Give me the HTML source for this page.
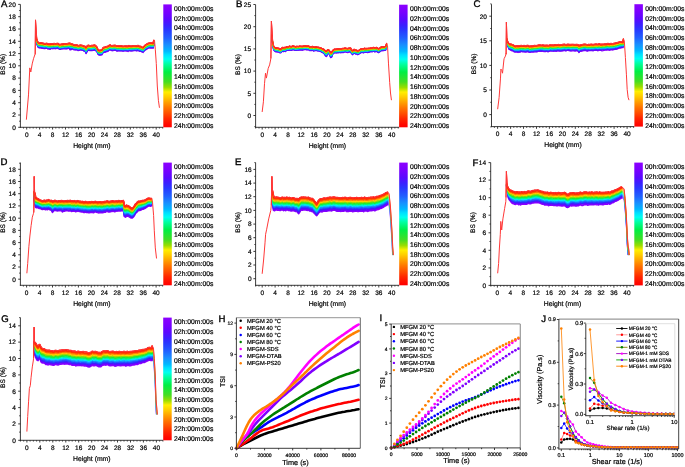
<!DOCTYPE html><html><head><meta charset="utf-8"><style>html,body{margin:0;padding:0;background:#fff}svg{display:block;will-change:transform;filter:blur(0.25px)}text{font-family:"Liberation Sans", sans-serif;text-rendering:geometricPrecision;stroke:#000;stroke-width:0.2px}</style></head><body><svg width="685" height="467" viewBox="0 0 685 467"><defs><linearGradient id="cbg" x1="0" y1="0" x2="0" y2="1"><stop offset="0.0" stop-color="#8c00ff"/><stop offset="0.062" stop-color="#7800ff"/><stop offset="0.12" stop-color="#5a08ff"/><stop offset="0.168" stop-color="#3a20ff"/><stop offset="0.208" stop-color="#2838ff"/><stop offset="0.273" stop-color="#2060ff"/><stop offset="0.33" stop-color="#1890ff"/><stop offset="0.38" stop-color="#00b8ff"/><stop offset="0.41" stop-color="#00e0ff"/><stop offset="0.445" stop-color="#00fff0"/><stop offset="0.485" stop-color="#00ffa0"/><stop offset="0.55" stop-color="#00ee44"/><stop offset="0.63" stop-color="#44dd22"/><stop offset="0.675" stop-color="#99dd00"/><stop offset="0.713" stop-color="#ffee00"/><stop offset="0.753" stop-color="#ffcc00"/><stop offset="0.797" stop-color="#ffa000"/><stop offset="0.84" stop-color="#ff7700"/><stop offset="0.886" stop-color="#ff5000"/><stop offset="0.93" stop-color="#ff2800"/><stop offset="0.976" stop-color="#ff0a00"/><stop offset="1.0" stop-color="#ff0000"/></linearGradient><clipPath id="cjm"><rect x="558.9" y="319.1" width="119.80000000000007" height="131.89999999999998"/></clipPath><clipPath id="cji"><rect x="585.8" y="323.7" width="89.0" height="94.0"/></clipPath></defs><rect width="685" height="467" fill="#fff"/><g fill="none" stroke-linejoin="round" stroke-linecap="round">
<path d="M35.7,38.3L36.6,42.6L37.5,45.8L38,47.1L39,47.8L40,47.8L41,48L42,48.3L43,48.1L44,48.5L45,48.5L46,48.1L47,48.2L48,49.1L49,48.7L50,49.4L51,48.4L52,48.6L53,48.6L54,48.5L55,48.6L56,48.7L57,48.2L58,48.5L59,49L60,49.3L61,49.2L62,48.9L63,48.8L64,48.8L65,48.8L66,48.8L67,48.8L68,48.3L69,48.2L70,49.8L71,49.7L72,49.1L73,48.9L74,49.9L75,49.8L76,49.9L77,49.6L78,50.6L79,50.3L80,50L81,49.9L82,50L83,50.4L84,50.9L85,51L86,53.6L87,52L88,50.1L89,50.4L90,50.6L91,50.5L92,50.5L93,50.3L94,50.2L95,50.2L96,50.9L97,51.8L98,54.2L99,55L100,55.1L101,55.1L102,54.8L103,52.9L104,52L105,52.3L106,51.9L107,51.6L108,51.2L109,50.2L110,49.7L111,50.4L112,50.7L113,50.6L114,50.3L115,50.4L116,50.4L117,51.2L118,51L119,50.7L120,50.8L121,50.7L122,51L123,51.2L124,50.8L125,50.9L126,51.1L127,50.8L128,51.5L129,50.4L130,50.8L131,50.7L132,51.1L133,50.9L134,50.6L135,50.4L136,50.7L137,50.8L138,50.2L139,51.1L140,51.4L141,51.4L142,52L143,52.5L144,51.1L145,50L146,49.6L147,48.9L148,48.3L149,48L150,48L151,47.8L152,48L153,48.2L153.8,45.2" stroke="#8c00ff" stroke-width="1.37"/>
<path d="M35.7,38.1L36.6,42.3L37.5,45.4L38,46.7L39,47.6L40,47.5L41,47.1L42,47.5L43,47.5L44,47.8L45,48.1L46,47.8L47,47.9L48,48.6L49,48.5L50,48.8L51,48.2L52,48.3L53,48.5L54,47.9L55,48.1L56,48.3L57,47.8L58,48.1L59,48.7L60,48.9L61,48.7L62,48.5L63,48.5L64,48L65,48L66,48.6L67,48.4L68,47.9L69,47.9L70,49.1L71,49.3L72,48.8L73,48.9L74,49.4L75,49.6L76,49.8L77,49.2L78,50.1L79,50.1L80,49.4L81,49.7L82,49.7L83,50.3L84,50.9L85,50.5L86,53.1L87,51.2L88,49.8L89,50L90,50.4L91,50.3L92,49.8L93,50.1L94,49.4L95,49.8L96,50.4L97,51.5L98,53.9L99,54.7L100,54.9L101,54.3L102,54L103,52.2L104,51.6L105,51.9L106,51.4L107,51.1L108,50.9L109,49.9L110,49.3L111,49.7L112,50.2L113,50.1L114,50.1L115,49.8L116,50L117,50.6L118,50.6L119,50.2L120,50.8L121,50.4L122,50.5L123,50.8L124,50.5L125,50.4L126,50.3L127,50.7L128,50.9L129,50.3L130,50.6L131,50.8L132,50.4L133,50.1L134,50.1L135,50.1L136,50.3L137,50.5L138,49.9L139,50.5L140,50.9L141,50.9L142,51.6L143,51.8L144,51L145,49.9L146,49.2L147,48.7L148,47.7L149,47.4L150,47.3L151,47.7L152,47.4L153,47.7L153.8,44.8" stroke="#6d03ff" stroke-width="1.37"/>
<path d="M35.7,38L36.6,42L37.5,45L38,46.3L39,46.8L40,46.9L41,46.7L42,47.2L43,47.5L44,47.8L45,48L46,47.6L47,47.3L48,48.3L49,47.8L50,48.3L51,47.5L52,48.1L53,47.8L54,47.5L55,47.9L56,47.9L57,47.5L58,47.5L59,48.3L60,48.9L61,48.4L62,48.4L63,48.4L64,47.6L65,47.9L66,47.7L67,47.9L68,47.4L69,47.6L70,48.5L71,48.9L72,47.9L73,48.1L74,48.8L75,48.8L76,49.4L77,49.2L78,49.9L79,49.6L80,49.2L81,49.4L82,49.5L83,49.6L84,50.5L85,50.4L86,52.6L87,50.8L88,49.3L89,49.7L90,49.7L91,49.7L92,49.7L93,49.5L94,49.3L95,49.1L96,50L97,51.3L98,53.3L99,54.5L100,54.2L101,54.2L102,53.8L103,51.7L104,51.6L105,51.2L106,50.7L107,50.5L108,50L109,49.3L110,49.2L111,49.3L112,49.8L113,49.7L114,49.5L115,49.6L116,49.9L117,49.9L118,49.8L119,50L120,50.4L121,50L122,50.2L123,50.4L124,50.5L125,50.3L126,50.2L127,50.4L128,50.2L129,49.8L130,50.2L131,49.9L132,49.9L133,50L134,49.9L135,49.8L136,49.7L137,49.8L138,49.8L139,50.5L140,50.4L141,50.7L142,51L143,51.4L144,50.4L145,49.4L146,48.5L147,47.9L148,47.4L149,47.1L150,46.8L151,46.9L152,47L153,47.3L153.8,44.4" stroke="#3b1fff" stroke-width="1.37"/>
<path d="M35.7,37.8L36.6,41.7L37.5,44.6L38,45.9L39,46.7L40,46.5L41,46.6L42,46.6L43,46.8L44,47.3L45,47.2L46,46.9L47,46.9L48,47.6L49,47.8L50,47.7L51,47.4L52,47.7L53,47.4L54,47.2L55,47.3L56,47.6L57,47.1L58,47.1L59,47.9L60,48.3L61,47.8L62,47.8L63,47.7L64,47.3L65,47.7L66,47.7L67,47.2L68,47.3L69,47.1L70,47.9L71,48L72,47.7L73,48.1L74,48.8L75,48.4L76,48.7L77,48.8L78,49.1L79,49.1L80,48.7L81,48.9L82,49.2L83,49.5L84,49.6L85,49.8L86,51.8L87,50.4L88,48.9L89,49.3L90,49.4L91,49.3L92,49.1L93,49L94,48.9L95,49.1L96,49.8L97,50.9L98,53L99,53.8L100,53.8L101,53.8L102,53.2L103,51.7L104,51.1L105,51L106,50.5L107,50L108,50L109,48.9L110,48.7L111,49.2L112,49.4L113,49L114,49.3L115,48.9L116,49.2L117,49.6L118,49.7L119,49.3L120,49.8L121,49.4L122,49.8L123,49.9L124,49.8L125,50L126,49.4L127,49.9L128,50L129,49.2L130,49.6L131,49.5L132,49.8L133,49.3L134,49.7L135,49.3L136,49.3L137,49.5L138,49.2L139,50L140,49.8L141,50.2L142,50.5L143,51L144,49.9L145,48.8L146,48.2L147,47.7L148,47.1L149,46.8L150,46.5L151,46.8L152,46.5L153,46.9L153.8,44" stroke="#2352ff" stroke-width="1.37"/>
<path d="M35.7,37.7L36.6,41.4L37.5,44.2L38,45.5L39,46.4L40,46L41,46L42,46.5L43,46.3L44,46.7L45,46.8L46,46.9L47,46.9L48,47.1L49,47.2L50,47.3L51,46.7L52,46.9L53,47.2L54,46.7L55,46.9L56,47.1L57,46.4L58,46.7L59,47.1L60,48L61,47.5L62,47.4L63,47.3L64,46.9L65,47.1L66,46.9L67,47L68,46.8L69,46.3L70,47.4L71,47.5L72,47.3L73,47.3L74,48.2L75,48L76,48.4L77,48L78,49L79,49L80,48.5L81,48.4L82,48.8L83,49.1L84,49.4L85,49.7L86,51.7L87,49.7L88,48.6L89,48.8L90,49L91,49L92,48.5L93,48.9L94,48.4L95,48.3L96,49.4L97,50.5L98,52.5L99,53.3L100,53.3L101,53.3L102,53L103,51.3L104,50.7L105,50.3L106,49.9L107,49.5L108,49.4L109,48.6L110,48.2L111,48.8L112,49L113,48.9L114,48.8L115,48.7L116,48.9L117,49.2L118,49.2L119,49.1L120,49.4L121,49.1L122,49.3L123,49.5L124,49.4L125,49.3L126,49.1L127,49.2L128,49.6L129,49.1L130,49.4L131,49L132,49.4L133,49.2L134,49.1L135,48.7L136,48.9L137,48.9L138,48.8L139,49.2L140,49.6L141,49.8L142,50.4L143,50.7L144,49.6L145,48.2L146,48L147,47.4L148,46.8L149,46.5L150,46L151,46.1L152,46L153,46.5L153.8,43.5" stroke="#1693ff" stroke-width="1.37"/>
<path d="M35.7,37.5L36.6,41L37.5,43.8L38,45.1L39,45.8L40,46L41,45.9L42,46L43,46.2L44,46.5L45,46.4L46,46L47,46.4L48,47.2L49,46.8L50,47.1L51,46.4L52,46.8L53,46.6L54,46L55,46.7L56,46.4L57,46.3L58,46.4L59,46.7L60,47.4L61,47L62,47L63,47.1L64,46.5L65,46.4L66,46.6L67,46.5L68,46.3L69,46.4L70,46.9L71,47L72,47L73,47.1L74,47.9L75,47.8L76,47.9L77,47.9L78,48.3L79,48.6L80,47.7L81,48L82,48.2L83,48.5L84,48.9L85,49.1L86,50.9L87,49.2L88,48L89,48.2L90,48.3L91,48.6L92,48.4L93,48.5L94,47.7L95,47.9L96,48.7L97,50L98,52.4L99,53.2L100,53.1L101,53.1L102,52.7L103,50.8L104,50L105,50.2L106,49.4L107,49.5L108,49.1L109,48.5L110,47.8L111,48.3L112,48.4L113,48.5L114,48.1L115,47.9L116,48.3L117,48.9L118,48.8L119,48.8L120,49L121,48.7L122,49L123,49L124,48.8L125,48.8L126,48.6L127,49L128,49.3L129,48.3L130,48.9L131,48.7L132,48.6L133,48.5L134,48.5L135,48.6L136,48.8L137,48.3L138,48.3L139,49L140,49.2L141,49.1L142,50.1L143,50.2L144,49.2L145,48L146,47.5L147,47L148,46.2L149,45.9L150,45.9L151,45.7L152,46L153,46.1L153.8,43.1" stroke="#00e6fc" stroke-width="1.37"/>
<path d="M35.7,37.4L36.6,40.7L37.5,43.4L38,44.6L39,45.4L40,45.3L41,45.5L42,45.7L43,45.7L44,46.1L45,46L46,45.7L47,45.8L48,46.7L49,46.3L50,46.9L51,46.1L52,46.4L53,46.4L54,45.6L55,46.4L56,46.2L57,45.6L58,45.8L59,46.7L60,47L61,46.9L62,46.7L63,46.5L64,46.1L65,46.3L66,46.5L67,46.1L68,45.9L69,45.5L70,46.2L71,46.5L72,46.4L73,46.7L74,47.6L75,47.4L76,47.7L77,47.2L78,48.2L79,48L80,47.4L81,47.6L82,48L83,48.1L84,48.4L85,48.6L86,50.5L87,49L88,47.5L89,47.8L90,47.9L91,48L92,47.8L93,47.8L94,47.5L95,47.7L96,48.4L97,49.6L98,51.9L99,52.9L100,52.5L101,52.2L102,51.9L103,50.2L104,49.6L105,49.5L106,49L107,49L108,48.4L109,47.9L110,47.6L111,47.7L112,48.1L113,48.1L114,47.8L115,47.9L116,47.8L117,48.5L118,48.5L119,48.2L120,48.7L121,48.4L122,48.6L123,48.7L124,48.7L125,48.7L126,48.5L127,48.3L128,48.6L129,48.1L130,48.3L131,48.3L132,48.6L133,48.2L134,48.5L135,48.3L136,48.3L137,48.1L138,47.8L139,48.3L140,48.6L141,48.9L142,49.6L143,49.7L144,48.7L145,47.5L146,47.2L147,46.3L148,45.9L149,45.6L150,45.5L151,45.3L152,45.3L153,45.7L153.8,42.7" stroke="#00fb8b" stroke-width="1.37"/>
<path d="M35.7,37.2L36.6,40.4L37.5,43L38,44.2L39,44.9L40,44.9L41,44.9L42,45.4L43,45.2L44,45.4L45,45.5L46,45.4L47,45.4L48,45.8L49,45.8L50,46.4L51,45.7L52,45.7L53,46.1L54,45.6L55,45.5L56,45.6L57,45.4L58,45.5L59,45.9L60,46.7L61,46.5L62,46.1L63,46.3L64,45.8L65,45.8L66,45.8L67,45.9L68,45.6L69,45.3L70,45.9L71,46.4L72,46.2L73,46.3L74,46.8L75,46.7L76,47L77,46.7L78,47.5L79,47.6L80,46.9L81,47L82,47.4L83,47.9L84,48.1L85,48.4L86,49.9L87,48.1L88,47.5L89,47.3L90,47.6L91,47.4L92,47.3L93,47.4L94,47L95,47.2L96,48.2L97,49.2L98,51.5L99,52.5L100,52.2L101,52.1L102,51.6L103,49.9L104,49.1L105,49.1L106,48.9L107,48.6L108,48.1L109,47.2L110,47L111,47.2L112,47.6L113,47.6L114,47.5L115,47.5L116,47.4L117,48.1L118,47.7L119,48.1L120,48.2L121,47.9L122,48.2L123,48.5L124,48.3L125,48.3L126,47.8L127,47.9L128,48.4L129,47.4L130,48.2L131,48L132,48.1L133,47.6L134,47.8L135,47.8L136,47.9L137,47.6L138,47.4L139,48.3L140,48.5L141,48.5L142,48.8L143,49.6L144,48.4L145,47.3L146,46.8L147,46.1L148,45.5L149,45L150,44.7L151,45.2L152,45.2L153,45.2L153.8,42.3" stroke="#1ce736" stroke-width="1.37"/>
<path d="M35.7,37.1L36.6,40.1L37.5,42.6L38,43.8L39,44.3L40,44.7L41,44.5L42,44.8L43,44.8L44,45L45,45.5L46,44.8L47,44.8L48,45.8L49,45.2L50,45.8L51,45.3L52,45.5L53,45.3L54,45.1L55,45.4L56,45.5L57,44.9L58,45.3L59,45.6L60,46.3L61,45.8L62,45.8L63,45.6L64,45.4L65,45.5L66,45.2L67,45.5L68,44.8L69,45L70,45.2L71,45.6L72,45.6L73,45.7L74,46.6L75,46.4L76,46.8L77,46.4L78,47.3L79,47.1L80,46.7L81,46.8L82,46.9L83,47.4L84,47.9L85,47.9L86,49.6L87,47.7L88,46.7L89,47.2L90,47.3L91,47.2L92,47.2L93,47.3L94,46.7L95,46.6L96,47.5L97,48.6L98,51.1L99,51.8L100,51.8L101,51.8L102,51L103,49.2L104,48.9L105,48.6L106,48.3L107,47.9L108,47.9L109,46.8L110,46.6L111,47.1L112,47.3L113,47L114,46.8L115,47.1L116,47.3L117,47.7L118,47.4L119,47.3L120,47.9L121,47.5L122,47.7L123,47.8L124,47.8L125,47.9L126,47.8L127,47.8L128,47.7L129,47L130,47.5L131,47.7L132,47.5L133,47.2L134,47.4L135,47.1L136,47.3L137,47.4L138,47.1L139,47.7L140,47.9L141,48.3L142,48.9L143,49.1L144,47.7L145,46.9L146,46L147,45.3L148,44.7L149,44.7L150,44.6L151,44.6L152,44.7L153,44.8L153.8,41.9" stroke="#89dd06" stroke-width="1.37"/>
<path d="M35.7,36.9L36.6,39.8L37.5,42.2L38,43.4L39,44.1L40,44.3L41,44L42,44.4L43,44.3L44,44.6L45,45.1L46,44.7L47,44.7L48,45.3L49,45.2L50,45.4L51,44.9L52,45.1L53,45L54,44.3L55,45.1L56,45.1L57,44.4L58,44.7L59,45.1L60,45.9L61,45.2L62,45.2L63,45L64,45.1L65,45L66,45.1L67,44.9L68,44.7L69,44.7L70,44.6L71,45.1L72,45.1L73,45.4L74,45.9L75,46.1L76,46.3L77,46.2L78,46.9L79,46.6L80,46L81,46.3L82,46.5L83,47L84,47.3L85,47.6L86,49L87,47.4L88,46.5L89,46.8L90,46.9L91,47L92,46.4L93,46.4L94,46L95,46.4L96,47.2L97,48.1L98,50.7L99,51.3L100,51.4L101,51.4L102,51L103,48.9L104,48.2L105,48.3L106,48L107,47.6L108,47.3L109,46.6L110,46.4L111,46.5L112,46.8L113,46.5L114,46.6L115,46.3L116,46.8L117,47.2L118,47.2L119,47L120,47.5L121,46.8L122,47.1L123,47.4L124,47.1L125,47.4L126,47.3L127,47.5L128,47.3L129,46.9L130,47.4L131,47.4L132,47L133,46.9L134,47.1L135,46.9L136,46.7L137,46.7L138,46.9L139,47.4L140,47.4L141,47.6L142,48.1L143,48.5L144,47.7L145,46.1L146,46L147,45.3L148,44.4L149,44.5L150,44L151,44.2L152,44.2L153,44.4L153.8,41.5" stroke="#ffcf00" stroke-width="1.37"/>
<path d="M35.7,36.8L36.6,39.4L37.5,41.8L38,43L39,43.6L40,44L41,43.7L42,43.8L43,44L44,44.2L45,44.3L46,44L47,44.3L48,44.7L49,44.5L50,44.7L51,44.6L52,44.5L53,44.5L54,44.3L55,44.3L56,44.7L57,44.2L58,44.1L59,45L60,45.2L61,44.8L62,44.9L63,45.1L64,44.4L65,44.4L66,44.6L67,44.6L68,44.4L69,44.1L70,44.2L71,44.7L72,45L73,44.9L74,45.7L75,45.5L76,46.1L77,45.8L78,46.2L79,46.5L80,46L81,45.8L82,46L83,46.3L84,47.2L85,47L86,48.7L87,46.8L88,46.1L89,46.4L90,46.4L91,46.2L92,46.3L93,46.4L94,45.8L95,46.1L96,46.9L97,48.1L98,50.4L99,51L100,50.9L101,50.6L102,50.3L103,48.5L104,47.9L105,47.7L106,47.5L107,47L108,47L109,46.1L110,46L111,46.2L112,46.3L113,46.3L114,46.2L115,46.3L116,46.5L117,46.7L118,46.5L119,46.5L120,46.8L121,46.3L122,46.9L123,47L124,46.9L125,46.8L126,46.8L127,46.7L128,47L129,46.2L130,46.9L131,46.8L132,46.9L133,46.6L134,46.3L135,46.5L136,46.7L137,46.7L138,46.1L139,46.9L140,46.9L141,47.3L142,48L143,48.4L144,47L145,46L146,45.3L147,44.6L148,44L149,43.7L150,43.7L151,43.6L152,43.6L153,44L153.8,41" stroke="#ff7d00" stroke-width="1.37"/>
<path d="M35.7,36.6L36.6,39.1L37.5,41.4L38,42.6L39,43L40,43.3L41,43.3L42,43.3L43,43.6L44,44L45,44.3L46,43.8L47,43.5L48,44.5L49,44.4L50,44.7L51,44.1L52,44.3L53,44.3L54,43.7L55,43.9L56,44L57,43.7L58,43.9L59,44.7L60,44.8L61,44.6L62,44.5L63,44.3L64,44L65,43.9L66,44.1L67,43.9L68,43.8L69,43.6L70,43.5L71,44.1L72,44.5L73,44.5L74,45.5L75,45.5L76,45.4L77,45.3L78,45.8L79,45.8L80,45.5L81,45.7L82,45.5L83,45.9L84,46.6L85,46.4L86,47.8L87,46.4L88,45.5L89,45.7L90,46L91,45.8L92,45.7L93,45.9L94,45.4L95,45.5L96,46.2L97,47.7L98,50.1L99,50.8L100,50.7L101,50.3L102,50L103,48L104,47.9L105,47.4L106,46.9L107,46.9L108,46.3L109,45.9L110,45.2L111,45.8L112,46L113,45.6L114,45.7L115,45.7L116,45.7L117,46.2L118,46.2L119,46.2L120,46.4L121,46L122,46.4L123,46.5L124,46.4L125,46.4L126,46.6L127,46.4L128,46.5L129,45.8L130,46.4L131,46.6L132,46.4L133,46.2L134,46L135,45.9L136,46.3L137,46.3L138,45.8L139,46.5L140,46.8L141,46.9L142,47.3L143,47.7L144,46.6L145,45.5L146,44.8L147,44.1L148,43.9L149,43.4L150,43.2L151,43.2L152,43.5L153,43.6L153.8,40.6" stroke="#ff3400" stroke-width="1.37"/>
<path d="M39,42.8L40,42.9L41,42.7L42,43L43,43.1L44,43.4L45,43.7L46,43.3L47,43.3L48,44L49,43.8L50,44.1L51,43.6L52,43.7L53,43.8L54,43.3L55,43.7L56,43.7L57,43.3L58,43.4L59,44L60,44.5L61,44.2L62,44L63,44L64,43.6L65,43.7L66,43.7L67,43.7L68,43.3L69,43.2L70,43.1L71,43.7L72,44L73,44.2L74,44.9L75,44.8L76,45L77,44.8L78,45.5L79,45.6L80,45L81,45.1L82,45.3L83,45.6L84,46.1L85,46.2L86,47.5L87,45.9L88,45.2L89,45.4L90,45.6L91,45.5L92,45.3L93,45.4L94,45L95,45.1L96,45.8L97,47L98,49.4L99,50.2L100,50.1L101,49.9L102,49.6L103,47.7L104,47.2L105,47.2L106,46.7L107,46.4L108,46.1L109,45.3L110,44.9L111,45.3L112,45.6L113,45.4L114,45.3L115,45.2L116,45.5L117,45.9L118,45.8L119,45.7L120,46L121,45.6L122,45.9L123,46.3L124,46.1L125,46L126,45.9L127,46L128,46.2L129,45.5L130,46L131,45.9L132,45.9L133,45.7L134,45.7L135,45.6L136,45.7L137,45.6L138,45.4L139,46.1L140,46.2L141,46.4L142,47L143,47.4L144,46.2L145,45.1L146,44.5L147,43.9L148,43.2L149,43.1L150,42.8L151,42.9L152,42.9L153,43.2L153.8,40.2" stroke="#ff1010" stroke-width="1.3"/>
<path d="M35.2,54L35.5,19.9L36.1,28L36.6,36.4L37,39.8L38.3,42.4" stroke="#ff1a1a" stroke-width="1.0"/>
<path d="M26.4,119.3L28.5,94.9L29.8,67.9L30.8,72L32.2,63.9L33.5,58.7L34.8,54.9L35.2,54L35.5,19.9L36.1,28L36.6,36.4L37,39.8L38.3,42.4L39,42.8L40,42.9L41,42.7L42,43L43,43.1L44,43.4L45,43.7L46,43.3L47,43.3L48,44L49,43.8L50,44.1L51,43.6L52,43.7L53,43.8L54,43.3L55,43.7L56,43.7L57,43.3L58,43.4L59,44L60,44.5L61,44.2L62,44L63,44L64,43.6L65,43.7L66,43.7L67,43.7L68,43.3L69,43.2L70,43.1L71,43.7L72,44L73,44.2L74,44.9L75,44.8L76,45L77,44.8L78,45.5L79,45.6L80,45L81,45.1L82,45.3L83,45.6L84,46.1L85,46.2L86,47.5L87,45.9L88,45.2L89,45.4L90,45.6L91,45.5L92,45.3L93,45.4L94,45L95,45.1L96,45.8L97,47L98,49.4L99,50.2L100,50.1L101,49.9L102,49.6L103,47.7L104,47.2L105,47.2L106,46.7L107,46.4L108,46.1L109,45.3L110,44.9L111,45.3L112,45.6L113,45.4L114,45.3L115,45.2L116,45.5L117,45.9L118,45.8L119,45.7L120,46L121,45.6L122,45.9L123,46.3L124,46.1L125,46L126,45.9L127,46L128,46.2L129,45.5L130,46L131,45.9L132,45.9L133,45.7L134,45.7L135,45.6L136,45.7L137,45.6L138,45.4L139,46.1L140,46.2L141,46.4L142,47L143,47.4L144,46.2L145,45.1L146,44.5L147,43.9L148,43.2L149,43.1L150,42.8L151,42.9L152,42.9L153,43.2L153.8,40.2L154.5,40.5L155.3,49.3L156.3,63.6L157.3,86L158.4,100.3L159.4,107.4" stroke="#ff3838" stroke-width="1.0"/>
</g>
<line x1="20.4" y1="4.4" x2="20.4" y2="127.8" stroke="#262626" stroke-width="0.9"/>
<line x1="19.9" y1="127.3" x2="163.3" y2="127.3" stroke="#262626" stroke-width="0.9"/>
<line x1="18.2" y1="127.3" x2="20.4" y2="127.3" stroke="#262626" stroke-width="0.9"/>
<text x="15.8" y="129.6" font-size="6.5" text-anchor="end" fill="#000">0</text>
<line x1="18.2" y1="115" x2="20.4" y2="115" stroke="#262626" stroke-width="0.9"/>
<text x="15.8" y="117.3" font-size="6.5" text-anchor="end" fill="#000">2</text>
<line x1="18.2" y1="102.7" x2="20.4" y2="102.7" stroke="#262626" stroke-width="0.9"/>
<text x="15.8" y="105" font-size="6.5" text-anchor="end" fill="#000">4</text>
<line x1="18.2" y1="90.4" x2="20.4" y2="90.4" stroke="#262626" stroke-width="0.9"/>
<text x="15.8" y="92.7" font-size="6.5" text-anchor="end" fill="#000">6</text>
<line x1="18.2" y1="78.1" x2="20.4" y2="78.1" stroke="#262626" stroke-width="0.9"/>
<text x="15.8" y="80.4" font-size="6.5" text-anchor="end" fill="#000">8</text>
<line x1="18.2" y1="65.8" x2="20.4" y2="65.8" stroke="#262626" stroke-width="0.9"/>
<text x="15.8" y="68.1" font-size="6.5" text-anchor="end" fill="#000">10</text>
<line x1="18.2" y1="53.6" x2="20.4" y2="53.6" stroke="#262626" stroke-width="0.9"/>
<text x="15.8" y="55.9" font-size="6.5" text-anchor="end" fill="#000">12</text>
<line x1="18.2" y1="41.3" x2="20.4" y2="41.3" stroke="#262626" stroke-width="0.9"/>
<text x="15.8" y="43.6" font-size="6.5" text-anchor="end" fill="#000">14</text>
<line x1="18.2" y1="29" x2="20.4" y2="29" stroke="#262626" stroke-width="0.9"/>
<text x="15.8" y="31.3" font-size="6.5" text-anchor="end" fill="#000">16</text>
<line x1="18.2" y1="16.7" x2="20.4" y2="16.7" stroke="#262626" stroke-width="0.9"/>
<text x="15.8" y="19" font-size="6.5" text-anchor="end" fill="#000">18</text>
<line x1="18.2" y1="4.4" x2="20.4" y2="4.4" stroke="#262626" stroke-width="0.9"/>
<text x="15.8" y="6.7" font-size="6.5" text-anchor="end" fill="#000">20</text>
<line x1="19.2" y1="121.2" x2="20.4" y2="121.2" stroke="#262626" stroke-width="0.9"/>
<line x1="19.2" y1="108.9" x2="20.4" y2="108.9" stroke="#262626" stroke-width="0.9"/>
<line x1="19.2" y1="96.6" x2="20.4" y2="96.6" stroke="#262626" stroke-width="0.9"/>
<line x1="19.2" y1="84.3" x2="20.4" y2="84.3" stroke="#262626" stroke-width="0.9"/>
<line x1="19.2" y1="72" x2="20.4" y2="72" stroke="#262626" stroke-width="0.9"/>
<line x1="19.2" y1="59.7" x2="20.4" y2="59.7" stroke="#262626" stroke-width="0.9"/>
<line x1="19.2" y1="47.4" x2="20.4" y2="47.4" stroke="#262626" stroke-width="0.9"/>
<line x1="19.2" y1="35.1" x2="20.4" y2="35.1" stroke="#262626" stroke-width="0.9"/>
<line x1="19.2" y1="22.8" x2="20.4" y2="22.8" stroke="#262626" stroke-width="0.9"/>
<line x1="19.2" y1="10.5" x2="20.4" y2="10.5" stroke="#262626" stroke-width="0.9"/>
<line x1="26.7" y1="127.3" x2="26.7" y2="129.5" stroke="#262626" stroke-width="0.9"/>
<text x="26.7" y="136.6" font-size="6.5" text-anchor="middle" fill="#000">0</text>
<line x1="39.6" y1="127.3" x2="39.6" y2="129.5" stroke="#262626" stroke-width="0.9"/>
<text x="39.6" y="136.6" font-size="6.5" text-anchor="middle" fill="#000">4</text>
<line x1="52.6" y1="127.3" x2="52.6" y2="129.5" stroke="#262626" stroke-width="0.9"/>
<text x="52.6" y="136.6" font-size="6.5" text-anchor="middle" fill="#000">8</text>
<line x1="65.5" y1="127.3" x2="65.5" y2="129.5" stroke="#262626" stroke-width="0.9"/>
<text x="65.5" y="136.6" font-size="6.5" text-anchor="middle" fill="#000">12</text>
<line x1="78.5" y1="127.3" x2="78.5" y2="129.5" stroke="#262626" stroke-width="0.9"/>
<text x="78.5" y="136.6" font-size="6.5" text-anchor="middle" fill="#000">16</text>
<line x1="91.5" y1="127.3" x2="91.5" y2="129.5" stroke="#262626" stroke-width="0.9"/>
<text x="91.5" y="136.6" font-size="6.5" text-anchor="middle" fill="#000">20</text>
<line x1="104.4" y1="127.3" x2="104.4" y2="129.5" stroke="#262626" stroke-width="0.9"/>
<text x="104.4" y="136.6" font-size="6.5" text-anchor="middle" fill="#000">24</text>
<line x1="117.3" y1="127.3" x2="117.3" y2="129.5" stroke="#262626" stroke-width="0.9"/>
<text x="117.3" y="136.6" font-size="6.5" text-anchor="middle" fill="#000">28</text>
<line x1="130.3" y1="127.3" x2="130.3" y2="129.5" stroke="#262626" stroke-width="0.9"/>
<text x="130.3" y="136.6" font-size="6.5" text-anchor="middle" fill="#000">32</text>
<line x1="143.2" y1="127.3" x2="143.2" y2="129.5" stroke="#262626" stroke-width="0.9"/>
<text x="143.2" y="136.6" font-size="6.5" text-anchor="middle" fill="#000">36</text>
<line x1="156.2" y1="127.3" x2="156.2" y2="129.5" stroke="#262626" stroke-width="0.9"/>
<text x="156.2" y="136.6" font-size="6.5" text-anchor="middle" fill="#000">40</text>
<line x1="23.5" y1="127.3" x2="23.5" y2="128.5" stroke="#262626" stroke-width="0.9"/>
<line x1="29.9" y1="127.3" x2="29.9" y2="128.5" stroke="#262626" stroke-width="0.9"/>
<line x1="33.2" y1="127.3" x2="33.2" y2="128.5" stroke="#262626" stroke-width="0.9"/>
<line x1="36.4" y1="127.3" x2="36.4" y2="128.5" stroke="#262626" stroke-width="0.9"/>
<line x1="42.9" y1="127.3" x2="42.9" y2="128.5" stroke="#262626" stroke-width="0.9"/>
<line x1="46.1" y1="127.3" x2="46.1" y2="128.5" stroke="#262626" stroke-width="0.9"/>
<line x1="49.4" y1="127.3" x2="49.4" y2="128.5" stroke="#262626" stroke-width="0.9"/>
<line x1="55.8" y1="127.3" x2="55.8" y2="128.5" stroke="#262626" stroke-width="0.9"/>
<line x1="59.1" y1="127.3" x2="59.1" y2="128.5" stroke="#262626" stroke-width="0.9"/>
<line x1="62.3" y1="127.3" x2="62.3" y2="128.5" stroke="#262626" stroke-width="0.9"/>
<line x1="68.8" y1="127.3" x2="68.8" y2="128.5" stroke="#262626" stroke-width="0.9"/>
<line x1="72" y1="127.3" x2="72" y2="128.5" stroke="#262626" stroke-width="0.9"/>
<line x1="75.3" y1="127.3" x2="75.3" y2="128.5" stroke="#262626" stroke-width="0.9"/>
<line x1="81.7" y1="127.3" x2="81.7" y2="128.5" stroke="#262626" stroke-width="0.9"/>
<line x1="85" y1="127.3" x2="85" y2="128.5" stroke="#262626" stroke-width="0.9"/>
<line x1="88.2" y1="127.3" x2="88.2" y2="128.5" stroke="#262626" stroke-width="0.9"/>
<line x1="94.7" y1="127.3" x2="94.7" y2="128.5" stroke="#262626" stroke-width="0.9"/>
<line x1="97.9" y1="127.3" x2="97.9" y2="128.5" stroke="#262626" stroke-width="0.9"/>
<line x1="101.2" y1="127.3" x2="101.2" y2="128.5" stroke="#262626" stroke-width="0.9"/>
<line x1="107.6" y1="127.3" x2="107.6" y2="128.5" stroke="#262626" stroke-width="0.9"/>
<line x1="110.9" y1="127.3" x2="110.9" y2="128.5" stroke="#262626" stroke-width="0.9"/>
<line x1="114.1" y1="127.3" x2="114.1" y2="128.5" stroke="#262626" stroke-width="0.9"/>
<line x1="120.6" y1="127.3" x2="120.6" y2="128.5" stroke="#262626" stroke-width="0.9"/>
<line x1="123.8" y1="127.3" x2="123.8" y2="128.5" stroke="#262626" stroke-width="0.9"/>
<line x1="127.1" y1="127.3" x2="127.1" y2="128.5" stroke="#262626" stroke-width="0.9"/>
<line x1="133.5" y1="127.3" x2="133.5" y2="128.5" stroke="#262626" stroke-width="0.9"/>
<line x1="136.8" y1="127.3" x2="136.8" y2="128.5" stroke="#262626" stroke-width="0.9"/>
<line x1="140" y1="127.3" x2="140" y2="128.5" stroke="#262626" stroke-width="0.9"/>
<line x1="146.5" y1="127.3" x2="146.5" y2="128.5" stroke="#262626" stroke-width="0.9"/>
<line x1="149.7" y1="127.3" x2="149.7" y2="128.5" stroke="#262626" stroke-width="0.9"/>
<line x1="153" y1="127.3" x2="153" y2="128.5" stroke="#262626" stroke-width="0.9"/>
<line x1="159.4" y1="127.3" x2="159.4" y2="128.5" stroke="#262626" stroke-width="0.9"/>
<line x1="162.7" y1="127.3" x2="162.7" y2="128.5" stroke="#262626" stroke-width="0.9"/>
<text x="91.9" y="147.7" font-size="6.8" text-anchor="middle" fill="#000">Height (mm)</text>
<text x="4.8" y="64.3" font-size="6.6" text-anchor="middle" fill="#000" transform="rotate(-90 4.8 64.3)">BS (%)</text>
<text x="1.1" y="7.3" font-size="9.6" text-anchor="start" fill="#000" style="stroke-width:0.35px">A</text>
<rect x="163.3" y="4.4" width="8.5" height="122.9" fill="url(#cbg)"/>
<text x="174.1" y="10.9" font-size="6.8" text-anchor="start" fill="#000">00h:00m:00s</text>
<text x="174.1" y="20.7" font-size="6.8" text-anchor="start" fill="#000">02h:00m:00s</text>
<text x="174.1" y="30.4" font-size="6.8" text-anchor="start" fill="#000">04h:00m:00s</text>
<text x="174.1" y="40.1" font-size="6.8" text-anchor="start" fill="#000">06h:00m:00s</text>
<text x="174.1" y="49.9" font-size="6.8" text-anchor="start" fill="#000">08h:00m:00s</text>
<text x="174.1" y="59.6" font-size="6.8" text-anchor="start" fill="#000">10h:00m:00s</text>
<text x="174.1" y="69.3" font-size="6.8" text-anchor="start" fill="#000">12h:00m:00s</text>
<text x="174.1" y="79.1" font-size="6.8" text-anchor="start" fill="#000">14h:00m:00s</text>
<text x="174.1" y="88.8" font-size="6.8" text-anchor="start" fill="#000">16h:00m:00s</text>
<text x="174.1" y="98.5" font-size="6.8" text-anchor="start" fill="#000">18h:00m:00s</text>
<text x="174.1" y="108.3" font-size="6.8" text-anchor="start" fill="#000">20h:00m:00s</text>
<text x="174.1" y="118" font-size="6.8" text-anchor="start" fill="#000">22h:00m:00s</text>
<text x="174.1" y="127.7" font-size="6.8" text-anchor="start" fill="#000">24h:00m:00s</text>
<g fill="none" stroke-linejoin="round" stroke-linecap="round">
<path d="M271.7,35.8L272.7,44.5L273.6,50L274.6,51.2L275.6,51.7L276.6,51.9L277.6,52.2L278.6,52.2L279.6,52.8L280.6,53L281.6,52L282.6,51.3L283.6,51.8L284.6,51.1L285.6,51.6L286.6,50.4L287.6,50.5L288.6,50.4L289.6,50.2L290.6,50.4L291.6,50.5L292.6,49.8L293.6,49.9L294.6,50.3L295.6,50.5L296.6,50.3L297.6,50.2L298.6,50.2L299.6,50.2L300.6,50.1L301.6,50.2L302.6,50.3L303.6,49.8L304.6,49.7L305.6,49.6L306.6,49.8L307.6,50L308.6,49.6L309.6,50.6L310.6,50.6L311.6,50.6L312.6,50.2L313.6,51.1L314.6,50.8L315.6,50.6L316.6,50.6L317.6,50.9L318.6,51L319.6,51.3L320.6,51.4L321.6,52.3L322.6,52.8L323.6,53L324.6,54.6L325.6,56.2L326.6,56.6L327.6,54.3L328.6,53.6L329.6,55L330.6,57.7L331.6,57.5L332.6,54.5L333.6,53.2L334.6,52.8L335.6,53L336.6,53.2L337.6,52.9L338.6,52.9L339.6,52.5L340.6,52.9L341.6,52.7L342.6,52.6L343.6,52.6L344.6,51.9L345.6,51.8L346.6,52.5L347.6,52.6L348.6,52.4L349.6,52L350.6,52.1L351.6,53.7L352.6,54.8L353.6,53.7L354.6,53.3L355.6,53.9L356.6,54.1L357.6,54.8L358.6,54.4L359.6,53.4L360.6,52.9L361.6,52.7L362.6,52.5L363.6,53.1L364.6,51.9L365.6,52.3L366.6,52.2L367.6,52.6L368.6,52.4L369.6,52.1L370.6,51.7L371.6,51.9L372.6,51.9L373.6,51.1L374.6,51.9L375.6,51.8L376.6,51.4L377.6,52.2L378.6,52.8L379.6,52L380.6,51.1L381.6,50.7L382.6,50.7L383.6,50.7L384.6,50.5L385.6,50.5L386.6,47.4" stroke="#8c00ff" stroke-width="1.2"/>
<path d="M271.7,35.8L272.7,44.3L273.6,49.7L274.6,50.8L275.6,51.7L276.6,51.6L277.6,51.6L278.6,51.7L279.6,52.3L280.6,52.6L281.6,51.6L282.6,50.8L283.6,51.3L284.6,50.9L285.6,51L286.6,50.3L287.6,50.4L288.6,50.4L289.6,49.6L290.6,50.3L291.6,50.2L292.6,49.4L293.6,49.6L294.6,49.9L295.6,50.4L296.6,50.1L297.6,49.8L298.6,50L299.6,49.6L300.6,49.6L301.6,49.6L302.6,49.5L303.6,49.7L304.6,49.5L305.6,49.3L306.6,49.6L307.6,49.4L308.6,49.6L309.6,50.5L310.6,50.4L311.6,50.3L312.6,50.3L313.6,50.9L314.6,50.5L315.6,50.2L316.6,50.4L317.6,50.7L318.6,50.9L319.6,51L320.6,51.4L321.6,52.1L322.6,52.2L323.6,52.9L324.6,54L325.6,55.8L326.6,56.2L327.6,54L328.6,53.5L329.6,54.4L330.6,57.3L331.6,56.8L332.6,54.5L333.6,53.1L334.6,52.6L335.6,52.6L336.6,52.5L337.6,52.5L338.6,52.2L339.6,52.2L340.6,52.3L341.6,52.1L342.6,52.2L343.6,52.2L344.6,51.8L345.6,51.8L346.6,52L347.6,51.9L348.6,51.7L349.6,51.7L350.6,51.6L351.6,53.8L352.6,54.2L353.6,53.1L354.6,53.1L355.6,54L356.6,53.6L357.6,54.5L358.6,54.4L359.6,53.4L360.6,52.7L361.6,52.1L362.6,52.1L363.6,52.3L364.6,51.8L365.6,52.3L366.6,52.3L367.6,52.1L368.6,52.1L369.6,51.8L370.6,51.4L371.6,51.3L372.6,51.3L373.6,51.1L374.6,51.8L375.6,51.2L376.6,50.9L377.6,51.9L378.6,52.2L379.6,51.8L380.6,50.7L381.6,50.5L382.6,50.6L383.6,50.5L384.6,50.5L385.6,49.9L386.6,47.1" stroke="#6d03ff" stroke-width="1.2"/>
<path d="M271.7,35.7L272.7,44.1L273.6,49.4L274.6,50.3L275.6,51.1L276.6,51.2L277.6,51.3L278.6,51.4L279.6,51.9L280.6,52.3L281.6,51.4L282.6,50.9L283.6,51.3L284.6,50.7L285.6,50.8L286.6,49.7L287.6,50.1L288.6,49.8L289.6,49.4L290.6,49.6L291.6,50L292.6,49L293.6,49.3L294.6,49.7L295.6,50.1L296.6,49.8L297.6,49.6L298.6,49.8L299.6,49.6L300.6,49.4L301.6,49.7L302.6,49.6L303.6,48.9L304.6,49.2L305.6,48.8L306.6,49.2L307.6,49.1L308.6,49.4L309.6,49.7L310.6,50.1L311.6,49.8L312.6,49.5L313.6,50.1L314.6,50.2L315.6,50.1L316.6,50.3L317.6,50.7L318.6,50.4L319.6,51L320.6,51.1L321.6,51.7L322.6,51.9L323.6,52.7L324.6,53.8L325.6,55.4L326.6,55.5L327.6,53.3L328.6,53.1L329.6,54.1L330.6,56.7L331.6,56.7L332.6,54L333.6,53L334.6,52.1L335.6,52.4L336.6,52.4L337.6,51.8L338.6,52.1L339.6,51.9L340.6,52.2L341.6,52L342.6,51.6L343.6,52L344.6,51.2L345.6,51.1L346.6,51.7L347.6,51.6L348.6,51.3L349.6,51.5L350.6,51L351.6,53.3L352.6,54.1L353.6,52.9L354.6,52.9L355.6,53.6L356.6,53.2L357.6,53.8L358.6,54L359.6,53.2L360.6,52.5L361.6,52L362.6,52L363.6,52.4L364.6,51.5L365.6,52L366.6,52L367.6,51.5L368.6,51.6L369.6,51.5L370.6,51L371.6,51.1L372.6,51.1L373.6,50.7L374.6,51.2L375.6,50.8L376.6,50.8L377.6,51.7L378.6,52.2L379.6,51.5L380.6,50.7L381.6,49.8L382.6,49.8L383.6,50L384.6,50.1L385.6,49.4L386.6,46.7" stroke="#3b1fff" stroke-width="1.2"/>
<path d="M271.7,35.6L272.7,43.9L273.6,49L274.6,50L275.6,50.9L276.6,50.6L277.6,50.8L278.6,51.1L279.6,51.7L280.6,52.3L281.6,50.9L282.6,50.5L283.6,50.5L284.6,50.2L285.6,50.4L286.6,49.3L287.6,49.6L288.6,49.4L289.6,48.9L290.6,49.7L291.6,49.3L292.6,49L293.6,49.1L294.6,49.2L295.6,49.9L296.6,49.3L297.6,49.4L298.6,49.4L299.6,48.9L300.6,49.2L301.6,49.2L302.6,49L303.6,48.9L304.6,48.6L305.6,48.6L306.6,49L307.6,49.1L308.6,48.7L309.6,49.8L310.6,49.7L311.6,49.4L312.6,49.2L313.6,50L314.6,50.2L315.6,49.7L316.6,49.7L317.6,50.1L318.6,50.4L319.6,50.4L320.6,50.4L321.6,51.2L322.6,51.8L323.6,52.3L324.6,53.5L325.6,54.6L326.6,55L327.6,52.8L328.6,52.7L329.6,53.7L330.6,56.5L331.6,56.1L332.6,53.7L333.6,52.5L334.6,51.9L335.6,52.3L336.6,52.2L337.6,51.9L338.6,51.9L339.6,51.5L340.6,51.6L341.6,51.5L342.6,51.6L343.6,51.3L344.6,51.2L345.6,51.2L346.6,51.5L347.6,51.5L348.6,51L349.6,51.2L350.6,50.7L351.6,52.9L352.6,53.7L353.6,52.6L354.6,52.3L355.6,53.3L356.6,53L357.6,53.6L358.6,53.5L359.6,52.8L360.6,51.8L361.6,51.6L362.6,51.7L363.6,52L364.6,51L365.6,51.5L366.6,51.6L367.6,51.1L368.6,51.3L369.6,51.2L370.6,50.8L371.6,50.8L372.6,50.6L373.6,50.5L374.6,50.7L375.6,50.8L376.6,50.4L377.6,51L378.6,51.8L379.6,51.1L380.6,50.4L381.6,49.4L382.6,49.8L383.6,49.4L384.6,49.4L385.6,49.2L386.6,46.4" stroke="#2352ff" stroke-width="1.2"/>
<path d="M271.7,35.6L272.7,43.7L273.6,48.7L274.6,49.8L275.6,50.5L276.6,50.4L277.6,50.8L278.6,50.9L279.6,51.4L280.6,52L281.6,50.6L282.6,50.3L283.6,50.2L284.6,49.9L285.6,50.2L286.6,49.1L287.6,49.2L288.6,49.1L289.6,48.9L290.6,49.4L291.6,48.9L292.6,48.6L293.6,48.4L294.6,48.7L295.6,49.2L296.6,49.1L297.6,49L298.6,48.9L299.6,48.7L300.6,48.5L301.6,48.7L302.6,48.6L303.6,48.7L304.6,48.4L305.6,48.4L306.6,48.4L307.6,48.5L308.6,48.6L309.6,49.2L310.6,49.3L311.6,49.5L312.6,48.9L313.6,49.6L314.6,49.4L315.6,49.2L316.6,49.2L317.6,49.8L318.6,49.7L319.6,50.2L320.6,50.1L321.6,51L322.6,51.6L323.6,52L324.6,53L325.6,54.6L326.6,54.9L327.6,52.5L328.6,52.6L329.6,53.7L330.6,55.7L331.6,55.7L332.6,53.4L333.6,52.2L334.6,51.8L335.6,51.6L336.6,51.8L337.6,51.5L338.6,51.2L339.6,51.6L340.6,51.6L341.6,51L342.6,50.9L343.6,50.9L344.6,50.8L345.6,50.8L346.6,51.2L347.6,51.3L348.6,50.7L349.6,50.5L350.6,50.3L351.6,52.5L352.6,53.2L353.6,52.1L354.6,52.2L355.6,52.8L356.6,52.9L357.6,53.5L358.6,53.3L359.6,52.3L360.6,51.6L361.6,51.3L362.6,51.3L363.6,51.6L364.6,50.9L365.6,51.3L366.6,51L367.6,51.1L368.6,50.8L369.6,50.6L370.6,50.4L371.6,50.5L372.6,50.6L373.6,50.1L374.6,50.3L375.6,50.5L376.6,50.2L377.6,50.8L378.6,51.1L379.6,50.7L380.6,49.8L381.6,49.3L382.6,49.2L383.6,49.4L384.6,49.3L385.6,49L386.6,46.1" stroke="#1693ff" stroke-width="1.2"/>
<path d="M271.7,35.5L272.7,43.5L273.6,48.4L274.6,49.5L275.6,50.3L276.6,49.8L277.6,50.5L278.6,50.8L279.6,51.2L280.6,51.6L281.6,50.3L282.6,49.6L283.6,49.9L284.6,49.8L285.6,49.8L286.6,49.1L287.6,49L288.6,49.1L289.6,48.5L290.6,48.7L291.6,48.6L292.6,48.4L293.6,48.4L294.6,48.8L295.6,49.1L296.6,48.6L297.6,48.8L298.6,48.6L299.6,48.1L300.6,48.5L301.6,48.2L302.6,48.5L303.6,48.2L304.6,47.9L305.6,48L306.6,48L307.6,48.4L308.6,48.3L309.6,48.9L310.6,48.7L311.6,48.9L312.6,48.7L313.6,49.4L314.6,49.6L315.6,48.8L316.6,48.9L317.6,49.5L318.6,49.5L319.6,50L320.6,50L321.6,50.6L322.6,51.2L323.6,51.3L324.6,52.7L325.6,53.8L326.6,54.2L327.6,52.3L328.6,52L329.6,52.9L330.6,55.4L331.6,55.1L332.6,52.8L333.6,51.7L334.6,51.3L335.6,51.3L336.6,51.4L337.6,51.3L338.6,51.3L339.6,50.9L340.6,51L341.6,50.9L342.6,50.8L343.6,50.9L344.6,50.4L345.6,50.3L346.6,50.9L347.6,51L348.6,50.7L349.6,50.2L350.6,50.3L351.6,52L352.6,53.1L353.6,52L354.6,52L355.6,52.4L356.6,52.5L357.6,52.9L358.6,53L359.6,51.8L360.6,51.1L361.6,50.8L362.6,51.1L363.6,51.2L364.6,50.5L365.6,50.9L366.6,50.9L367.6,50.9L368.6,50.3L369.6,50.3L370.6,50.1L371.6,50L372.6,50.1L373.6,49.8L374.6,50.1L375.6,49.9L376.6,49.6L377.6,50.2L378.6,50.8L379.6,50.3L380.6,49.7L381.6,49.2L382.6,48.8L383.6,49L384.6,48.9L385.6,48.7L386.6,45.7" stroke="#00e6fc" stroke-width="1.2"/>
<path d="M271.7,35.4L272.7,43.2L273.6,48L274.6,49L275.6,50.1L276.6,49.6L277.6,50.1L278.6,50.2L279.6,50.8L280.6,51.4L281.6,50.2L282.6,49.3L283.6,50L284.6,49.1L285.6,49.6L286.6,48.7L287.6,48.5L288.6,48.9L289.6,48.2L290.6,48.5L291.6,48.6L292.6,47.7L293.6,47.8L294.6,48.3L295.6,48.9L296.6,48.3L297.6,48.5L298.6,48.4L299.6,48.1L300.6,48.2L301.6,47.9L302.6,48.3L303.6,47.9L304.6,47.6L305.6,47.5L306.6,48L307.6,47.9L308.6,48.1L309.6,48.8L310.6,48.6L311.6,48.6L312.6,48.5L313.6,49.3L314.6,48.9L315.6,48.6L316.6,48.6L317.6,48.9L318.6,49L319.6,49.5L320.6,49.6L321.6,50.4L322.6,50.9L323.6,51.3L324.6,52.1L325.6,53.7L326.6,53.7L327.6,51.8L328.6,51.7L329.6,53L330.6,55L331.6,54.5L332.6,52.5L333.6,51.5L334.6,51.1L335.6,50.9L336.6,50.9L337.6,50.6L338.6,50.7L339.6,50.6L340.6,50.7L341.6,50.6L342.6,50.6L343.6,50.5L344.6,50.2L345.6,49.9L346.6,50.6L347.6,50.3L348.6,50L349.6,49.8L350.6,49.9L351.6,51.8L352.6,52.4L353.6,51.3L354.6,51.6L355.6,51.8L356.6,52.1L357.6,52.9L358.6,52.4L359.6,51.7L360.6,51.2L361.6,50.5L362.6,50.9L363.6,50.6L364.6,50.1L365.6,50.6L366.6,50.4L367.6,50.5L368.6,50.4L369.6,50.3L370.6,49.9L371.6,50L372.6,49.9L373.6,49.4L374.6,49.7L375.6,49.5L376.6,49.4L377.6,49.9L378.6,50.5L379.6,50.3L380.6,49.3L381.6,48.9L382.6,48.9L383.6,48.8L384.6,48.5L385.6,48.1L386.6,45.4" stroke="#00fb8b" stroke-width="1.2"/>
<path d="M271.7,35.3L272.7,43L273.6,47.7L274.6,48.7L275.6,49.4L276.6,49.4L277.6,49.7L278.6,49.7L279.6,50.4L280.6,50.8L281.6,50L282.6,48.9L283.6,49.6L284.6,49L285.6,49.2L286.6,48.1L287.6,48.2L288.6,48.3L289.6,47.6L290.6,48.2L291.6,48.4L292.6,47.6L293.6,47.4L294.6,47.8L295.6,48.4L296.6,48L297.6,47.7L298.6,48L299.6,47.8L300.6,47.8L301.6,47.7L302.6,48L303.6,47.7L304.6,47.2L305.6,47.2L306.6,47.5L307.6,47.5L308.6,47.4L309.6,48.4L310.6,48.4L311.6,48.3L312.6,48.3L313.6,48.7L314.6,48.7L315.6,48.2L316.6,48.6L317.6,49L318.6,48.9L319.6,49.2L320.6,49.4L321.6,50.1L322.6,50.5L323.6,50.6L324.6,51.7L325.6,53L326.6,53.1L327.6,51.4L328.6,51.3L329.6,52.3L330.6,54.4L331.6,54.3L332.6,52.4L333.6,51L334.6,50.8L335.6,50.7L336.6,50.4L337.6,50.6L338.6,50.2L339.6,50.4L340.6,50.3L341.6,50.2L342.6,50L343.6,50.1L344.6,49.7L345.6,49.9L346.6,50.1L347.6,50.1L348.6,50L349.6,49.7L350.6,49.6L351.6,51.5L352.6,52.3L353.6,51L354.6,50.9L355.6,51.8L356.6,51.8L357.6,52.3L358.6,51.9L359.6,51.4L360.6,50.5L361.6,50.2L362.6,50.5L363.6,50.7L364.6,49.9L365.6,50L366.6,50.2L367.6,49.8L368.6,50.1L369.6,50L370.6,49.7L371.6,49.7L372.6,49.5L373.6,49.2L374.6,49.8L375.6,49.1L376.6,48.9L377.6,49.9L378.6,50.1L379.6,49.9L380.6,48.9L381.6,48.4L382.6,48.2L383.6,48.4L384.6,48.3L385.6,48.1L386.6,45.1" stroke="#1ce736" stroke-width="1.2"/>
<path d="M271.7,35.3L272.7,42.8L273.6,47.4L274.6,48.4L275.6,49.1L276.6,49.2L277.6,49.5L278.6,49.6L279.6,49.8L280.6,50.6L281.6,49.6L282.6,48.8L283.6,49.3L284.6,48.7L285.6,48.8L286.6,47.8L287.6,47.9L288.6,48.2L289.6,47.6L290.6,47.6L291.6,47.9L292.6,47.3L293.6,47.3L294.6,47.6L295.6,47.9L296.6,47.9L297.6,47.4L298.6,47.5L299.6,47.5L300.6,47.1L301.6,47.4L302.6,47.5L303.6,47.3L304.6,47L305.6,47.1L306.6,47.2L307.6,47.4L308.6,47.2L309.6,48.2L310.6,47.9L311.6,48.2L312.6,47.7L313.6,48.5L314.6,48.2L315.6,47.9L316.6,48.2L317.6,48.2L318.6,48.7L319.6,48.7L320.6,49.1L321.6,49.4L322.6,49.9L323.6,50.4L324.6,51.3L325.6,52.7L326.6,52.7L327.6,51.3L328.6,50.9L329.6,52.2L330.6,54.1L331.6,53.8L332.6,51.9L333.6,50.7L334.6,50.5L335.6,50.5L336.6,50.4L337.6,50.1L338.6,49.9L339.6,49.9L340.6,50.4L341.6,50L342.6,49.8L343.6,50L344.6,49.6L345.6,49.4L346.6,49.5L347.6,49.8L348.6,49.4L349.6,49.4L350.6,49.1L351.6,51.2L352.6,52.1L353.6,50.7L354.6,50.5L355.6,51.4L356.6,51.1L357.6,51.9L358.6,51.7L359.6,51.1L360.6,50.2L361.6,49.9L362.6,50.2L363.6,50.3L364.6,49.3L365.6,49.7L366.6,50L367.6,49.8L368.6,49.6L369.6,49.4L370.6,49.1L371.6,49.4L372.6,49.2L373.6,48.9L374.6,49.1L375.6,49L376.6,48.9L377.6,49.7L378.6,50.1L379.6,49.2L380.6,48.4L381.6,47.9L382.6,48.2L383.6,47.9L384.6,47.7L385.6,47.6L386.6,44.7" stroke="#89dd06" stroke-width="1.2"/>
<path d="M271.7,35.2L272.7,42.6L273.6,47L274.6,48L275.6,48.9L276.6,48.8L277.6,49L278.6,49.3L279.6,49.7L280.6,50.4L281.6,49.3L282.6,48.4L283.6,48.6L284.6,48.4L285.6,48.1L286.6,47.3L287.6,47.4L288.6,47.6L289.6,47.2L290.6,47.5L291.6,47.6L292.6,46.9L293.6,47L294.6,47.3L295.6,47.8L296.6,47.3L297.6,47.2L298.6,47.5L299.6,47.1L300.6,47.2L301.6,47.2L302.6,47.2L303.6,46.9L304.6,46.8L305.6,46.8L306.6,46.8L307.6,46.6L308.6,47.1L309.6,47.8L310.6,47.5L311.6,47.6L312.6,47.2L313.6,48.3L314.6,47.8L315.6,47.5L316.6,47.5L317.6,48.3L318.6,48.3L319.6,48.7L320.6,48.6L321.6,49.3L322.6,49.9L323.6,49.9L324.6,51L325.6,52L326.6,52.3L327.6,50.5L328.6,50.7L329.6,51.8L330.6,53.8L331.6,53.5L332.6,51.3L333.6,50.2L334.6,50L335.6,50.1L336.6,50.1L337.6,49.6L338.6,49.9L339.6,49.7L340.6,49.8L341.6,49.7L342.6,49.7L343.6,49.6L344.6,49.2L345.6,48.8L346.6,49.2L347.6,49.2L348.6,49.2L349.6,49.1L350.6,48.7L351.6,51L352.6,51.4L353.6,50.6L354.6,50.7L355.6,51.3L356.6,50.9L357.6,51.4L358.6,51.4L359.6,50.7L360.6,49.9L361.6,49.5L362.6,49.7L363.6,50L364.6,49L365.6,49.4L366.6,49.3L367.6,49.4L368.6,49L369.6,49.2L370.6,48.9L371.6,49L372.6,48.7L373.6,48.6L374.6,48.8L375.6,48.6L376.6,48.3L377.6,48.9L378.6,49.7L379.6,49.2L380.6,48.5L381.6,47.4L382.6,47.9L383.6,47.8L384.6,47.8L385.6,47.1L386.6,44.4" stroke="#ffcf00" stroke-width="1.2"/>
<path d="M271.7,35.1L272.7,42.4L273.6,46.7L274.6,47.7L275.6,48.7L276.6,48.5L277.6,48.5L278.6,48.7L279.6,49.6L280.6,49.9L281.6,48.7L282.6,48L283.6,48.2L284.6,47.8L285.6,48.2L286.6,47L287.6,47.5L288.6,47.4L289.6,46.6L290.6,47.3L291.6,47.2L292.6,46.6L293.6,46.6L294.6,46.9L295.6,47.6L296.6,47.2L297.6,46.9L298.6,47L299.6,46.6L300.6,46.5L301.6,46.7L302.6,46.9L303.6,46.4L304.6,46.3L305.6,46.1L306.6,46.7L307.6,46.4L308.6,46.4L309.6,47.4L310.6,47L311.6,47.5L312.6,47.2L313.6,47.5L314.6,47.8L315.6,47.1L316.6,47.2L317.6,47.9L318.6,48.1L319.6,48.2L320.6,48.1L321.6,48.9L322.6,49.5L323.6,50L324.6,50.8L325.6,51.7L326.6,51.9L327.6,50.6L328.6,50.2L329.6,51.4L330.6,53.1L331.6,53.2L332.6,51.3L333.6,50L334.6,49.8L335.6,50L336.6,49.6L337.6,49.3L338.6,49.3L339.6,49.5L340.6,49.5L341.6,49.4L342.6,49.1L343.6,49.2L344.6,48.9L345.6,48.6L346.6,48.9L347.6,49.3L348.6,49.1L349.6,48.6L350.6,48.7L351.6,50.8L352.6,51.4L353.6,50.4L354.6,50.1L355.6,50.6L356.6,50.6L357.6,51.2L358.6,51.1L359.6,50.2L360.6,49.4L361.6,49.1L362.6,49.1L363.6,49.6L364.6,48.7L365.6,49.4L366.6,49.2L367.6,48.9L368.6,48.9L369.6,48.9L370.6,48.8L371.6,48.6L372.6,48.3L373.6,47.9L374.6,48.5L375.6,48.2L376.6,47.9L377.6,48.9L378.6,49.2L379.6,48.8L380.6,47.9L381.6,47.4L382.6,47.2L383.6,47.3L384.6,47.1L385.6,47L386.6,44.1" stroke="#ff7d00" stroke-width="1.2"/>
<path d="M271.7,35.1L272.7,42.2L273.6,46.4L274.6,47.6L275.6,48.4L276.6,48.1L277.6,48.1L278.6,48.7L279.6,49.2L280.6,49.7L281.6,48.3L282.6,47.7L283.6,47.9L284.6,47.7L285.6,47.8L286.6,47.1L287.6,47L288.6,47L289.6,46.3L290.6,46.6L291.6,46.8L292.6,46L293.6,46.3L294.6,46.5L295.6,46.9L296.6,46.4L297.6,46.5L298.6,46.9L299.6,46.1L300.6,46.4L301.6,46.6L302.6,46.6L303.6,46.2L304.6,45.9L305.6,46.1L306.6,46.3L307.6,46.4L308.6,46.3L309.6,47.1L310.6,47L311.6,47L312.6,46.5L313.6,47.2L314.6,47.3L315.6,46.9L316.6,47.4L317.6,47.4L318.6,47.5L319.6,48L320.6,47.8L321.6,48.5L322.6,48.9L323.6,49.4L324.6,50.2L325.6,51.3L326.6,51.4L327.6,49.9L328.6,49.9L329.6,51.2L330.6,52.8L331.6,52.7L332.6,51L333.6,49.7L334.6,49.5L335.6,49.3L336.6,49.2L337.6,49.2L338.6,49.3L339.6,48.9L340.6,49.1L341.6,49L342.6,48.6L343.6,48.6L344.6,48.4L345.6,48.3L346.6,48.6L347.6,48.8L348.6,48.4L349.6,48.3L350.6,48.3L351.6,50.3L352.6,50.8L353.6,49.9L354.6,50L355.6,50.6L356.6,50.6L357.6,51.1L358.6,50.8L359.6,50L360.6,49.1L361.6,49.1L362.6,48.8L363.6,49L364.6,48.5L365.6,48.6L366.6,48.9L367.6,48.6L368.6,48.6L369.6,48.5L370.6,48.1L371.6,48.2L372.6,48.1L373.6,47.5L374.6,48L375.6,47.9L376.6,47.8L377.6,48.4L378.6,48.9L379.6,48.5L380.6,47.5L381.6,46.9L382.6,47L383.6,47.2L384.6,46.9L385.6,46.4L386.6,43.7" stroke="#ff3400" stroke-width="1.2"/>
<path d="M274.6,47.2L275.6,47.9L276.6,47.7L277.6,48L278.6,48.2L279.6,48.7L280.6,49.2L281.6,48.1L282.6,47.4L283.6,47.7L284.6,47.3L285.6,47.3L286.6,46.6L287.6,46.6L288.6,46.6L289.6,46L290.6,46.5L291.6,46.5L292.6,45.9L293.6,45.9L294.6,46.3L295.6,46.7L296.6,46.4L297.6,46.3L298.6,46.4L299.6,46L300.6,46.1L301.6,46.1L302.6,46.1L303.6,45.8L304.6,45.8L305.6,45.7L306.6,45.8L307.6,45.9L308.6,45.9L309.6,46.6L310.6,46.6L311.6,46.7L312.6,46.4L313.6,47L314.6,47L315.6,46.6L316.6,46.8L317.6,47.1L318.6,47.2L319.6,47.6L320.6,47.6L321.6,48.3L322.6,48.7L323.6,49.1L324.6,50L325.6,50.8L326.6,50.9L327.6,49.6L328.6,49.7L329.6,50.8L330.6,52.4L331.6,52L332.6,50.4L333.6,49.5L334.6,49L335.6,49.1L336.6,49L337.6,48.7L338.6,48.7L339.6,48.7L340.6,48.8L341.6,48.6L342.6,48.4L343.6,48.4L344.6,48L345.6,48L346.6,48.4L347.6,48.5L348.6,48.2L349.6,48L350.6,47.9L351.6,49.9L352.6,50.5L353.6,49.5L354.6,49.4L355.6,50.1L356.6,50L357.6,50.7L358.6,50.5L359.6,49.7L360.6,49L361.6,48.6L362.6,48.7L363.6,48.8L364.6,48.1L365.6,48.5L366.6,48.4L367.6,48.4L368.6,48.2L369.6,48.2L370.6,47.9L371.6,47.9L372.6,47.7L373.6,47.4L374.6,47.9L375.6,47.6L376.6,47.4L377.6,48.1L378.6,48.6L379.6,48.1L380.6,47.3L381.6,46.6L382.6,46.7L383.6,46.7L384.6,46.6L385.6,46.3L386.6,43.4" stroke="#ff1010" stroke-width="1.3"/>
<path d="M270.9,58L271.4,21.2L272.1,31L272.7,41.7L273.8,46.1" stroke="#ff1a1a" stroke-width="1.0"/>
<path d="M262.2,111.6L263.4,101.8L264.5,83.7L265.5,73.2L266.4,78.1L268.2,68.4L269.6,64.9L270.6,60L270.9,58L271.4,21.2L272.1,31L272.7,41.7L273.8,46.1L274.6,47.2L275.6,47.9L276.6,47.7L277.6,48L278.6,48.2L279.6,48.7L280.6,49.2L281.6,48.1L282.6,47.4L283.6,47.7L284.6,47.3L285.6,47.3L286.6,46.6L287.6,46.6L288.6,46.6L289.6,46L290.6,46.5L291.6,46.5L292.6,45.9L293.6,45.9L294.6,46.3L295.6,46.7L296.6,46.4L297.6,46.3L298.6,46.4L299.6,46L300.6,46.1L301.6,46.1L302.6,46.1L303.6,45.8L304.6,45.8L305.6,45.7L306.6,45.8L307.6,45.9L308.6,45.9L309.6,46.6L310.6,46.6L311.6,46.7L312.6,46.4L313.6,47L314.6,47L315.6,46.6L316.6,46.8L317.6,47.1L318.6,47.2L319.6,47.6L320.6,47.6L321.6,48.3L322.6,48.7L323.6,49.1L324.6,50L325.6,50.8L326.6,50.9L327.6,49.6L328.6,49.7L329.6,50.8L330.6,52.4L331.6,52L332.6,50.4L333.6,49.5L334.6,49L335.6,49.1L336.6,49L337.6,48.7L338.6,48.7L339.6,48.7L340.6,48.8L341.6,48.6L342.6,48.4L343.6,48.4L344.6,48L345.6,48L346.6,48.4L347.6,48.5L348.6,48.2L349.6,48L350.6,47.9L351.6,49.9L352.6,50.5L353.6,49.5L354.6,49.4L355.6,50.1L356.6,50L357.6,50.7L358.6,50.5L359.6,49.7L360.6,49L361.6,48.6L362.6,48.7L363.6,48.8L364.6,48.1L365.6,48.5L366.6,48.4L367.6,48.4L368.6,48.2L369.6,48.2L370.6,47.9L371.6,47.9L372.6,47.7L373.6,47.4L374.6,47.9L375.6,47.6L376.6,47.4L377.6,48.1L378.6,48.6L379.6,48.1L380.6,47.3L381.6,46.6L382.6,46.7L383.6,46.7L384.6,46.6L385.6,46.3L386.6,43.4L387.5,45.5L388.5,63.9L389.7,82.7L390.5,93L391.4,99.8" stroke="#ff3838" stroke-width="1.0"/>
</g>
<line x1="255.6" y1="4.7" x2="255.6" y2="127.8" stroke="#262626" stroke-width="0.9"/>
<line x1="255.2" y1="127.3" x2="399.1" y2="127.3" stroke="#262626" stroke-width="0.9"/>
<line x1="253.4" y1="115.5" x2="255.6" y2="115.5" stroke="#262626" stroke-width="0.9"/>
<text x="251" y="117.8" font-size="6.5" text-anchor="end" fill="#000">0</text>
<line x1="253.4" y1="93.3" x2="255.6" y2="93.3" stroke="#262626" stroke-width="0.9"/>
<text x="251" y="95.6" font-size="6.5" text-anchor="end" fill="#000">5</text>
<line x1="253.4" y1="71.1" x2="255.6" y2="71.1" stroke="#262626" stroke-width="0.9"/>
<text x="251" y="73.4" font-size="6.5" text-anchor="end" fill="#000">10</text>
<line x1="253.4" y1="48.9" x2="255.6" y2="48.9" stroke="#262626" stroke-width="0.9"/>
<text x="251" y="51.2" font-size="6.5" text-anchor="end" fill="#000">15</text>
<line x1="253.4" y1="26.7" x2="255.6" y2="26.7" stroke="#262626" stroke-width="0.9"/>
<text x="251" y="29" font-size="6.5" text-anchor="end" fill="#000">20</text>
<line x1="253.4" y1="4.5" x2="255.6" y2="4.5" stroke="#262626" stroke-width="0.9"/>
<text x="251" y="6.8" font-size="6.5" text-anchor="end" fill="#000">25</text>
<line x1="254.4" y1="126.6" x2="255.6" y2="126.6" stroke="#262626" stroke-width="0.9"/>
<line x1="254.4" y1="104.4" x2="255.6" y2="104.4" stroke="#262626" stroke-width="0.9"/>
<line x1="254.4" y1="82.2" x2="255.6" y2="82.2" stroke="#262626" stroke-width="0.9"/>
<line x1="254.4" y1="60" x2="255.6" y2="60" stroke="#262626" stroke-width="0.9"/>
<line x1="254.4" y1="37.8" x2="255.6" y2="37.8" stroke="#262626" stroke-width="0.9"/>
<line x1="254.4" y1="15.6" x2="255.6" y2="15.6" stroke="#262626" stroke-width="0.9"/>
<line x1="262.2" y1="127.3" x2="262.2" y2="129.5" stroke="#262626" stroke-width="0.9"/>
<text x="262.2" y="136.6" font-size="6.5" text-anchor="middle" fill="#000">0</text>
<line x1="275.1" y1="127.3" x2="275.1" y2="129.5" stroke="#262626" stroke-width="0.9"/>
<text x="275.1" y="136.6" font-size="6.5" text-anchor="middle" fill="#000">4</text>
<line x1="288.1" y1="127.3" x2="288.1" y2="129.5" stroke="#262626" stroke-width="0.9"/>
<text x="288.1" y="136.6" font-size="6.5" text-anchor="middle" fill="#000">8</text>
<line x1="301" y1="127.3" x2="301" y2="129.5" stroke="#262626" stroke-width="0.9"/>
<text x="301" y="136.6" font-size="6.5" text-anchor="middle" fill="#000">12</text>
<line x1="314" y1="127.3" x2="314" y2="129.5" stroke="#262626" stroke-width="0.9"/>
<text x="314" y="136.6" font-size="6.5" text-anchor="middle" fill="#000">16</text>
<line x1="326.9" y1="127.3" x2="326.9" y2="129.5" stroke="#262626" stroke-width="0.9"/>
<text x="326.9" y="136.6" font-size="6.5" text-anchor="middle" fill="#000">20</text>
<line x1="339.9" y1="127.3" x2="339.9" y2="129.5" stroke="#262626" stroke-width="0.9"/>
<text x="339.9" y="136.6" font-size="6.5" text-anchor="middle" fill="#000">24</text>
<line x1="352.8" y1="127.3" x2="352.8" y2="129.5" stroke="#262626" stroke-width="0.9"/>
<text x="352.8" y="136.6" font-size="6.5" text-anchor="middle" fill="#000">28</text>
<line x1="365.8" y1="127.3" x2="365.8" y2="129.5" stroke="#262626" stroke-width="0.9"/>
<text x="365.8" y="136.6" font-size="6.5" text-anchor="middle" fill="#000">32</text>
<line x1="378.8" y1="127.3" x2="378.8" y2="129.5" stroke="#262626" stroke-width="0.9"/>
<text x="378.8" y="136.6" font-size="6.5" text-anchor="middle" fill="#000">36</text>
<line x1="391.7" y1="127.3" x2="391.7" y2="129.5" stroke="#262626" stroke-width="0.9"/>
<text x="391.7" y="136.6" font-size="6.5" text-anchor="middle" fill="#000">40</text>
<line x1="255.7" y1="127.3" x2="255.7" y2="128.5" stroke="#262626" stroke-width="0.9"/>
<line x1="259" y1="127.3" x2="259" y2="128.5" stroke="#262626" stroke-width="0.9"/>
<line x1="265.4" y1="127.3" x2="265.4" y2="128.5" stroke="#262626" stroke-width="0.9"/>
<line x1="268.7" y1="127.3" x2="268.7" y2="128.5" stroke="#262626" stroke-width="0.9"/>
<line x1="271.9" y1="127.3" x2="271.9" y2="128.5" stroke="#262626" stroke-width="0.9"/>
<line x1="278.4" y1="127.3" x2="278.4" y2="128.5" stroke="#262626" stroke-width="0.9"/>
<line x1="281.6" y1="127.3" x2="281.6" y2="128.5" stroke="#262626" stroke-width="0.9"/>
<line x1="284.9" y1="127.3" x2="284.9" y2="128.5" stroke="#262626" stroke-width="0.9"/>
<line x1="291.3" y1="127.3" x2="291.3" y2="128.5" stroke="#262626" stroke-width="0.9"/>
<line x1="294.6" y1="127.3" x2="294.6" y2="128.5" stroke="#262626" stroke-width="0.9"/>
<line x1="297.8" y1="127.3" x2="297.8" y2="128.5" stroke="#262626" stroke-width="0.9"/>
<line x1="304.3" y1="127.3" x2="304.3" y2="128.5" stroke="#262626" stroke-width="0.9"/>
<line x1="307.5" y1="127.3" x2="307.5" y2="128.5" stroke="#262626" stroke-width="0.9"/>
<line x1="310.8" y1="127.3" x2="310.8" y2="128.5" stroke="#262626" stroke-width="0.9"/>
<line x1="317.2" y1="127.3" x2="317.2" y2="128.5" stroke="#262626" stroke-width="0.9"/>
<line x1="320.5" y1="127.3" x2="320.5" y2="128.5" stroke="#262626" stroke-width="0.9"/>
<line x1="323.7" y1="127.3" x2="323.7" y2="128.5" stroke="#262626" stroke-width="0.9"/>
<line x1="330.2" y1="127.3" x2="330.2" y2="128.5" stroke="#262626" stroke-width="0.9"/>
<line x1="333.4" y1="127.3" x2="333.4" y2="128.5" stroke="#262626" stroke-width="0.9"/>
<line x1="336.7" y1="127.3" x2="336.7" y2="128.5" stroke="#262626" stroke-width="0.9"/>
<line x1="343.1" y1="127.3" x2="343.1" y2="128.5" stroke="#262626" stroke-width="0.9"/>
<line x1="346.4" y1="127.3" x2="346.4" y2="128.5" stroke="#262626" stroke-width="0.9"/>
<line x1="349.6" y1="127.3" x2="349.6" y2="128.5" stroke="#262626" stroke-width="0.9"/>
<line x1="356.1" y1="127.3" x2="356.1" y2="128.5" stroke="#262626" stroke-width="0.9"/>
<line x1="359.3" y1="127.3" x2="359.3" y2="128.5" stroke="#262626" stroke-width="0.9"/>
<line x1="362.6" y1="127.3" x2="362.6" y2="128.5" stroke="#262626" stroke-width="0.9"/>
<line x1="369" y1="127.3" x2="369" y2="128.5" stroke="#262626" stroke-width="0.9"/>
<line x1="372.3" y1="127.3" x2="372.3" y2="128.5" stroke="#262626" stroke-width="0.9"/>
<line x1="375.5" y1="127.3" x2="375.5" y2="128.5" stroke="#262626" stroke-width="0.9"/>
<line x1="382" y1="127.3" x2="382" y2="128.5" stroke="#262626" stroke-width="0.9"/>
<line x1="385.2" y1="127.3" x2="385.2" y2="128.5" stroke="#262626" stroke-width="0.9"/>
<line x1="388.5" y1="127.3" x2="388.5" y2="128.5" stroke="#262626" stroke-width="0.9"/>
<line x1="394.9" y1="127.3" x2="394.9" y2="128.5" stroke="#262626" stroke-width="0.9"/>
<line x1="398.2" y1="127.3" x2="398.2" y2="128.5" stroke="#262626" stroke-width="0.9"/>
<text x="327.4" y="147.7" font-size="6.8" text-anchor="middle" fill="#000">Height (mm)</text>
<text x="240" y="64.5" font-size="6.6" text-anchor="middle" fill="#000" transform="rotate(-90 240 64.5)">BS (%)</text>
<text x="236.1" y="7.3" font-size="9.6" text-anchor="start" fill="#000" style="stroke-width:0.35px">B</text>
<rect x="399.1" y="4.7" width="8.5" height="122.6" fill="url(#cbg)"/>
<text x="409.9" y="11.2" font-size="6.8" text-anchor="start" fill="#000">00h:00m:00s</text>
<text x="409.9" y="21" font-size="6.8" text-anchor="start" fill="#000">02h:00m:00s</text>
<text x="409.9" y="30.7" font-size="6.8" text-anchor="start" fill="#000">04h:00m:00s</text>
<text x="409.9" y="40.4" font-size="6.8" text-anchor="start" fill="#000">06h:00m:00s</text>
<text x="409.9" y="50.2" font-size="6.8" text-anchor="start" fill="#000">08h:00m:00s</text>
<text x="409.9" y="59.9" font-size="6.8" text-anchor="start" fill="#000">10h:00m:00s</text>
<text x="409.9" y="69.6" font-size="6.8" text-anchor="start" fill="#000">12h:00m:00s</text>
<text x="409.9" y="79.4" font-size="6.8" text-anchor="start" fill="#000">14h:00m:00s</text>
<text x="409.9" y="89.1" font-size="6.8" text-anchor="start" fill="#000">16h:00m:00s</text>
<text x="409.9" y="98.8" font-size="6.8" text-anchor="start" fill="#000">18h:00m:00s</text>
<text x="409.9" y="108.6" font-size="6.8" text-anchor="start" fill="#000">20h:00m:00s</text>
<text x="409.9" y="118.3" font-size="6.8" text-anchor="start" fill="#000">22h:00m:00s</text>
<text x="409.9" y="128" font-size="6.8" text-anchor="start" fill="#000">24h:00m:00s</text>
<g fill="none" stroke-linejoin="round" stroke-linecap="round">
<path d="M506.7,39.7L507.3,43.1L508,46.6L509,49.2L510,49.8L511,50.3L512,50.9L513,51L514,51.8L515,52.2L516,52L517,51.9L518,52.5L519,51.8L520,52.3L521,51.3L522,51.7L523,51.8L524,51.8L525,52.1L526,52.2L527,51.6L528,51.8L529,52.1L530,52.4L531,52.2L532,52.1L533,52.1L534,52L535,51.9L536,51.9L537,51.9L538,51.4L539,51.3L540,51.3L541,51.4L542,51.4L543,50.9L544,51.7L545,51.6L546,51.5L547,51L548,51.9L549,51.4L550,51.1L551,51L552,51.2L553,51.2L554,51.2L555,50.8L556,51.4L557,51.2L558,50.7L559,51.1L560,51.1L561,51.1L562,51L563,50.8L564,50.6L565,50.7L566,51L567,50.4L568,50.3L569,50.5L570,50.8L571,51.1L572,50.8L573,50.9L574,50.6L575,51.1L576,50.9L577,50.9L578,51.1L579,52.5L580,51.1L581,51.3L582,51.1L583,50.9L584,50.5L585,50.6L586,50.4L587,51.2L588,51L589,50.5L590,50.6L591,50.4L592,50.7L593,50.8L594,50.3L595,50.3L596,50.4L597,50.2L598,50.9L599,49.9L600,50.4L601,50.3L602,50.8L603,50.6L604,50.3L605,50L606,50.2L607,50.2L608,49.5L609,50.3L610,50.2L611,49.7L612,49.9L613,50L614,49.5L615,49.2L616,49.3L617,49L618,48.7L619,48.2L620,48.2L621,47.8L622,47.7L623,47.7L623.4,44.3" stroke="#8c00ff" stroke-width="1.32"/>
<path d="M506.7,39.6L507.3,42.9L508,46.3L509,48.9L510,49.4L511,49.3L512,50L513,50.3L514,51L515,51.6L516,51.6L517,51.4L518,51.8L519,51.5L520,51.6L521,51.1L522,51.3L523,51.6L524,51.2L525,51.5L526,51.7L527,51L528,51.3L529,51.8L530,51.9L531,51.7L532,51.6L533,51.6L534,51.1L535,51.1L536,51.6L537,51.3L538,50.9L539,50.9L540,50.7L541,51.1L542,51.1L543,50.8L544,51.2L545,51.3L546,51.3L547,50.5L548,51.3L549,51.1L550,50.5L551,50.7L552,50.7L553,50.9L554,51.1L555,50.3L556,50.8L557,50.5L558,50.4L559,50.5L560,50.9L561,50.7L562,50.2L563,50.4L564,49.7L565,50.2L566,50.4L567,50L568,49.8L569,50.1L570,50.5L571,50.1L572,50L573,50L574,50.1L575,50.6L576,50.3L577,50.3L578,50.7L579,52L580,50.5L581,50.5L582,50.4L583,50.2L584,50.2L585,49.8L586,49.9L587,50.5L588,50.5L589,50L590,50.5L591,50.1L592,50.1L593,50.3L594,49.8L595,49.7L596,49.5L597,50L598,50.3L599,49.7L600,50L601,50.2L602,49.9L603,49.7L604,49.7L605,49.5L606,49.6L607,49.7L608,49.1L609,49.6L610,49.6L611,49.1L612,49.4L613,49.1L614,49.3L615,49L616,48.8L617,48.6L618,48L619,47.5L620,47.3L621,47.6L622,47.1L623,47.2L623.4,43.9" stroke="#6d03ff" stroke-width="1.32"/>
<path d="M506.7,39.5L507.3,42.7L508,45.9L509,48.1L510,48.8L511,48.9L512,49.6L513,50.2L514,50.8L515,51.4L516,51.2L517,50.8L518,51.5L519,50.7L520,51L521,50.3L522,51L523,50.8L524,50.7L525,51.2L526,51.2L527,50.7L528,50.6L529,51.3L530,51.7L531,51.2L532,51.4L533,51.4L534,50.6L535,50.9L536,50.6L537,50.8L538,50.3L539,50.4L540,50L541,50.6L542,50.1L543,49.9L544,50.4L545,50.3L546,50.8L547,50.4L548,51L549,50.5L550,50.1L551,50.3L552,50.5L553,50.2L554,50.6L555,50.1L556,50.3L557,50L558,49.7L559,50.1L560,50.1L561,50L562,50L563,49.8L564,49.6L565,49.3L566,49.9L567,49.7L568,49.2L569,49.8L570,49.7L571,49.9L572,49.7L573,49.5L574,49.9L575,49.8L576,49.6L577,49.6L578,49.7L579,51.3L580,50.3L581,49.9L582,49.9L583,49.8L584,49.5L585,49.5L586,49.7L587,49.7L588,49.5L589,49.7L590,50L591,49.5L592,49.6L593,49.8L594,49.7L595,49.5L596,49.4L597,49.6L598,49.4L599,49.1L600,49.5L601,49.2L602,49.3L603,49.4L604,49.4L605,49.1L606,49L607,49L608,48.9L609,49.4L610,49L611,48.8L612,48.6L613,48.6L614,48.6L615,48.5L616,47.9L617,47.7L618,47.6L619,47.1L620,46.7L621,46.7L622,46.6L623,46.7L623.4,43.4" stroke="#3b1fff" stroke-width="1.32"/>
<path d="M506.7,39.4L507.3,42.5L508,45.6L509,47.9L510,48.3L511,48.7L512,48.9L513,49.3L514,50.2L515,50.5L516,50.5L517,50.2L518,50.7L519,50.6L520,50.3L521,50.1L522,50.5L523,50.4L524,50.3L525,50.5L526,50.7L527,50.1L528,50.1L529,50.8L530,51L531,50.5L532,50.6L533,50.6L534,50.2L535,50.5L536,50.5L537,50L538,50.1L539,49.8L540,49.5L541,49.7L542,49.7L543,49.8L544,50.3L545,49.8L546,50L547,49.9L548,50.1L549,49.9L550,49.5L551,49.7L552,50L553,49.9L554,49.6L555,49.3L556,49.5L557,49.6L558,49.2L559,49.6L560,49.6L561,49.6L562,49.3L563,49.1L564,49.1L565,49.2L566,49.5L567,49.2L568,48.8L569,48.9L570,49.2L571,49.4L572,48.9L573,49.3L574,49.4L575,49.5L576,49.2L577,49L578,49.6L579,50.7L580,49.7L581,49.7L582,49.4L583,49L584,49.1L585,48.7L586,49L587,49.3L588,49.3L589,48.8L590,49.3L591,48.8L592,49.1L593,49.2L594,49L595,49.1L596,48.5L597,49L598,49.1L599,48.3L600,48.8L601,48.8L602,49.1L603,48.7L604,49.1L605,48.6L606,48.5L607,48.6L608,48.2L609,48.9L610,48.2L611,48.2L612,48.1L613,48.1L614,48L615,47.7L616,47.5L617,47.4L618,47.2L619,46.7L620,46.4L621,46.5L622,46L623,46.3L623.4,42.9" stroke="#2352ff" stroke-width="1.32"/>
<path d="M506.7,39.3L507.3,42.3L508,45.2L509,47.5L510,47.8L511,48L512,48.7L513,48.8L514,49.5L515,50.1L516,50.3L517,50.1L518,50.1L519,49.9L520,49.8L521,49.2L522,49.6L523,50.1L524,49.6L525,50L526,50.1L527,49.3L528,49.5L529,49.9L530,50.6L531,50L532,50.2L533,50.1L534,49.7L535,49.8L536,49.6L537,49.7L538,49.5L539,49L540,49.1L541,49.1L542,49.2L543,48.9L544,49.6L545,49.3L546,49.5L547,49.1L548,49.9L549,49.7L550,49.2L551,49.1L552,49.5L553,49.4L554,49.2L555,49.2L556,49.4L557,48.8L558,48.8L559,49L560,49.1L561,49.1L562,48.6L563,48.9L564,48.5L565,48.3L566,49.1L567,48.7L568,48.2L569,48.4L570,48.6L571,48.8L572,48.7L573,48.8L574,48.9L575,48.7L576,48.5L577,48.4L578,48.8L579,50.2L580,49.1L581,49.2L582,48.9L583,48.7L584,48.6L585,48.4L586,48.5L587,48.8L588,48.7L589,48.5L590,48.8L591,48.5L592,48.6L593,48.6L594,48.5L595,48.3L596,48L597,48.1L598,48.6L599,48.1L600,48.5L601,48.2L602,48.6L603,48.4L604,48.3L605,47.8L606,48L607,47.8L608,47.6L609,48L610,48L611,47.7L612,47.8L613,47.7L614,47.6L615,47L616,47.2L617,47L618,46.7L619,46.3L620,45.7L621,45.8L622,45.4L623,45.8L623.4,42.5" stroke="#1693ff" stroke-width="1.32"/>
<path d="M506.7,39.2L507.3,42L508,44.9L509,46.9L510,47.7L511,47.7L512,48.1L513,48.6L514,49.3L515,49.5L516,49.3L517,49.5L518,50L519,49.4L520,49.5L521,48.9L522,49.4L523,49.3L524,48.9L525,49.7L526,49.3L527,49.1L528,49.2L529,49.3L530,49.9L531,49.5L532,49.7L533,49.8L534,49.1L535,49L536,49.1L537,49.1L538,48.9L539,48.9L540,48.6L541,48.7L542,48.8L543,48.5L544,49.2L545,49L546,49L547,48.8L548,49.1L549,49.2L550,48.3L551,48.5L552,48.8L553,48.7L554,48.6L555,48.4L556,48.5L557,48.4L558,48.2L559,48.3L560,48.4L561,48.5L562,48.4L563,48.4L564,47.7L565,47.8L566,48.3L567,48.1L568,48L569,48.2L570,48.2L571,48.5L572,48.2L573,48.2L574,48L575,48.5L576,47.9L577,48.3L578,48.5L579,49.8L580,48.6L581,48.6L582,48.2L583,48.3L584,47.7L585,47.5L586,47.9L587,48.4L588,48.2L589,48.2L590,48.3L591,47.9L592,48.2L593,48L594,47.7L595,47.7L596,47.5L597,47.8L598,48.2L599,47.2L600,47.9L601,47.8L602,47.7L603,47.6L604,47.7L605,47.6L606,47.8L607,47.2L608,47.1L609,47.6L610,47.4L611,46.9L612,47.5L613,47.1L614,47.1L615,46.7L616,46.6L617,46.5L618,46.1L619,45.6L620,45.6L621,45.2L622,45.4L623,45.3L623.4,42" stroke="#00e6fc" stroke-width="1.32"/>
<path d="M506.7,39.1L507.3,41.8L508,44.5L509,46.4L510,46.9L511,47.3L512,47.7L513,47.9L514,48.7L515,49L516,48.9L517,48.8L518,49.4L519,48.7L520,49.2L521,48.4L522,48.8L523,49L524,48.4L525,49.3L526,49.1L527,48.3L528,48.4L529,49.2L530,49.4L531,49.3L532,49.2L533,49.1L534,48.7L535,48.8L536,48.9L537,48.5L538,48.3L539,48L540,47.9L541,48.1L542,48.1L543,48.1L544,48.8L545,48.5L546,48.7L547,48L548,48.9L549,48.4L550,47.9L551,48.1L552,48.5L553,48.2L554,48L555,47.8L556,48.1L557,48.1L558,47.5L559,47.7L560,47.8L561,47.9L562,47.6L563,47.6L564,47.3L565,47.6L566,47.9L567,47.6L568,47.3L569,47.8L570,47.5L571,47.5L572,47.3L573,47.5L574,47.5L575,47.7L576,47.4L577,47.7L578,47.6L579,49.1L580,48.3L581,47.9L582,47.8L583,47.7L584,47.3L585,47.4L586,47.2L587,47.8L588,47.8L589,47.5L590,47.9L591,47.5L592,47.6L593,47.7L594,47.5L595,47.5L596,47.2L597,47.1L598,47.4L599,46.9L600,47.2L601,47.2L602,47.6L603,47.2L604,47.5L605,47.2L606,47.1L607,46.8L608,46.4L609,46.9L610,46.7L611,46.5L612,46.8L613,46.5L614,46.5L615,46.1L616,46.2L617,45.7L618,45.7L619,45.2L620,45L621,44.7L622,44.6L623,44.9L623.4,41.6" stroke="#00fb8b" stroke-width="1.32"/>
<path d="M506.7,39L507.3,41.6L508,44.1L509,45.9L510,46.4L511,46.6L512,47.2L513,47.4L514,47.9L515,48.4L516,48.6L517,48.3L518,48.5L519,48.2L520,48.6L521,47.9L522,48.1L523,48.6L524,48.3L525,48.3L526,48.4L527,48L528,48L529,48.3L530,49L531,48.7L532,48.5L533,48.8L534,48.2L535,48.2L536,48.2L537,48.2L538,48L539,47.6L540,47.6L541,47.9L542,47.8L543,47.6L544,47.9L545,47.7L546,47.9L547,47.4L548,48.1L549,47.9L550,47.2L551,47.3L552,47.8L553,47.8L554,47.6L555,47.5L556,47.5L557,47.2L558,47.4L559,47.1L560,47.5L561,47.2L562,47L563,47.1L564,46.7L565,46.9L566,47.5L567,47.1L568,46.8L569,47.2L570,47.1L571,47.3L572,46.9L573,47.1L574,46.9L575,47.1L576,47.2L577,47.2L578,47.2L579,48.2L580,47.6L581,47.3L582,47.2L583,47.1L584,47L585,46.9L586,46.7L587,47.4L588,46.9L589,47.2L590,47.3L591,46.9L592,47.1L593,47.3L594,47L595,47L596,46.4L597,46.6L598,47.1L599,46.1L600,47L601,46.8L602,47L603,46.5L604,46.7L605,46.6L606,46.6L607,46.2L608,45.9L609,46.7L610,46.5L611,46L612,46L613,46.3L614,46.1L615,45.7L616,45.7L617,45.3L618,45.1L619,44.5L620,44.2L621,44.6L622,44.5L623,44.4L623.4,41.1" stroke="#1ce736" stroke-width="1.32"/>
<path d="M506.7,38.9L507.3,41.4L508,43.8L509,45.2L510,46.1L511,46.1L512,46.5L513,46.8L514,47.4L515,48.3L516,47.8L517,47.6L518,48.3L519,47.5L520,47.8L521,47.4L522,47.8L523,47.7L524,47.6L525,48.1L526,48.1L527,47.4L528,47.7L529,47.9L530,48.5L531,48L532,48.1L533,48L534,47.7L535,47.8L536,47.4L537,47.7L538,47L539,47.3L540,46.9L541,47.1L542,47.1L543,46.8L544,47.6L545,47.3L546,47.6L547,47L548,47.8L549,47.4L550,46.9L551,47L552,47.1L553,47.3L554,47.3L555,46.8L556,47.1L557,46.8L558,46.5L559,47L560,47L561,46.9L562,46.9L563,46.9L564,46.4L565,46.2L566,46.7L567,46.4L568,46.3L569,46.4L570,46.6L571,46.8L572,46.2L573,46.3L574,46.6L575,46.5L576,46.5L577,46.4L578,46.9L579,47.6L580,47.1L581,47.1L582,46.8L583,46.4L584,46.2L585,46.4L586,46.5L587,46.8L588,46.5L589,46.3L590,46.8L591,46.4L592,46.5L593,46.5L594,46.5L595,46.4L596,46.3L597,46.3L598,46.3L599,45.6L600,46.2L601,46.5L602,46.2L603,46L604,46.2L605,45.8L606,45.9L607,45.9L608,45.5L609,46.1L610,45.8L611,45.7L612,45.9L613,45.6L614,45.3L615,45.2L616,44.8L617,44.5L618,44.2L619,44L620,43.9L621,43.8L622,43.9L623,43.9L623.4,40.6" stroke="#89dd06" stroke-width="1.32"/>
<path d="M506.7,38.8L507.3,41.2L508,43.4L509,44.9L510,45.7L511,45.5L512,46.1L513,46.2L514,46.9L515,47.8L516,47.6L517,47.4L518,47.7L519,47.4L520,47.4L521,46.9L522,47.2L523,47.3L524,46.8L525,47.7L526,47.6L527,46.8L528,47L529,47.2L530,48L531,47.3L532,47.4L533,47.3L534,47.3L535,47.2L536,47.3L537,47.1L538,46.8L539,46.8L540,46.4L541,46.6L542,46.4L543,46.4L544,46.8L545,46.9L546,46.9L547,46.7L548,47.3L549,46.7L550,46.1L551,46.4L552,46.7L553,46.7L554,46.6L555,46.5L556,46.6L557,46.4L558,46.2L559,46.5L560,46.5L561,46.5L562,45.9L563,45.9L564,45.5L565,45.9L566,46.3L567,45.8L568,45.8L569,45.9L570,46.2L571,46.4L572,46.1L573,45.9L574,45.8L575,46.1L576,46.1L577,45.9L578,46.2L579,47.2L580,46.7L581,46.3L582,46.2L583,45.9L584,45.8L585,45.5L586,45.9L587,46.2L588,46.2L589,45.9L590,46.3L591,45.6L592,45.8L593,46L594,45.6L595,45.8L596,45.6L597,45.9L598,45.7L599,45.4L600,45.9L601,46L602,45.6L603,45.5L604,45.8L605,45.5L606,45.2L607,45.1L608,45.2L609,45.6L610,45.2L611,45L612,45L613,45L614,45.1L615,44.4L616,44.7L617,44.4L618,43.9L619,43.7L620,43.3L621,43.4L622,43.3L623,43.5L623.4,40.2" stroke="#ffcf00" stroke-width="1.32"/>
<path d="M506.7,38.7L507.3,40.9L508,43.1L509,44.4L510,45.3L511,45.1L512,45.4L513,45.8L514,46.3L515,46.9L516,46.8L517,46.9L518,47L519,46.6L520,46.6L521,46.5L522,46.5L523,46.6L524,46.6L525,46.8L526,47.1L527,46.5L528,46.2L529,47.1L530,47.1L531,46.8L532,47L533,47.2L534,46.5L535,46.5L536,46.6L537,46.6L538,46.4L539,46.2L540,46L541,46.2L542,46.3L543,45.8L544,46.4L545,46.1L546,46.6L547,46.2L548,46.5L549,46.6L550,46.1L551,45.8L552,46.1L553,46L554,46.3L555,45.7L556,46.2L557,45.8L558,45.7L559,46L560,45.9L561,45.7L562,45.7L563,45.8L564,45.1L565,45.5L566,46L567,45.7L568,45.4L569,45.5L570,45.5L571,45.5L572,45.3L573,45.3L574,45.3L575,45.5L576,45.5L577,45.3L578,45.9L579,46.5L580,46.3L581,46L582,45.6L583,45.5L584,45.3L585,45.4L586,45.5L587,45.6L588,45.4L589,45.3L590,45.5L591,45L592,45.5L593,45.5L594,45.3L595,45.1L596,45.1L597,45L598,45.4L599,44.6L600,45.3L601,45.3L602,45.4L603,45.2L604,44.9L605,45L606,45.1L607,45L608,44.3L609,45L610,44.6L611,44.5L612,44.7L613,44.8L614,44.4L615,44.1L616,43.8L617,43.5L618,43.4L619,42.9L620,42.8L621,42.7L622,42.7L623,43L623.4,39.7" stroke="#ff7d00" stroke-width="1.32"/>
<path d="M506.7,38.6L507.3,40.7L508,42.7L509,43.8L510,44.5L511,44.7L512,44.7L513,45.3L514,46L515,46.8L516,46.5L517,46L518,46.7L519,46.3L520,46.5L521,45.9L522,46.2L523,46.4L524,45.9L525,46.2L526,46.3L527,45.9L528,46L529,46.6L530,46.7L531,46.4L532,46.5L533,46.4L534,46L535,45.9L536,46.1L537,45.8L538,45.7L539,45.5L540,45.4L541,45.6L542,45.6L543,45.3L544,46.2L545,46L546,45.8L547,45.6L548,45.9L549,45.7L550,45.5L551,45.6L552,45.5L553,45.5L554,45.7L555,45.1L556,45.3L557,45.3L558,45L559,45.1L560,45.4L561,45.2L562,45L563,45.2L564,44.7L565,44.8L566,45.2L567,45.1L568,45L569,45.2L570,45.2L571,45L572,44.9L573,44.7L574,45.2L575,45L576,44.8L577,45L578,45L579,46.1L580,45.4L581,45.5L582,45.2L583,44.7L584,44.8L585,44.7L586,44.6L587,45L588,45L589,44.9L590,45L591,44.6L592,44.9L593,44.9L594,44.7L595,44.6L596,44.7L597,44.6L598,44.7L599,44.1L600,44.7L601,45L602,44.8L603,44.6L604,44.5L605,44.3L606,44.6L607,44.5L608,43.9L609,44.5L610,44.3L611,44L612,44L613,43.9L614,43.8L615,43.6L616,43.3L617,42.9L618,43.1L619,42.4L620,42.2L621,42.2L622,42.5L623,42.5L623.4,39.3" stroke="#ff3400" stroke-width="1.32"/>
<path d="M507.3,40.5L508,42.3L509,43.5L510,44.1L511,44L512,44.4L513,44.7L514,45.4L515,46L516,45.9L517,45.7L518,46.1L519,45.6L520,45.8L521,45.3L522,45.6L523,45.8L524,45.4L525,45.9L526,45.9L527,45.3L528,45.4L529,45.9L530,46.2L531,45.9L532,45.9L533,46L534,45.5L535,45.5L536,45.6L537,45.5L538,45.1L539,45L540,45L541,45.2L542,45.1L543,44.9L544,45.4L545,45.2L546,45.3L547,45L548,45.5L549,45.4L550,44.8L551,44.9L552,45.1L553,45L554,45.1L555,44.7L556,45L557,44.8L558,44.5L559,44.7L560,44.8L561,44.8L562,44.5L563,44.5L564,44.1L565,44.3L566,44.7L567,44.4L568,44.2L569,44.4L570,44.5L571,44.5L572,44.3L573,44.4L574,44.5L575,44.7L576,44.5L577,44.4L578,44.7L579,45.4L580,45L581,44.8L582,44.6L583,44.4L584,44.2L585,44.1L586,44.3L587,44.6L588,44.5L589,44.3L590,44.6L591,44.1L592,44.3L593,44.5L594,44.3L595,44.1L596,44L597,44.1L598,44.4L599,43.7L600,44.2L601,44.2L602,44.2L603,44.1L604,44.1L605,43.9L606,43.8L607,43.7L608,43.4L609,43.9L610,43.7L611,43.4L612,43.6L613,43.5L614,43.3L615,43L616,42.9L617,42.6L618,42.3L619,42L620,41.7L621,41.8L622,41.8L623,42.1L623.4,38.8" stroke="#ff1010" stroke-width="1.3"/>
<path d="M506.1,54L506.4,22.1L507,40" stroke="#ff1a1a" stroke-width="1.0"/>
<path d="M497.7,108.8L499.1,97.6L500.5,78.1L500.9,69.1L501.8,70.5L502.5,73.2L503.9,60L504.1,58.7L505.4,56.1L506.1,53.5L506.1,54L506.4,22.1L507,40L507.3,40.5L508,42.3L509,43.5L510,44.1L511,44L512,44.4L513,44.7L514,45.4L515,46L516,45.9L517,45.7L518,46.1L519,45.6L520,45.8L521,45.3L522,45.6L523,45.8L524,45.4L525,45.9L526,45.9L527,45.3L528,45.4L529,45.9L530,46.2L531,45.9L532,45.9L533,46L534,45.5L535,45.5L536,45.6L537,45.5L538,45.1L539,45L540,45L541,45.2L542,45.1L543,44.9L544,45.4L545,45.2L546,45.3L547,45L548,45.5L549,45.4L550,44.8L551,44.9L552,45.1L553,45L554,45.1L555,44.7L556,45L557,44.8L558,44.5L559,44.7L560,44.8L561,44.8L562,44.5L563,44.5L564,44.1L565,44.3L566,44.7L567,44.4L568,44.2L569,44.4L570,44.5L571,44.5L572,44.3L573,44.4L574,44.5L575,44.7L576,44.5L577,44.4L578,44.7L579,45.4L580,45L581,44.8L582,44.6L583,44.4L584,44.2L585,44.1L586,44.3L587,44.6L588,44.5L589,44.3L590,44.6L591,44.1L592,44.3L593,44.5L594,44.3L595,44.1L596,44L597,44.1L598,44.4L599,43.7L600,44.2L601,44.2L602,44.2L603,44.1L604,44.1L605,43.9L606,43.8L607,43.7L608,43.4L609,43.9L610,43.7L611,43.4L612,43.6L613,43.5L614,43.3L615,43L616,42.9L617,42.6L618,42.3L619,42L620,41.7L621,41.8L622,41.8L623,42.1L623.4,38.8L624.3,40.7L625.4,57.4L626.4,74.2L627.2,89.6L628.1,97.3L628.9,99.8" stroke="#ff3838" stroke-width="1.0"/>
</g>
<line x1="491.5" y1="4.2" x2="491.5" y2="127" stroke="#262626" stroke-width="0.9"/>
<line x1="491.1" y1="126.6" x2="634.4" y2="126.6" stroke="#262626" stroke-width="0.9"/>
<line x1="489.3" y1="114.6" x2="491.5" y2="114.6" stroke="#262626" stroke-width="0.9"/>
<text x="486.9" y="116.9" font-size="6.5" text-anchor="end" fill="#000">0</text>
<line x1="489.3" y1="90" x2="491.5" y2="90" stroke="#262626" stroke-width="0.9"/>
<text x="486.9" y="92.3" font-size="6.5" text-anchor="end" fill="#000">5</text>
<line x1="489.3" y1="65.4" x2="491.5" y2="65.4" stroke="#262626" stroke-width="0.9"/>
<text x="486.9" y="67.7" font-size="6.5" text-anchor="end" fill="#000">10</text>
<line x1="489.3" y1="40.8" x2="491.5" y2="40.8" stroke="#262626" stroke-width="0.9"/>
<text x="486.9" y="43.1" font-size="6.5" text-anchor="end" fill="#000">15</text>
<line x1="489.3" y1="16.2" x2="491.5" y2="16.2" stroke="#262626" stroke-width="0.9"/>
<text x="486.9" y="18.5" font-size="6.5" text-anchor="end" fill="#000">20</text>
<line x1="490.3" y1="126.9" x2="491.5" y2="126.9" stroke="#262626" stroke-width="0.9"/>
<line x1="490.3" y1="102.3" x2="491.5" y2="102.3" stroke="#262626" stroke-width="0.9"/>
<line x1="490.3" y1="77.7" x2="491.5" y2="77.7" stroke="#262626" stroke-width="0.9"/>
<line x1="490.3" y1="53.1" x2="491.5" y2="53.1" stroke="#262626" stroke-width="0.9"/>
<line x1="490.3" y1="28.5" x2="491.5" y2="28.5" stroke="#262626" stroke-width="0.9"/>
<line x1="490.3" y1="3.9" x2="491.5" y2="3.9" stroke="#262626" stroke-width="0.9"/>
<line x1="497.6" y1="126.6" x2="497.6" y2="128.8" stroke="#262626" stroke-width="0.9"/>
<text x="497.6" y="135.9" font-size="6.5" text-anchor="middle" fill="#000">0</text>
<line x1="510.6" y1="126.6" x2="510.6" y2="128.8" stroke="#262626" stroke-width="0.9"/>
<text x="510.6" y="135.9" font-size="6.5" text-anchor="middle" fill="#000">4</text>
<line x1="523.5" y1="126.6" x2="523.5" y2="128.8" stroke="#262626" stroke-width="0.9"/>
<text x="523.5" y="135.9" font-size="6.5" text-anchor="middle" fill="#000">8</text>
<line x1="536.5" y1="126.6" x2="536.5" y2="128.8" stroke="#262626" stroke-width="0.9"/>
<text x="536.5" y="135.9" font-size="6.5" text-anchor="middle" fill="#000">12</text>
<line x1="549.4" y1="126.6" x2="549.4" y2="128.8" stroke="#262626" stroke-width="0.9"/>
<text x="549.4" y="135.9" font-size="6.5" text-anchor="middle" fill="#000">16</text>
<line x1="562.4" y1="126.6" x2="562.4" y2="128.8" stroke="#262626" stroke-width="0.9"/>
<text x="562.4" y="135.9" font-size="6.5" text-anchor="middle" fill="#000">20</text>
<line x1="575.3" y1="126.6" x2="575.3" y2="128.8" stroke="#262626" stroke-width="0.9"/>
<text x="575.3" y="135.9" font-size="6.5" text-anchor="middle" fill="#000">24</text>
<line x1="588.2" y1="126.6" x2="588.2" y2="128.8" stroke="#262626" stroke-width="0.9"/>
<text x="588.2" y="135.9" font-size="6.5" text-anchor="middle" fill="#000">28</text>
<line x1="601.2" y1="126.6" x2="601.2" y2="128.8" stroke="#262626" stroke-width="0.9"/>
<text x="601.2" y="135.9" font-size="6.5" text-anchor="middle" fill="#000">32</text>
<line x1="614.1" y1="126.6" x2="614.1" y2="128.8" stroke="#262626" stroke-width="0.9"/>
<text x="614.1" y="135.9" font-size="6.5" text-anchor="middle" fill="#000">36</text>
<line x1="627.1" y1="126.6" x2="627.1" y2="128.8" stroke="#262626" stroke-width="0.9"/>
<text x="627.1" y="135.9" font-size="6.5" text-anchor="middle" fill="#000">40</text>
<line x1="494.4" y1="126.6" x2="494.4" y2="127.8" stroke="#262626" stroke-width="0.9"/>
<line x1="500.8" y1="126.6" x2="500.8" y2="127.8" stroke="#262626" stroke-width="0.9"/>
<line x1="504.1" y1="126.6" x2="504.1" y2="127.8" stroke="#262626" stroke-width="0.9"/>
<line x1="507.3" y1="126.6" x2="507.3" y2="127.8" stroke="#262626" stroke-width="0.9"/>
<line x1="513.8" y1="126.6" x2="513.8" y2="127.8" stroke="#262626" stroke-width="0.9"/>
<line x1="517" y1="126.6" x2="517" y2="127.8" stroke="#262626" stroke-width="0.9"/>
<line x1="520.3" y1="126.6" x2="520.3" y2="127.8" stroke="#262626" stroke-width="0.9"/>
<line x1="526.7" y1="126.6" x2="526.7" y2="127.8" stroke="#262626" stroke-width="0.9"/>
<line x1="530" y1="126.6" x2="530" y2="127.8" stroke="#262626" stroke-width="0.9"/>
<line x1="533.2" y1="126.6" x2="533.2" y2="127.8" stroke="#262626" stroke-width="0.9"/>
<line x1="539.7" y1="126.6" x2="539.7" y2="127.8" stroke="#262626" stroke-width="0.9"/>
<line x1="542.9" y1="126.6" x2="542.9" y2="127.8" stroke="#262626" stroke-width="0.9"/>
<line x1="546.2" y1="126.6" x2="546.2" y2="127.8" stroke="#262626" stroke-width="0.9"/>
<line x1="552.6" y1="126.6" x2="552.6" y2="127.8" stroke="#262626" stroke-width="0.9"/>
<line x1="555.9" y1="126.6" x2="555.9" y2="127.8" stroke="#262626" stroke-width="0.9"/>
<line x1="559.1" y1="126.6" x2="559.1" y2="127.8" stroke="#262626" stroke-width="0.9"/>
<line x1="565.6" y1="126.6" x2="565.6" y2="127.8" stroke="#262626" stroke-width="0.9"/>
<line x1="568.8" y1="126.6" x2="568.8" y2="127.8" stroke="#262626" stroke-width="0.9"/>
<line x1="572.1" y1="126.6" x2="572.1" y2="127.8" stroke="#262626" stroke-width="0.9"/>
<line x1="578.5" y1="126.6" x2="578.5" y2="127.8" stroke="#262626" stroke-width="0.9"/>
<line x1="581.8" y1="126.6" x2="581.8" y2="127.8" stroke="#262626" stroke-width="0.9"/>
<line x1="585" y1="126.6" x2="585" y2="127.8" stroke="#262626" stroke-width="0.9"/>
<line x1="591.5" y1="126.6" x2="591.5" y2="127.8" stroke="#262626" stroke-width="0.9"/>
<line x1="594.7" y1="126.6" x2="594.7" y2="127.8" stroke="#262626" stroke-width="0.9"/>
<line x1="598" y1="126.6" x2="598" y2="127.8" stroke="#262626" stroke-width="0.9"/>
<line x1="604.4" y1="126.6" x2="604.4" y2="127.8" stroke="#262626" stroke-width="0.9"/>
<line x1="607.7" y1="126.6" x2="607.7" y2="127.8" stroke="#262626" stroke-width="0.9"/>
<line x1="610.9" y1="126.6" x2="610.9" y2="127.8" stroke="#262626" stroke-width="0.9"/>
<line x1="617.4" y1="126.6" x2="617.4" y2="127.8" stroke="#262626" stroke-width="0.9"/>
<line x1="620.6" y1="126.6" x2="620.6" y2="127.8" stroke="#262626" stroke-width="0.9"/>
<line x1="623.9" y1="126.6" x2="623.9" y2="127.8" stroke="#262626" stroke-width="0.9"/>
<line x1="630.3" y1="126.6" x2="630.3" y2="127.8" stroke="#262626" stroke-width="0.9"/>
<line x1="633.6" y1="126.6" x2="633.6" y2="127.8" stroke="#262626" stroke-width="0.9"/>
<text x="563" y="147" font-size="6.8" text-anchor="middle" fill="#000">Height (mm)</text>
<text x="475.9" y="63.9" font-size="6.6" text-anchor="middle" fill="#000" transform="rotate(-90 475.9 63.9)">BS (%)</text>
<text x="473.5" y="7.1" font-size="9.6" text-anchor="start" fill="#000" style="stroke-width:0.35px">C</text>
<rect x="634.4" y="4.2" width="8.5" height="122.4" fill="url(#cbg)"/>
<text x="645.2" y="10.8" font-size="6.8" text-anchor="start" fill="#000">00h:00m:00s</text>
<text x="645.2" y="20.5" font-size="6.8" text-anchor="start" fill="#000">02h:00m:00s</text>
<text x="645.2" y="30.2" font-size="6.8" text-anchor="start" fill="#000">04h:00m:00s</text>
<text x="645.2" y="39.9" font-size="6.8" text-anchor="start" fill="#000">06h:00m:00s</text>
<text x="645.2" y="49.7" font-size="6.8" text-anchor="start" fill="#000">08h:00m:00s</text>
<text x="645.2" y="59.4" font-size="6.8" text-anchor="start" fill="#000">10h:00m:00s</text>
<text x="645.2" y="69.1" font-size="6.8" text-anchor="start" fill="#000">12h:00m:00s</text>
<text x="645.2" y="78.9" font-size="6.8" text-anchor="start" fill="#000">14h:00m:00s</text>
<text x="645.2" y="88.6" font-size="6.8" text-anchor="start" fill="#000">16h:00m:00s</text>
<text x="645.2" y="98.3" font-size="6.8" text-anchor="start" fill="#000">18h:00m:00s</text>
<text x="645.2" y="108.1" font-size="6.8" text-anchor="start" fill="#000">20h:00m:00s</text>
<text x="645.2" y="117.8" font-size="6.8" text-anchor="start" fill="#000">22h:00m:00s</text>
<text x="645.2" y="127.5" font-size="6.8" text-anchor="start" fill="#000">24h:00m:00s</text>
<g fill="none" stroke-linejoin="round" stroke-linecap="round">
<path d="M34.2,197.7L34.6,202.5L35.4,205L35.5,207.2L36.5,207.6L37.5,207.6L38.5,208.1L39.5,208.4L40.5,208.5L41.5,209.1L42.5,209.4L43.5,209.1L44.5,209L45.5,209.7L46.5,209.2L47.5,209.7L48.5,208.8L49.5,209.5L50.5,210L51.5,210.3L52.5,212.3L53.5,210.9L54.5,210.3L55.5,210.4L56.5,210.7L57.5,210.9L58.5,210.7L59.5,210.5L60.5,210.6L61.5,210.6L62.5,211.9L63.5,210.9L64.5,211.1L65.5,210.7L66.5,210.7L67.5,210.7L68.5,210.9L69.5,211L70.5,210.5L71.5,211.3L72.5,211.2L73.5,211.2L74.5,210.8L75.5,211.7L76.5,211.3L77.5,211.1L78.5,211.2L79.5,211.5L80.5,211.7L81.5,211.9L82.5,211.7L83.5,212.4L84.5,212.4L85.5,212L86.5,212.4L87.5,212.5L88.5,212.6L89.5,212.6L90.5,212.4L91.5,212.4L92.5,212.4L93.5,212.7L94.5,212L95.5,211.8L96.5,212.1L97.5,212.5L98.5,212.8L99.5,212.6L100.5,212.7L101.5,212.4L102.5,212.7L103.5,212.4L104.5,212.2L105.5,212.2L106.5,211.4L107.5,211.3L108.5,212L109.5,212L110.5,211.7L111.5,211.3L112.5,211.3L113.5,211L114.5,211.7L115.5,211.4L116.5,211L117.5,211L118.5,210.7L119.5,210.9L120.5,211L121.5,210.6L122.5,210.5L123.5,210.6L124.5,216.6L125.5,217.1L126.5,215.9L127.5,216.2L128.5,216L129.5,217.1L130.5,217.6L131.5,218L132.5,217.8L133.5,216.7L134.5,215.3L135.5,213.2L136.5,212.6L137.5,211.2L138.5,210.5L139.5,210.5L140.5,210.2L141.5,209.5L142.5,209.1L143.5,209.1L144.5,208.6L145.5,208L146.5,207.2L147.5,206.6L148.5,205.9L149.5,205.9L150.5,206.2L151.5,205.8" stroke="#8c00ff" stroke-width="1.7"/>
<path d="M34.2,197.1L34.6,201.7L35.4,204.2L35.5,206.4L36.5,206.7L37.5,206.8L38.5,207L39.5,207.2L40.5,207.6L41.5,208.2L42.5,208.8L43.5,208.5L44.5,208.4L45.5,209L46.5,208.6L47.5,208.8L48.5,208.1L49.5,208.9L50.5,209.4L51.5,209.2L52.5,211.4L53.5,210L54.5,209.6L55.5,209.7L56.5,209.8L57.5,210.2L58.5,209.9L59.5,209.7L60.5,209.7L61.5,209.4L62.5,211.2L63.5,210.1L64.5,210L65.5,210L66.5,209.8L67.5,210L68.5,210.3L69.5,210.1L70.5,209.8L71.5,210.7L72.5,210.5L73.5,210.2L74.5,210.1L75.5,210.7L76.5,210.6L77.5,210.3L78.5,210.3L79.5,211L80.5,211.1L81.5,211L82.5,211.1L83.5,211.3L84.5,211.4L85.5,211.3L86.5,211.7L87.5,211.8L88.5,211.6L89.5,211.6L90.5,211.4L91.5,211.4L92.5,211.3L93.5,211.6L94.5,211.2L95.5,211L96.5,211.6L97.5,211.4L98.5,211.5L99.5,211.4L100.5,211.4L101.5,211.8L102.5,211.8L103.5,211.5L104.5,211.4L105.5,211.1L106.5,210.5L107.5,210.4L108.5,210.9L109.5,211.2L110.5,210.9L111.5,210.5L112.5,210.1L113.5,210.4L114.5,210.8L115.5,210.3L116.5,210.4L117.5,210.6L118.5,209.9L119.5,210L120.5,210.1L121.5,209.8L122.5,209.6L123.5,209.7L124.5,216L125.5,216.2L126.5,215.1L127.5,215.7L128.5,215.3L129.5,215.8L130.5,216.3L131.5,217.2L132.5,217.2L133.5,216L134.5,214.2L135.5,212.5L136.5,211.9L137.5,210.2L138.5,209.7L139.5,209.5L140.5,209.5L141.5,209.1L142.5,208.6L143.5,208.5L144.5,207.8L145.5,207L146.5,206.5L147.5,205.9L148.5,205.4L149.5,205.1L150.5,205.2L151.5,205.2" stroke="#6d03ff" stroke-width="1.7"/>
<path d="M34.2,196.6L34.6,200.8L35.4,203.3L35.5,205.6L36.5,205.8L37.5,206.2L38.5,206.6L39.5,206.9L40.5,207.2L41.5,207.8L42.5,208L43.5,208L44.5,207.5L45.5,208.1L46.5,207.5L47.5,208.1L48.5,207.2L49.5,208.1L50.5,208.7L51.5,208.6L52.5,210.5L53.5,209.2L54.5,208.8L55.5,208.9L56.5,209.2L57.5,209.6L58.5,209.2L59.5,208.7L60.5,209.2L61.5,208.6L62.5,210.1L63.5,209L64.5,209.4L65.5,208.8L66.5,209.3L67.5,208.8L68.5,209L69.5,208.9L70.5,208.8L71.5,209.8L72.5,209.6L73.5,209.7L74.5,209.1L75.5,209.9L76.5,209.9L77.5,209.4L78.5,209.5L79.5,210.2L80.5,210.2L81.5,210.4L82.5,210L83.5,210.5L84.5,210.6L85.5,210.3L86.5,210.5L87.5,211L88.5,210.8L89.5,210.8L90.5,210.5L91.5,210.4L92.5,210.6L93.5,210.6L94.5,210.5L95.5,210.1L96.5,210.6L97.5,210.8L98.5,210.6L99.5,210.8L100.5,210.6L101.5,210.6L102.5,210.8L103.5,210.3L104.5,210.1L105.5,210.4L106.5,209.6L107.5,209.7L108.5,210.3L109.5,210.1L110.5,210L111.5,209.7L112.5,209.2L113.5,209.3L114.5,209.9L115.5,209.7L116.5,209.5L117.5,209.6L118.5,209L119.5,209.4L120.5,209.5L121.5,209.2L122.5,209.2L123.5,208.6L124.5,215L125.5,215.1L126.5,213.9L127.5,214.4L128.5,214.5L129.5,215.1L130.5,215.7L131.5,216.3L132.5,216.4L133.5,215.2L134.5,213.7L135.5,211.8L136.5,211.1L137.5,209.2L138.5,208.7L139.5,208.9L140.5,208.7L141.5,207.9L142.5,207.6L143.5,207.6L144.5,207L145.5,206.4L146.5,205.7L147.5,205L148.5,204.9L149.5,204.4L150.5,204.9L151.5,204.6" stroke="#3b1fff" stroke-width="1.7"/>
<path d="M34.2,196L34.6,200L35.4,202.5L35.5,204.7L36.5,204.9L37.5,205.3L38.5,205.7L39.5,205.8L40.5,206.3L41.5,206.7L42.5,207.2L43.5,207.3L44.5,206.7L45.5,207.5L46.5,207.2L47.5,207L48.5,206.8L49.5,207.2L50.5,207.9L51.5,207.8L52.5,209.4L53.5,208.6L54.5,207.9L55.5,207.8L56.5,208.3L57.5,208.5L58.5,208.1L59.5,208.3L60.5,208.5L61.5,207.8L62.5,209.3L63.5,208.4L64.5,208.1L65.5,208L66.5,208.2L67.5,208.4L68.5,208.6L69.5,208.2L70.5,208.1L71.5,208.9L72.5,208.4L73.5,208.5L74.5,208.3L75.5,209.1L76.5,209.1L77.5,208.6L78.5,208.4L79.5,208.9L80.5,209L81.5,209.5L82.5,209.2L83.5,209.8L84.5,209.7L85.5,209.5L86.5,209.7L87.5,209.7L88.5,210.1L89.5,209.9L90.5,210L91.5,209.6L92.5,209.4L93.5,209.7L94.5,209.5L95.5,209.5L96.5,209.5L97.5,210L98.5,210.1L99.5,209.8L100.5,209.8L101.5,209.7L102.5,210.1L103.5,209.5L104.5,209.4L105.5,209.5L106.5,209L107.5,208.7L108.5,209.4L109.5,209.2L110.5,208.9L111.5,208.7L112.5,208.6L113.5,208.4L114.5,208.9L115.5,208.7L116.5,208.6L117.5,208.6L118.5,208.2L119.5,208.5L120.5,208.4L121.5,208.4L122.5,208.1L123.5,207.9L124.5,213.8L125.5,213.9L126.5,213.4L127.5,213.5L128.5,213.8L129.5,214.3L130.5,214.7L131.5,215.7L132.5,215.6L133.5,214.3L134.5,212.5L135.5,211.1L136.5,209.9L137.5,208.5L138.5,208.1L139.5,208L140.5,207.7L141.5,207.4L142.5,207.2L143.5,206.8L144.5,206.4L145.5,206L146.5,205.1L147.5,204.6L148.5,203.8L149.5,203.8L150.5,204.3L151.5,203.9" stroke="#2352ff" stroke-width="1.7"/>
<path d="M34.2,195.4L34.6,199.2L35.4,201.7L35.5,203.9L36.5,204.2L37.5,204.6L38.5,204.7L39.5,205.5L40.5,205.9L41.5,206L42.5,206.7L43.5,206.2L44.5,205.9L45.5,206.5L46.5,206.3L47.5,206.4L48.5,205.7L49.5,206.5L50.5,206.7L51.5,206.8L52.5,208.3L53.5,207.8L54.5,207L55.5,207.1L56.5,207.4L57.5,207.7L58.5,207.4L59.5,207.1L60.5,207.4L61.5,207.3L62.5,207.9L63.5,207.3L64.5,207.3L65.5,207.3L66.5,207.2L67.5,207.4L68.5,207.4L69.5,207.4L70.5,207.1L71.5,207.9L72.5,207.8L73.5,208L74.5,207.5L75.5,208.3L76.5,208.2L77.5,207.5L78.5,208L79.5,208.4L80.5,208.1L81.5,208.7L82.5,208.4L83.5,208.8L84.5,208.8L85.5,208.4L86.5,208.9L87.5,209.1L88.5,208.9L89.5,209.1L90.5,209.1L91.5,208.4L92.5,208.5L93.5,208.8L94.5,208.7L95.5,208.6L96.5,209L97.5,209.1L98.5,208.8L99.5,208.7L100.5,208.7L101.5,208.9L102.5,209L103.5,208.7L104.5,208.7L105.5,208.5L106.5,208.2L107.5,208.1L108.5,208.4L109.5,208.4L110.5,208L111.5,207.9L112.5,207.6L113.5,207.8L114.5,208.2L115.5,207.9L116.5,207.5L117.5,207.8L118.5,207.3L119.5,207.3L120.5,207.5L121.5,207.4L122.5,207.5L123.5,207.2L124.5,212.8L125.5,213.3L126.5,212.4L127.5,212.8L128.5,212.4L129.5,213.3L130.5,213.9L131.5,214.8L132.5,214.5L133.5,213.4L134.5,211.9L135.5,210.3L136.5,209.3L137.5,207.9L138.5,207.2L139.5,207.5L140.5,207.2L141.5,206.8L142.5,206.4L143.5,206L144.5,205.6L145.5,204.9L146.5,204.7L147.5,203.9L148.5,203.6L149.5,203.3L150.5,203.6L151.5,203.3" stroke="#1693ff" stroke-width="1.7"/>
<path d="M34.2,194.9L34.6,198.3L35.4,200.8L35.5,203.1L36.5,203.6L37.5,203.7L38.5,203.9L39.5,204.8L40.5,205.2L41.5,205.6L42.5,206L43.5,205.5L44.5,205.6L45.5,205.8L46.5,205.3L47.5,205.7L48.5,204.8L49.5,205.7L50.5,206.2L51.5,205.9L52.5,207.6L53.5,206.6L54.5,206.3L55.5,206.3L56.5,206.5L57.5,206.7L58.5,206.5L59.5,206.4L60.5,206.6L61.5,206.5L62.5,207.1L63.5,206.4L64.5,206.7L65.5,206.5L66.5,206.6L67.5,206.6L68.5,206.7L69.5,206.7L70.5,206.2L71.5,207.1L72.5,206.6L73.5,206.9L74.5,206.6L75.5,207.2L76.5,207L77.5,206.7L78.5,206.8L79.5,207.2L80.5,207.4L81.5,207.7L82.5,207.3L83.5,207.9L84.5,208L85.5,207.8L86.5,207.7L87.5,208L88.5,208.1L89.5,208L90.5,208.1L91.5,207.8L92.5,207.8L93.5,208.4L94.5,208L95.5,207.7L96.5,207.8L97.5,208.2L98.5,207.8L99.5,208.1L100.5,208.1L101.5,208.3L102.5,208.1L103.5,208L104.5,207.5L105.5,207.8L106.5,207L107.5,206.8L108.5,207.3L109.5,207.6L110.5,207.2L111.5,207.1L112.5,206.8L113.5,207L114.5,207.4L115.5,206.7L116.5,206.6L117.5,206.8L118.5,206.3L119.5,206.6L120.5,207L121.5,206.4L122.5,206.5L123.5,206.2L124.5,211.8L125.5,212.1L126.5,211.3L127.5,211.9L128.5,212L129.5,212.3L130.5,213.1L131.5,213.9L132.5,213.9L133.5,212.3L134.5,211.3L135.5,209.3L136.5,208.6L137.5,207L138.5,206.6L139.5,206.7L140.5,206.3L141.5,205.8L142.5,205.8L143.5,205.2L144.5,205.2L145.5,204.6L146.5,203.7L147.5,203.3L148.5,202.9L149.5,202.6L150.5,203L151.5,202.7" stroke="#00e6fc" stroke-width="1.7"/>
<path d="M34.2,194.3L34.6,197.5L35.4,200L35.5,202.2L36.5,202.4L37.5,203L38.5,203.3L39.5,204.1L40.5,204.2L41.5,205L42.5,205.2L43.5,205L44.5,204.8L45.5,204.9L46.5,204.9L47.5,204.9L48.5,204.1L49.5,204.7L50.5,205.5L51.5,205.3L52.5,206.9L53.5,206.1L54.5,205.4L55.5,205.3L56.5,205.9L57.5,206.3L58.5,205.6L59.5,205.6L60.5,205.6L61.5,205.2L62.5,206L63.5,205.7L64.5,205.9L65.5,205.8L66.5,205.8L67.5,205.9L68.5,205.7L69.5,205.9L70.5,205.4L71.5,206L72.5,205.9L73.5,206.3L74.5,205.7L75.5,206.1L76.5,206.2L77.5,205.8L78.5,206.1L79.5,206.3L80.5,206.4L81.5,206.6L82.5,206.6L83.5,206.9L84.5,206.9L85.5,206.7L86.5,207.1L87.5,207.3L88.5,207.4L89.5,207L90.5,207.4L91.5,206.6L92.5,206.7L93.5,207L94.5,206.8L95.5,206.6L96.5,206.8L97.5,206.9L98.5,207.3L99.5,206.8L100.5,207.2L101.5,207.4L102.5,207.1L103.5,207L104.5,207L105.5,206.7L106.5,206.5L107.5,206L108.5,206.6L109.5,206.8L110.5,206.3L111.5,206.3L112.5,206.1L113.5,206.2L114.5,206.3L115.5,206.2L116.5,206.1L117.5,206.2L118.5,205.4L119.5,205.6L120.5,206.1L121.5,205.6L122.5,205.5L123.5,205.7L124.5,211.1L125.5,211.5L126.5,210.6L127.5,211L128.5,210.9L129.5,211.5L130.5,212.1L131.5,213L132.5,213L133.5,211.8L134.5,210L135.5,208.6L136.5,207.7L137.5,206.5L138.5,205.7L139.5,205.9L140.5,205.5L141.5,205.3L142.5,204.7L143.5,204.5L144.5,204.3L145.5,203.6L146.5,203.2L147.5,202.6L148.5,202.1L149.5,201.8L150.5,202L151.5,202.1" stroke="#00fb8b" stroke-width="1.7"/>
<path d="M34.2,193.8L34.6,196.7L35.4,199.2L35.5,201.4L36.5,201.9L37.5,202.3L38.5,202.4L39.5,203.1L40.5,203.7L41.5,204.1L42.5,204.4L43.5,204.4L44.5,204.2L45.5,204.1L46.5,203.8L47.5,204.1L48.5,203.4L49.5,203.9L50.5,204.6L51.5,204.6L52.5,205.7L53.5,205.3L54.5,204.6L55.5,204.6L56.5,204.9L57.5,205.4L58.5,205.1L59.5,204.8L60.5,204.9L61.5,204.8L62.5,205.5L63.5,205L64.5,204.8L65.5,204.6L66.5,204.7L67.5,204.6L68.5,204.9L69.5,204.8L70.5,204.4L71.5,205L72.5,205.1L73.5,205.3L74.5,204.7L75.5,205.6L76.5,205.4L77.5,204.7L78.5,205.4L79.5,205.4L80.5,205.6L81.5,205.7L82.5,205.6L83.5,206L84.5,206L85.5,205.9L86.5,206.3L87.5,206.4L88.5,206.3L89.5,206.3L90.5,206.2L91.5,206L92.5,206L93.5,206.4L94.5,205.8L95.5,205.6L96.5,206.2L97.5,206.4L98.5,206.2L99.5,205.9L100.5,206.3L101.5,206.1L102.5,206.3L103.5,206.2L104.5,206L105.5,206L106.5,205.2L107.5,205.4L108.5,205.4L109.5,206L110.5,205.6L111.5,205.4L112.5,205.2L113.5,205.3L114.5,205.6L115.5,205.5L116.5,204.8L117.5,205L118.5,204.9L119.5,204.7L120.5,205.4L121.5,204.9L122.5,204.9L123.5,204.4L124.5,210.2L125.5,210.4L126.5,209.7L127.5,209.8L128.5,209.9L129.5,211L130.5,211.6L131.5,212.3L132.5,212L133.5,211L134.5,209.5L135.5,207.8L136.5,207.2L137.5,205.6L138.5,205.1L139.5,204.8L140.5,204.6L141.5,204.6L142.5,204.3L143.5,203.7L144.5,203.6L145.5,203.2L146.5,202.5L147.5,201.6L148.5,201.3L149.5,201.5L150.5,201.4L151.5,201.4" stroke="#1ce736" stroke-width="1.7"/>
<path d="M34.2,193.2L34.6,195.8L35.4,198.3L35.5,200.6L36.5,200.8L37.5,201.6L38.5,201.6L39.5,202.3L40.5,202.8L41.5,203.4L42.5,203.6L43.5,203.5L44.5,203.3L45.5,203.8L46.5,203.2L47.5,203.5L48.5,202.6L49.5,203.4L50.5,203.6L51.5,203.7L52.5,204.6L53.5,204.3L54.5,203.8L55.5,203.5L56.5,204.2L57.5,204.2L58.5,204.2L59.5,203.8L60.5,203.9L61.5,203.7L62.5,204.2L63.5,204.2L64.5,204.1L65.5,204.1L66.5,203.9L67.5,204.1L68.5,204L69.5,204L70.5,203.8L71.5,204.3L72.5,204.3L73.5,204.3L74.5,204L75.5,204.7L76.5,204.4L77.5,204L78.5,204.5L79.5,204.8L80.5,204.8L81.5,205.3L82.5,205L83.5,205.3L84.5,205L85.5,204.9L86.5,205.1L87.5,205.5L88.5,205.4L89.5,205.3L90.5,205.6L91.5,204.8L92.5,204.9L93.5,205.4L94.5,204.8L95.5,204.8L96.5,205.1L97.5,205.5L98.5,205.2L99.5,205.2L100.5,205.5L101.5,205.5L102.5,205.4L103.5,205L104.5,205.2L105.5,205.1L106.5,204.6L107.5,204.3L108.5,204.7L109.5,205.1L110.5,204.7L111.5,204.5L112.5,204L113.5,204.4L114.5,204.7L115.5,204.6L116.5,204.3L117.5,204.2L118.5,203.7L119.5,204L120.5,204.5L121.5,204L122.5,203.7L123.5,203.8L124.5,209L125.5,209.3L126.5,208.7L127.5,209.1L128.5,209.2L129.5,210L130.5,210.8L131.5,211.7L132.5,211.4L133.5,209.9L134.5,208.7L135.5,206.8L136.5,205.9L137.5,204.5L138.5,204.2L139.5,204.4L140.5,203.9L141.5,203.7L142.5,203.3L143.5,203.3L144.5,202.9L145.5,202.5L146.5,201.7L147.5,200.9L148.5,200.9L149.5,200.8L150.5,201.1L151.5,200.8" stroke="#89dd06" stroke-width="1.7"/>
<path d="M34.2,192.7L34.6,195L35.4,197.5L35.5,199.7L36.5,200.3L37.5,200.9L38.5,201.1L39.5,201.8L40.5,202.2L41.5,202.5L42.5,202.8L43.5,202.8L44.5,202.6L45.5,202.8L46.5,202.4L47.5,202.3L48.5,202.1L49.5,202.2L50.5,202.8L51.5,202.5L52.5,204L53.5,203.5L54.5,203L55.5,202.9L56.5,203.4L57.5,203.8L58.5,203L59.5,203L60.5,203.1L61.5,203L62.5,203.2L63.5,203.3L64.5,203.4L65.5,203.2L66.5,203.3L67.5,202.9L68.5,203L69.5,203.1L70.5,202.9L71.5,203.6L72.5,203.2L73.5,203.6L74.5,203.1L75.5,203.7L76.5,203.7L77.5,203.4L78.5,203.5L79.5,204L80.5,203.7L81.5,204L82.5,203.7L83.5,204.4L84.5,204.4L85.5,203.9L86.5,204.4L87.5,204.4L88.5,204.6L89.5,204.6L90.5,204.7L91.5,204L92.5,204L93.5,204.4L94.5,204.2L95.5,203.9L96.5,204.3L97.5,204.5L98.5,204.7L99.5,204.2L100.5,204.4L101.5,204.4L102.5,204.6L103.5,204.1L104.5,204.1L105.5,204.1L106.5,203.8L107.5,203.6L108.5,204.1L109.5,204L110.5,203.7L111.5,203.4L112.5,203L113.5,203.6L114.5,203.8L115.5,203.8L116.5,203.1L117.5,203.7L118.5,203.2L119.5,203.4L120.5,203.3L121.5,203.1L122.5,203.2L123.5,203L124.5,208L125.5,208.2L126.5,207.9L127.5,208.3L128.5,208.2L129.5,209.1L130.5,209.6L131.5,210.5L132.5,210.8L133.5,209L134.5,208L135.5,206.3L136.5,205.3L137.5,204L138.5,203.4L139.5,203.5L140.5,203.2L141.5,202.8L142.5,202.8L143.5,202.6L144.5,202.1L145.5,201.7L146.5,201L147.5,200.1L148.5,200L149.5,200.2L150.5,200.1L151.5,200.2" stroke="#ffcf00" stroke-width="1.7"/>
<path d="M34.2,192.1L34.6,194.2L35.4,196.7L35.5,198.9L36.5,199.3L37.5,199.7L38.5,200.6L39.5,200.8L40.5,201.2L41.5,202L42.5,202.1L43.5,202.1L44.5,201.8L45.5,201.9L46.5,201.8L47.5,201.6L48.5,200.9L49.5,201.7L50.5,202.3L51.5,201.9L52.5,202.7L53.5,202.6L54.5,202.2L55.5,202.3L56.5,202.5L57.5,202.7L58.5,202.4L59.5,202.5L60.5,202.3L61.5,202.1L62.5,202.3L63.5,202.7L64.5,202.6L65.5,202.2L66.5,202.4L67.5,202.5L68.5,202.3L69.5,202.2L70.5,201.9L71.5,202.8L72.5,202.4L73.5,202.7L74.5,202.2L75.5,203L76.5,203L77.5,202.3L78.5,202.4L79.5,203.1L80.5,203.2L81.5,203.2L82.5,203.2L83.5,203.7L84.5,203.6L85.5,203.4L86.5,203.4L87.5,203.6L88.5,203.6L89.5,203.4L90.5,203.5L91.5,203.1L92.5,203.1L93.5,203.5L94.5,203.1L95.5,203.2L96.5,203.4L97.5,203.8L98.5,203.7L99.5,203.3L100.5,203.6L101.5,203.6L102.5,203.9L103.5,203.5L104.5,203.1L105.5,203L106.5,202.7L107.5,202.6L108.5,202.9L109.5,203.3L110.5,202.7L111.5,202.6L112.5,202.3L113.5,202.6L114.5,202.7L115.5,202.6L116.5,202.4L117.5,202.7L118.5,202.3L119.5,202.6L120.5,202.8L121.5,202.1L122.5,202.4L123.5,202.3L124.5,207.5L125.5,207.4L126.5,206.8L127.5,207.1L128.5,207.4L129.5,208.3L130.5,209.1L131.5,209.8L132.5,209.8L133.5,208.3L134.5,206.8L135.5,205.3L136.5,204.4L137.5,203.2L138.5,202.5L139.5,202.6L140.5,202.2L141.5,202L142.5,202L143.5,201.6L144.5,201.4L145.5,201.1L146.5,200.6L147.5,199.7L148.5,199.2L149.5,199.5L150.5,199.8L151.5,199.6" stroke="#ff7d00" stroke-width="1.7"/>
<path d="M34.2,191.6L34.6,193.3L35.4,195.8L35.5,198.1L36.5,198.7L37.5,199.3L38.5,199.7L39.5,200.3L40.5,200.6L41.5,200.9L42.5,201.4L43.5,201.2L44.5,200.9L45.5,201.6L46.5,200.8L47.5,200.9L48.5,200.4L49.5,200.7L50.5,201.2L51.5,200.9L52.5,201.9L53.5,201.6L54.5,201.2L55.5,201.2L56.5,201.4L57.5,201.8L58.5,201.6L59.5,201.3L60.5,201.8L61.5,201.5L62.5,201.5L63.5,201.7L64.5,201.5L65.5,201.3L66.5,201.6L67.5,201.6L68.5,201.4L69.5,201.3L70.5,201.2L71.5,201.5L72.5,201.4L73.5,201.6L74.5,201.3L75.5,201.8L76.5,201.9L77.5,201.3L78.5,201.6L79.5,202.2L80.5,202.2L81.5,202.4L82.5,202.1L83.5,202.8L84.5,202.8L85.5,202.5L86.5,202.7L87.5,202.8L88.5,202.8L89.5,202.4L90.5,202.9L91.5,202.2L92.5,202.2L93.5,202.8L94.5,202.2L95.5,202.3L96.5,202.4L97.5,202.8L98.5,202.7L99.5,202.3L100.5,202.6L101.5,202.8L102.5,202.5L103.5,202.3L104.5,202.3L105.5,202.3L106.5,201.8L107.5,201.7L108.5,202.3L109.5,202.2L110.5,201.9L111.5,201.8L112.5,201.8L113.5,201.7L114.5,201.8L115.5,201.7L116.5,201.6L117.5,202.1L118.5,201.4L119.5,201.6L120.5,201.7L121.5,201.5L122.5,201.6L123.5,201.5L124.5,206.2L125.5,206.6L126.5,206L127.5,206.5L128.5,206.4L129.5,207.2L130.5,208L131.5,208.9L132.5,208.8L133.5,207.4L134.5,206.4L135.5,204.5L136.5,203.8L137.5,202.2L138.5,202.1L139.5,201.9L140.5,201.8L141.5,201.2L142.5,201.2L143.5,201L144.5,200.6L145.5,200.3L146.5,199.5L147.5,199.2L148.5,198.6L149.5,198.9L150.5,199L151.5,198.9" stroke="#ff3400" stroke-width="1.7"/>
<path d="M34.6,192.5L35.4,195L35.5,197.2L36.5,197.7L37.5,198.4L38.5,198.8L39.5,199.5L40.5,200L41.5,200.4L42.5,200.8L43.5,200.4L44.5,200.2L45.5,200.6L46.5,200.1L47.5,200.1L48.5,199.5L49.5,200L50.5,200.4L51.5,200.3L52.5,200.9L53.5,200.9L54.5,200.3L55.5,200.4L56.5,200.8L57.5,201.1L58.5,200.7L59.5,200.6L60.5,200.7L61.5,200.5L62.5,200.6L63.5,200.8L64.5,200.8L65.5,200.6L66.5,200.6L67.5,200.5L68.5,200.7L69.5,200.5L70.5,200.3L71.5,200.8L72.5,200.7L73.5,200.8L74.5,200.5L75.5,201.1L76.5,201L77.5,200.5L78.5,200.8L79.5,201.1L80.5,201.2L81.5,201.5L82.5,201.3L83.5,201.7L84.5,201.6L85.5,201.4L86.5,201.7L87.5,201.9L88.5,201.9L89.5,201.7L90.5,201.8L91.5,201.5L92.5,201.6L93.5,201.9L94.5,201.5L95.5,201.3L96.5,201.6L97.5,201.8L98.5,201.8L99.5,201.6L100.5,201.7L101.5,201.8L102.5,201.9L103.5,201.6L104.5,201.4L105.5,201.4L106.5,201L107.5,200.9L108.5,201.3L109.5,201.4L110.5,201.1L111.5,200.9L112.5,200.7L113.5,200.9L114.5,201.1L115.5,201L116.5,200.8L117.5,201L118.5,200.5L119.5,200.7L120.5,201L121.5,200.7L122.5,200.6L123.5,200.4L124.5,205.3L125.5,205.6L126.5,205L127.5,205.5L128.5,205.6L129.5,206.5L130.5,207.2L131.5,208.1L132.5,208.1L133.5,206.8L134.5,205.4L135.5,203.7L136.5,203L137.5,201.5L138.5,201.1L139.5,201.1L140.5,200.9L141.5,200.6L142.5,200.4L143.5,200.3L144.5,200L145.5,199.6L146.5,199L147.5,198.3L148.5,198.1L149.5,198.1L150.5,198.4L151.5,198.3" stroke="#ff1010" stroke-width="1.3"/>
<path d="M33.8,212L34.2,176.4L34.6,192.5" stroke="#ff1a1a" stroke-width="1.0"/>
<path d="M26.9,272.9L27.7,263.5L28.9,246.3L29.9,236L31.1,225.7L32.3,217.2L33.4,213.7L33.8,212L34.2,176.4L34.6,192.5L35.4,195L35.5,197.2L36.5,197.7L37.5,198.4L38.5,198.8L39.5,199.5L40.5,200L41.5,200.4L42.5,200.8L43.5,200.4L44.5,200.2L45.5,200.6L46.5,200.1L47.5,200.1L48.5,199.5L49.5,200L50.5,200.4L51.5,200.3L52.5,200.9L53.5,200.9L54.5,200.3L55.5,200.4L56.5,200.8L57.5,201.1L58.5,200.7L59.5,200.6L60.5,200.7L61.5,200.5L62.5,200.6L63.5,200.8L64.5,200.8L65.5,200.6L66.5,200.6L67.5,200.5L68.5,200.7L69.5,200.5L70.5,200.3L71.5,200.8L72.5,200.7L73.5,200.8L74.5,200.5L75.5,201.1L76.5,201L77.5,200.5L78.5,200.8L79.5,201.1L80.5,201.2L81.5,201.5L82.5,201.3L83.5,201.7L84.5,201.6L85.5,201.4L86.5,201.7L87.5,201.9L88.5,201.9L89.5,201.7L90.5,201.8L91.5,201.5L92.5,201.6L93.5,201.9L94.5,201.5L95.5,201.3L96.5,201.6L97.5,201.8L98.5,201.8L99.5,201.6L100.5,201.7L101.5,201.8L102.5,201.9L103.5,201.6L104.5,201.4L105.5,201.4L106.5,201L107.5,200.9L108.5,201.3L109.5,201.4L110.5,201.1L111.5,200.9L112.5,200.7L113.5,200.9L114.5,201.1L115.5,201L116.5,200.8L117.5,201L118.5,200.5L119.5,200.7L120.5,201L121.5,200.7L122.5,200.6L123.5,200.4L124.5,205.3L125.5,205.6L126.5,205L127.5,205.5L128.5,205.6L129.5,206.5L130.5,207.2L131.5,208.1L132.5,208.1L133.5,206.8L134.5,205.4L135.5,203.7L136.5,203L137.5,201.5L138.5,201.1L139.5,201.1L140.5,200.9L141.5,200.6L142.5,200.4L143.5,200.3L144.5,200L145.5,199.6L146.5,199L147.5,198.3L148.5,198.1L149.5,198.1L150.5,198.4L151.5,198.3L152.5,202.1L153.6,215.4L154.3,230.8L155.3,247.9L156.5,258.1" stroke="#ff3838" stroke-width="1.0"/>
</g>
<line x1="20.4" y1="162.6" x2="20.4" y2="285.8" stroke="#262626" stroke-width="0.9"/>
<line x1="19.9" y1="285.3" x2="163.3" y2="285.3" stroke="#262626" stroke-width="0.9"/>
<line x1="18.2" y1="279.2" x2="20.4" y2="279.2" stroke="#262626" stroke-width="0.9"/>
<text x="15.8" y="281.5" font-size="6.5" text-anchor="end" fill="#000">0</text>
<line x1="18.2" y1="267" x2="20.4" y2="267" stroke="#262626" stroke-width="0.9"/>
<text x="15.8" y="269.3" font-size="6.5" text-anchor="end" fill="#000">2</text>
<line x1="18.2" y1="254.8" x2="20.4" y2="254.8" stroke="#262626" stroke-width="0.9"/>
<text x="15.8" y="257.1" font-size="6.5" text-anchor="end" fill="#000">4</text>
<line x1="18.2" y1="242.6" x2="20.4" y2="242.6" stroke="#262626" stroke-width="0.9"/>
<text x="15.8" y="244.9" font-size="6.5" text-anchor="end" fill="#000">6</text>
<line x1="18.2" y1="230.4" x2="20.4" y2="230.4" stroke="#262626" stroke-width="0.9"/>
<text x="15.8" y="232.7" font-size="6.5" text-anchor="end" fill="#000">8</text>
<line x1="18.2" y1="218.2" x2="20.4" y2="218.2" stroke="#262626" stroke-width="0.9"/>
<text x="15.8" y="220.5" font-size="6.5" text-anchor="end" fill="#000">10</text>
<line x1="18.2" y1="205.9" x2="20.4" y2="205.9" stroke="#262626" stroke-width="0.9"/>
<text x="15.8" y="208.2" font-size="6.5" text-anchor="end" fill="#000">12</text>
<line x1="18.2" y1="193.7" x2="20.4" y2="193.7" stroke="#262626" stroke-width="0.9"/>
<text x="15.8" y="196" font-size="6.5" text-anchor="end" fill="#000">14</text>
<line x1="18.2" y1="181.5" x2="20.4" y2="181.5" stroke="#262626" stroke-width="0.9"/>
<text x="15.8" y="183.8" font-size="6.5" text-anchor="end" fill="#000">16</text>
<line x1="18.2" y1="169.3" x2="20.4" y2="169.3" stroke="#262626" stroke-width="0.9"/>
<text x="15.8" y="171.6" font-size="6.5" text-anchor="end" fill="#000">18</text>
<line x1="19.2" y1="273.1" x2="20.4" y2="273.1" stroke="#262626" stroke-width="0.9"/>
<line x1="19.2" y1="260.9" x2="20.4" y2="260.9" stroke="#262626" stroke-width="0.9"/>
<line x1="19.2" y1="248.7" x2="20.4" y2="248.7" stroke="#262626" stroke-width="0.9"/>
<line x1="19.2" y1="236.5" x2="20.4" y2="236.5" stroke="#262626" stroke-width="0.9"/>
<line x1="19.2" y1="224.3" x2="20.4" y2="224.3" stroke="#262626" stroke-width="0.9"/>
<line x1="19.2" y1="212" x2="20.4" y2="212" stroke="#262626" stroke-width="0.9"/>
<line x1="19.2" y1="199.8" x2="20.4" y2="199.8" stroke="#262626" stroke-width="0.9"/>
<line x1="19.2" y1="187.6" x2="20.4" y2="187.6" stroke="#262626" stroke-width="0.9"/>
<line x1="19.2" y1="175.4" x2="20.4" y2="175.4" stroke="#262626" stroke-width="0.9"/>
<line x1="19.2" y1="163.2" x2="20.4" y2="163.2" stroke="#262626" stroke-width="0.9"/>
<line x1="26.6" y1="285.3" x2="26.6" y2="287.5" stroke="#262626" stroke-width="0.9"/>
<text x="26.6" y="294.6" font-size="6.5" text-anchor="middle" fill="#000">0</text>
<line x1="39.5" y1="285.3" x2="39.5" y2="287.5" stroke="#262626" stroke-width="0.9"/>
<text x="39.5" y="294.6" font-size="6.5" text-anchor="middle" fill="#000">4</text>
<line x1="52.5" y1="285.3" x2="52.5" y2="287.5" stroke="#262626" stroke-width="0.9"/>
<text x="52.5" y="294.6" font-size="6.5" text-anchor="middle" fill="#000">8</text>
<line x1="65.4" y1="285.3" x2="65.4" y2="287.5" stroke="#262626" stroke-width="0.9"/>
<text x="65.4" y="294.6" font-size="6.5" text-anchor="middle" fill="#000">12</text>
<line x1="78.4" y1="285.3" x2="78.4" y2="287.5" stroke="#262626" stroke-width="0.9"/>
<text x="78.4" y="294.6" font-size="6.5" text-anchor="middle" fill="#000">16</text>
<line x1="91.3" y1="285.3" x2="91.3" y2="287.5" stroke="#262626" stroke-width="0.9"/>
<text x="91.3" y="294.6" font-size="6.5" text-anchor="middle" fill="#000">20</text>
<line x1="104.3" y1="285.3" x2="104.3" y2="287.5" stroke="#262626" stroke-width="0.9"/>
<text x="104.3" y="294.6" font-size="6.5" text-anchor="middle" fill="#000">24</text>
<line x1="117.2" y1="285.3" x2="117.2" y2="287.5" stroke="#262626" stroke-width="0.9"/>
<text x="117.2" y="294.6" font-size="6.5" text-anchor="middle" fill="#000">28</text>
<line x1="130.2" y1="285.3" x2="130.2" y2="287.5" stroke="#262626" stroke-width="0.9"/>
<text x="130.2" y="294.6" font-size="6.5" text-anchor="middle" fill="#000">32</text>
<line x1="143.2" y1="285.3" x2="143.2" y2="287.5" stroke="#262626" stroke-width="0.9"/>
<text x="143.2" y="294.6" font-size="6.5" text-anchor="middle" fill="#000">36</text>
<line x1="156.1" y1="285.3" x2="156.1" y2="287.5" stroke="#262626" stroke-width="0.9"/>
<text x="156.1" y="294.6" font-size="6.5" text-anchor="middle" fill="#000">40</text>
<line x1="23.4" y1="285.3" x2="23.4" y2="286.5" stroke="#262626" stroke-width="0.9"/>
<line x1="29.8" y1="285.3" x2="29.8" y2="286.5" stroke="#262626" stroke-width="0.9"/>
<line x1="33.1" y1="285.3" x2="33.1" y2="286.5" stroke="#262626" stroke-width="0.9"/>
<line x1="36.3" y1="285.3" x2="36.3" y2="286.5" stroke="#262626" stroke-width="0.9"/>
<line x1="42.8" y1="285.3" x2="42.8" y2="286.5" stroke="#262626" stroke-width="0.9"/>
<line x1="46" y1="285.3" x2="46" y2="286.5" stroke="#262626" stroke-width="0.9"/>
<line x1="49.3" y1="285.3" x2="49.3" y2="286.5" stroke="#262626" stroke-width="0.9"/>
<line x1="55.7" y1="285.3" x2="55.7" y2="286.5" stroke="#262626" stroke-width="0.9"/>
<line x1="59" y1="285.3" x2="59" y2="286.5" stroke="#262626" stroke-width="0.9"/>
<line x1="62.2" y1="285.3" x2="62.2" y2="286.5" stroke="#262626" stroke-width="0.9"/>
<line x1="68.7" y1="285.3" x2="68.7" y2="286.5" stroke="#262626" stroke-width="0.9"/>
<line x1="71.9" y1="285.3" x2="71.9" y2="286.5" stroke="#262626" stroke-width="0.9"/>
<line x1="75.2" y1="285.3" x2="75.2" y2="286.5" stroke="#262626" stroke-width="0.9"/>
<line x1="81.6" y1="285.3" x2="81.6" y2="286.5" stroke="#262626" stroke-width="0.9"/>
<line x1="84.9" y1="285.3" x2="84.9" y2="286.5" stroke="#262626" stroke-width="0.9"/>
<line x1="88.1" y1="285.3" x2="88.1" y2="286.5" stroke="#262626" stroke-width="0.9"/>
<line x1="94.6" y1="285.3" x2="94.6" y2="286.5" stroke="#262626" stroke-width="0.9"/>
<line x1="97.8" y1="285.3" x2="97.8" y2="286.5" stroke="#262626" stroke-width="0.9"/>
<line x1="101.1" y1="285.3" x2="101.1" y2="286.5" stroke="#262626" stroke-width="0.9"/>
<line x1="107.5" y1="285.3" x2="107.5" y2="286.5" stroke="#262626" stroke-width="0.9"/>
<line x1="110.8" y1="285.3" x2="110.8" y2="286.5" stroke="#262626" stroke-width="0.9"/>
<line x1="114" y1="285.3" x2="114" y2="286.5" stroke="#262626" stroke-width="0.9"/>
<line x1="120.5" y1="285.3" x2="120.5" y2="286.5" stroke="#262626" stroke-width="0.9"/>
<line x1="123.7" y1="285.3" x2="123.7" y2="286.5" stroke="#262626" stroke-width="0.9"/>
<line x1="127" y1="285.3" x2="127" y2="286.5" stroke="#262626" stroke-width="0.9"/>
<line x1="133.4" y1="285.3" x2="133.4" y2="286.5" stroke="#262626" stroke-width="0.9"/>
<line x1="136.7" y1="285.3" x2="136.7" y2="286.5" stroke="#262626" stroke-width="0.9"/>
<line x1="139.9" y1="285.3" x2="139.9" y2="286.5" stroke="#262626" stroke-width="0.9"/>
<line x1="146.4" y1="285.3" x2="146.4" y2="286.5" stroke="#262626" stroke-width="0.9"/>
<line x1="149.6" y1="285.3" x2="149.6" y2="286.5" stroke="#262626" stroke-width="0.9"/>
<line x1="152.9" y1="285.3" x2="152.9" y2="286.5" stroke="#262626" stroke-width="0.9"/>
<line x1="159.3" y1="285.3" x2="159.3" y2="286.5" stroke="#262626" stroke-width="0.9"/>
<line x1="162.6" y1="285.3" x2="162.6" y2="286.5" stroke="#262626" stroke-width="0.9"/>
<text x="91.9" y="305.7" font-size="6.8" text-anchor="middle" fill="#000">Height (mm)</text>
<text x="4.8" y="222.4" font-size="6.6" text-anchor="middle" fill="#000" transform="rotate(-90 4.8 222.4)">BS (%)</text>
<text x="0.5" y="164.7" font-size="9.6" text-anchor="start" fill="#000" style="stroke-width:0.35px">D</text>
<rect x="163.3" y="162.6" width="8.5" height="122.7" fill="url(#cbg)"/>
<text x="174.1" y="169.1" font-size="6.8" text-anchor="start" fill="#000">00h:00m:00s</text>
<text x="174.1" y="178.9" font-size="6.8" text-anchor="start" fill="#000">02h:00m:00s</text>
<text x="174.1" y="188.6" font-size="6.8" text-anchor="start" fill="#000">04h:00m:00s</text>
<text x="174.1" y="198.3" font-size="6.8" text-anchor="start" fill="#000">06h:00m:00s</text>
<text x="174.1" y="208.1" font-size="6.8" text-anchor="start" fill="#000">08h:00m:00s</text>
<text x="174.1" y="217.8" font-size="6.8" text-anchor="start" fill="#000">10h:00m:00s</text>
<text x="174.1" y="227.5" font-size="6.8" text-anchor="start" fill="#000">12h:00m:00s</text>
<text x="174.1" y="237.3" font-size="6.8" text-anchor="start" fill="#000">14h:00m:00s</text>
<text x="174.1" y="247" font-size="6.8" text-anchor="start" fill="#000">16h:00m:00s</text>
<text x="174.1" y="256.7" font-size="6.8" text-anchor="start" fill="#000">18h:00m:00s</text>
<text x="174.1" y="266.4" font-size="6.8" text-anchor="start" fill="#000">20h:00m:00s</text>
<text x="174.1" y="276.2" font-size="6.8" text-anchor="start" fill="#000">22h:00m:00s</text>
<text x="174.1" y="285.9" font-size="6.8" text-anchor="start" fill="#000">24h:00m:00s</text>
<g fill="none" stroke-linejoin="round" stroke-linecap="round">
<path d="M272.2,200.4L273.4,207.9L273.6,210.1L274.6,210.5L275.6,209.7L276.6,209.7L277.6,210L278.6,209.8L279.6,210.2L280.6,210.2L281.6,209.7L282.6,209.7L283.6,210.4L284.6,209.9L285.6,210.5L286.6,209.5L287.6,209.9L288.6,210.2L289.6,210.3L290.6,210.7L291.6,210.8L292.6,210.2L293.6,210.5L294.6,210.9L295.6,211.3L296.6,211.2L297.6,212L298.6,213.5L299.6,211.9L300.6,210.2L301.6,209.9L302.6,210.1L303.6,209.7L304.6,209.8L305.6,209.9L306.6,210.1L307.6,210.2L308.6,209.8L309.6,210.8L310.6,210.9L311.6,211.2L312.6,211L313.6,212.4L314.6,213.3L315.6,214.3L316.6,215.5L317.6,214.2L318.6,212.7L319.6,211.7L320.6,211.3L321.6,211.7L322.6,211.5L323.6,210.9L324.6,211.1L325.6,211.1L326.6,211L327.6,210.8L328.6,210.6L329.6,210.4L330.6,210.4L331.6,210.7L332.6,210.1L333.6,209.9L334.6,210L335.6,210.5L336.6,211L337.6,211L338.6,211L339.6,210.7L340.6,211.2L341.6,211.1L342.6,211L343.6,211.1L344.6,210.4L345.6,210.5L346.6,211.3L347.6,211.4L348.6,211.2L349.6,210.9L350.6,211L351.6,210.8L352.6,211.6L353.6,211.4L354.6,211L355.6,211.1L356.6,210.9L357.6,211.2L358.6,211.3L359.6,210.9L360.6,210.9L361.6,211.1L362.6,210.8L363.6,211.5L364.6,210.4L365.6,210.8L366.6,210.8L367.6,211.2L368.6,210.9L369.6,210.6L370.6,210.2L371.6,210.5L372.6,210.4L373.6,209.7L374.6,210.5L375.6,210.2L376.6,209.4L377.6,209.4L378.6,209.3L379.6,208.6L380.6,208.2L381.6,208L382.6,207.4L383.6,206.8L384.6,206.1L385.6,205.6L386.6,204.9L387.6,204.6" stroke="#8c00ff" stroke-width="1.95"/>
<path d="M387.6,204.6L389.1,206.3L390.4,218.5L391.4,233.9L391.9,241.6L392.5,254.7" stroke="#8c00ff" stroke-width="0.3"/>
<path d="M272.2,199.5L273.4,206.8L273.6,209L274.6,209.5L275.6,208.8L276.6,208.2L277.6,208.6L278.6,208.6L279.6,208.9L280.6,209.1L281.6,208.7L282.6,208.7L283.6,209.3L284.6,209.1L285.6,209.3L286.6,208.8L287.6,209L288.6,209.4L289.6,209.1L290.6,209.5L291.6,209.8L292.6,209.2L293.6,209.5L294.6,210L295.6,210.3L296.6,210.1L297.6,210.9L298.6,212.4L299.6,210.4L300.6,208.8L301.6,209L302.6,209L303.6,208.7L304.6,208.9L305.6,208.8L306.6,209.2L307.6,209.3L308.6,209.1L309.6,209.8L310.6,210.1L311.6,210.4L312.6,210L313.6,211.2L314.6,212.5L315.6,213.1L316.6,214.7L317.6,213.2L318.6,211.9L319.6,211.1L320.6,210.2L321.6,210.6L322.6,210.2L323.6,210L324.6,210.1L325.6,210.3L326.6,210L327.6,209.5L328.6,209.7L329.6,209L330.6,209.3L331.6,209.5L332.6,209.1L333.6,208.9L334.6,209L335.6,209.6L336.6,209.5L337.6,209.5L338.6,209.6L339.6,209.6L340.6,210.1L341.6,209.9L342.6,209.8L343.6,210L344.6,209.5L345.6,209.3L346.6,209.8L347.6,210.2L348.6,210L349.6,210L350.6,209.7L351.6,209.8L352.6,210.3L353.6,210.3L354.6,209.9L355.6,210.4L356.6,210L357.6,210L358.6,210.3L359.6,209.8L360.6,209.7L361.6,209.5L362.6,210L363.6,210.2L364.6,209.7L365.6,209.9L366.6,210.1L367.6,209.8L368.6,209.5L369.6,209.4L370.6,209.2L371.6,209.3L372.6,209.4L373.6,208.7L374.6,209.2L375.6,209L376.6,208.3L377.6,208.3L378.6,207.8L379.6,207.8L380.6,207.4L381.6,206.9L382.6,206.5L383.6,205.7L384.6,204.9L385.6,204.2L386.6,204.2L387.6,203.4" stroke="#6d03ff" stroke-width="1.95"/>
<path d="M387.6,203.4L389.1,205.3L390.4,217.5L391.4,232.9L391.9,240.6L392.6,254.7" stroke="#6d03ff" stroke-width="0.3"/>
<path d="M272.2,198.7L273.4,205.7L273.6,207.9L274.6,208.1L275.6,207.6L276.6,207.2L277.6,207.6L278.6,208L279.6,208.2L280.6,208.4L281.6,207.9L282.6,207.6L283.6,208.4L284.6,207.8L285.6,208.2L286.6,207.4L287.6,208.2L288.6,208.1L289.6,208.1L290.6,208.7L291.6,208.8L292.6,208.3L293.6,208.2L294.6,209L295.6,209.5L296.6,209.2L297.6,210.1L298.6,211.4L299.6,209.2L300.6,208L301.6,207.5L302.6,207.9L303.6,207.6L304.6,207.9L305.6,207.6L306.6,208.3L307.6,207.8L308.6,207.7L309.6,208.5L310.6,208.6L311.6,209.4L312.6,209.3L313.6,210.4L314.6,211.3L315.6,212.3L316.6,213.8L317.6,212.4L318.6,210.6L319.6,210.1L320.6,209.4L321.6,209.6L322.6,209.1L323.6,208.8L324.6,209L325.6,209L326.6,208.8L327.6,208.7L328.6,208.4L329.6,208.2L330.6,207.9L331.6,208.5L332.6,208.2L333.6,207.6L334.6,208.2L335.6,208.3L336.6,208.6L337.6,208.6L338.6,208.4L339.6,208.9L340.6,208.8L341.6,208.5L342.6,208.6L343.6,208.5L344.6,208.2L345.6,208.5L346.6,208.7L347.6,209.1L348.6,209L349.6,208.7L350.6,208.7L351.6,208.9L352.6,209L353.6,208.8L354.6,209L355.6,209.2L356.6,208.8L357.6,208.9L358.6,209.2L359.6,209.1L360.6,208.9L361.6,208.8L362.6,209L363.6,208.8L364.6,208.4L365.6,208.8L366.6,208.5L367.6,208.6L368.6,208.6L369.6,208.5L370.6,208.3L371.6,208.1L372.6,208.1L373.6,207.9L374.6,208.5L375.6,207.8L376.6,207.4L377.6,207L378.6,206.7L379.6,206.6L380.6,206.3L381.6,205.5L382.6,205.1L383.6,204.7L384.6,204L385.6,203.1L386.6,202.7L387.6,202.4" stroke="#3b1fff" stroke-width="1.95"/>
<path d="M387.6,202.4L389.1,204.2L390.4,216.4L391.4,231.8L391.9,239.5L392.6,254.7" stroke="#3b1fff" stroke-width="0.3"/>
<path d="M272.2,197.8L273.4,204.6L273.6,206.8L274.6,207.3L275.6,206.6L276.6,206.5L277.6,206.4L278.6,206.6L279.6,207.1L280.6,207L281.6,206.6L282.6,206.5L283.6,207.1L284.6,207.1L285.6,206.9L286.6,206.7L287.6,207.1L288.6,207.1L289.6,207.1L290.6,207.5L291.6,207.8L292.6,207.2L293.6,207.2L294.6,208L295.6,208.4L296.6,208L297.6,208.7L298.6,209.9L299.6,208.2L300.6,207.1L301.6,206.8L302.6,206.5L303.6,206.8L304.6,206.8L305.6,206.5L306.6,206.8L307.6,206.9L308.6,207L309.6,207.8L310.6,207.6L311.6,208.1L312.6,208.3L313.6,209L314.6,210.2L315.6,211.1L316.6,212.7L317.6,211.5L318.6,209.8L319.6,208.5L320.6,208.1L321.6,208.2L322.6,208.2L323.6,207.7L324.6,208L325.6,207.9L326.6,207.8L327.6,207.5L328.6,207.2L329.6,207.2L330.6,207.2L331.6,207.5L332.6,207.2L333.6,206.6L334.6,206.7L335.6,207.2L336.6,207.6L337.6,207.3L338.6,207.7L339.6,207.8L340.6,207.9L341.6,207.6L342.6,207.3L343.6,207.7L344.6,207.1L345.6,207.3L346.6,207.9L347.6,208L348.6,207.6L349.6,207.8L350.6,207.3L351.6,207.6L352.6,208L353.6,208L354.6,207.5L355.6,208L356.6,207.5L357.6,207.9L358.6,208L359.6,207.8L360.6,207.9L361.6,207.3L362.6,207.8L363.6,207.9L364.6,207.1L365.6,207.5L366.6,207.5L367.6,207.8L368.6,207.3L369.6,207.6L370.6,207.1L371.6,207L372.6,207.1L373.6,206.7L374.6,207.3L375.6,206.5L376.6,206.3L377.6,205.9L378.6,205.7L379.6,205.4L380.6,205L381.6,204.5L382.6,204.2L383.6,203.7L384.6,203L385.6,202.2L386.6,202L387.6,201.2" stroke="#2352ff" stroke-width="1.95"/>
<path d="M387.6,201.2L389.1,203.2L390.4,215.4L391.4,230.8L391.9,238.5L392.7,254.7" stroke="#2352ff" stroke-width="0.3"/>
<path d="M272.2,196.9L273.4,203.5L273.6,205.7L274.6,206.3L275.6,205.4L276.6,205.2L277.6,205.8L278.6,205.5L279.6,205.9L280.6,206L281.6,205.9L282.6,205.8L283.6,205.9L284.6,205.9L285.6,205.9L286.6,205.3L287.6,205.7L288.6,206.3L289.6,205.9L290.6,206.4L291.6,206.6L292.6,205.9L293.6,206.1L294.6,206.5L295.6,207.4L296.6,206.9L297.6,207.7L298.6,208.7L299.6,207.1L300.6,205.8L301.6,205.4L302.6,205.7L303.6,205.7L304.6,205.4L305.6,205.5L306.6,205.7L307.6,205.9L308.6,205.6L309.6,206.6L310.6,206.5L311.6,207L312.6,206.9L313.6,208.2L314.6,209.5L315.6,210.4L316.6,211.6L317.6,210.4L318.6,208.8L319.6,207.6L320.6,207.4L321.6,207.6L322.6,206.9L323.6,206.8L324.6,206.8L325.6,206.8L326.6,206.7L327.6,206.2L328.6,206.5L329.6,206L330.6,205.8L331.6,206.5L332.6,206L333.6,205.5L334.6,205.6L335.6,206L336.6,206.4L337.6,206.5L338.6,206.6L339.6,206.7L340.6,206.5L341.6,206.3L342.6,206.2L343.6,206.4L344.6,206.1L345.6,206.1L346.6,206.8L347.6,206.9L348.6,206.7L349.6,206.6L350.6,206.4L351.6,206.6L352.6,206.8L353.6,206.8L354.6,206.6L355.6,206.9L356.6,206.6L357.6,206.7L358.6,206.8L359.6,206.7L360.6,206.5L361.6,206.2L362.6,206.4L363.6,206.8L364.6,206.3L365.6,206.6L366.6,206.3L367.6,206.7L368.6,206.4L369.6,206.4L370.6,205.8L371.6,205.9L372.6,205.8L373.6,205.5L374.6,205.8L375.6,205.7L376.6,205.1L377.6,205.1L378.6,204.8L379.6,204.4L380.6,203.8L381.6,203.7L382.6,203.3L383.6,202.7L384.6,202.1L385.6,201L386.6,200.7L387.6,200.1" stroke="#1693ff" stroke-width="1.95"/>
<path d="M387.6,200.1L389.1,202.1L390.4,214.3L391.4,229.7L391.9,237.4L392.7,254.5L392.7,254.7" stroke="#1693ff" stroke-width="0.3"/>
<path d="M272.2,196.1L273.4,202.4L273.6,204.6L274.6,205.1L275.6,204.8L276.6,204.5L277.6,204.6L278.6,204.8L279.6,205.1L280.6,204.9L281.6,204.4L282.6,204.7L283.6,205.3L284.6,204.9L285.6,205.1L286.6,204.4L287.6,205L288.6,205L289.6,204.6L290.6,205.6L291.6,205.3L292.6,205.1L293.6,205.2L294.6,205.5L295.6,206.1L296.6,205.8L297.6,206.6L298.6,207.6L299.6,205.9L300.6,204.6L301.6,204.4L302.6,204.5L303.6,204.5L304.6,204.8L305.6,204.5L306.6,204.7L307.6,204.9L308.6,204.7L309.6,205.6L310.6,205.7L311.6,206L312.6,206.1L313.6,206.8L314.6,208.4L315.6,208.9L316.6,210.5L317.6,209.2L318.6,207.5L319.6,206.4L320.6,206.1L321.6,206.1L322.6,205.9L323.6,205.5L324.6,205.6L325.6,205.5L326.6,205.6L327.6,205.4L328.6,205.4L329.6,204.6L330.6,204.7L331.6,205.1L332.6,204.9L333.6,204.7L334.6,204.8L335.6,205.1L336.6,205.5L337.6,205.5L338.6,205.5L339.6,205.2L340.6,205.7L341.6,205.2L342.6,205.5L343.6,205.5L344.6,205.3L345.6,205L346.6,205.6L347.6,205.6L348.6,205.7L349.6,205.2L350.6,204.9L351.6,205.3L352.6,205.9L353.6,205.6L354.6,205.6L355.6,205.8L356.6,205.4L357.6,205.7L358.6,205.6L359.6,205.3L360.6,205.3L361.6,205.1L362.6,205.5L363.6,205.8L364.6,204.8L365.6,205.4L366.6,205.3L367.6,205.1L368.6,205.1L369.6,205.1L370.6,205L371.6,205.1L372.6,204.5L373.6,204.4L374.6,204.9L375.6,204.6L376.6,203.8L377.6,204.2L378.6,203.6L379.6,203.4L380.6,202.9L381.6,202.5L382.6,202.2L383.6,201.5L384.6,200.8L385.6,200.3L386.6,199.6L387.6,199.5" stroke="#00e6fc" stroke-width="1.95"/>
<path d="M387.6,199.5L389.1,201.1L390.4,213.3L391.4,228.7L391.9,236.4L392.7,253.5L392.8,254.7" stroke="#00e6fc" stroke-width="0.3"/>
<path d="M272.2,195.2L273.4,201.3L273.6,203.4L274.6,203.9L275.6,203.4L276.6,203.5L277.6,203.7L278.6,203.6L279.6,204L280.6,203.9L281.6,203.5L282.6,203.5L283.6,204.3L284.6,203.7L285.6,204.2L286.6,203.4L287.6,203.9L288.6,204.2L289.6,203.6L290.6,204.6L291.6,204.5L292.6,203.8L293.6,203.9L294.6,204.8L295.6,205.1L296.6,205.1L297.6,205.5L298.6,206.3L299.6,204.8L300.6,203.8L301.6,203.6L302.6,203.4L303.6,203.4L304.6,203.3L305.6,203.3L306.6,203.6L307.6,203.7L308.6,203.7L309.6,204.6L310.6,204.7L311.6,205.1L312.6,204.7L313.6,206.1L314.6,207.1L315.6,208L316.6,209.6L317.6,208.4L318.6,206.4L319.6,205.3L320.6,205L321.6,205.2L322.6,205L323.6,204.3L324.6,204.4L325.6,204.4L326.6,204.4L327.6,204.1L328.6,204L329.6,203.7L330.6,203.9L331.6,204.1L332.6,203.8L333.6,203.4L334.6,203.9L335.6,203.8L336.6,203.9L337.6,203.9L338.6,204.2L339.6,204.2L340.6,204.3L341.6,204L342.6,204.3L343.6,204L344.6,204L345.6,204.2L346.6,204.3L347.6,204.7L348.6,204.6L349.6,204.2L350.6,204.3L351.6,204.1L352.6,204.7L353.6,204.6L354.6,204.3L355.6,204.7L356.6,204.4L357.6,204.5L358.6,204.6L359.6,204.5L360.6,204.5L361.6,204.2L362.6,204.1L363.6,204.4L364.6,203.9L365.6,204.1L366.6,204.1L367.6,204.5L368.6,204.1L369.6,204.3L370.6,204L371.6,203.9L372.6,203.6L373.6,203.2L374.6,203.6L375.6,203.3L376.6,202.9L377.6,202.9L378.6,202.4L379.6,202.2L380.6,201.8L381.6,201.6L382.6,200.9L383.6,200.6L384.6,199.9L385.6,199.3L386.6,198.6L387.6,198.1" stroke="#00fb8b" stroke-width="1.95"/>
<path d="M387.6,198.1L389.1,200.1L390.4,212.2L391.4,227.7L391.9,235.3L392.7,252.4L392.9,254.7" stroke="#00fb8b" stroke-width="0.3"/>
<path d="M272.2,194.3L273.4,200.2L273.6,202.3L274.6,202.7L275.6,202.4L276.6,202.2L277.6,202.7L278.6,202.6L279.6,202.7L280.6,202.8L281.6,202.6L282.6,202.4L283.6,202.8L284.6,202.6L285.6,203L286.6,202.4L287.6,202.6L288.6,203.2L289.6,203L290.6,203.1L291.6,203.3L292.6,202.9L293.6,202.9L294.6,203.4L295.6,204.1L296.6,204L297.6,204.2L298.6,205.3L299.6,203.7L300.6,202.7L301.6,202.3L302.6,202.6L303.6,202.5L304.6,202.4L305.6,202.5L306.6,202.9L307.6,202.9L308.6,202.7L309.6,203.2L310.6,203.3L311.6,203.7L312.6,203.6L313.6,204.8L314.6,206.1L315.6,206.8L316.6,208.3L317.6,207.2L318.6,205.6L319.6,204.3L320.6,204.1L321.6,204.1L322.6,203.6L323.6,203.6L324.6,203.3L325.6,203.5L326.6,203.1L327.6,202.9L328.6,202.9L329.6,202.5L330.6,202.6L331.6,203.2L332.6,202.7L333.6,202.3L334.6,202.7L335.6,202.8L336.6,203.1L337.6,203L338.6,203.2L339.6,202.9L340.6,203.2L341.6,203.3L342.6,203.2L343.6,203.1L344.6,202.6L345.6,202.9L346.6,203.1L347.6,203.5L348.6,203.4L349.6,203.3L350.6,203.1L351.6,203L352.6,203.6L353.6,203.2L354.6,203.5L355.6,203.6L356.6,203.2L357.6,203.4L358.6,203.7L359.6,203.4L360.6,203.4L361.6,202.8L362.6,203L363.6,203.5L364.6,202.5L365.6,203.4L366.6,203.1L367.6,203.3L368.6,202.8L369.6,203L370.6,202.8L371.6,202.8L372.6,202.4L373.6,202.1L374.6,202.9L375.6,202.5L376.6,201.8L377.6,201.5L378.6,201.6L379.6,201.3L380.6,200.8L381.6,200.6L382.6,200L383.6,199.5L384.6,198.6L385.6,197.9L386.6,197.9L387.6,197.4" stroke="#1ce736" stroke-width="1.95"/>
<path d="M387.6,197.4L389.1,199L390.4,211.2L391.4,226.6L391.9,234.3L392.7,251.4L393,254.7" stroke="#1ce736" stroke-width="0.3"/>
<path d="M272.2,193.5L273.4,199L273.6,201.2L274.6,201.4L275.6,201.5L276.6,201.2L277.6,201.5L278.6,201.4L279.6,201.7L280.6,202.2L281.6,201.3L282.6,201.2L283.6,202.1L284.6,201.4L285.6,201.8L286.6,201.3L287.6,201.7L288.6,201.8L289.6,201.7L290.6,202.4L291.6,202.5L292.6,201.8L293.6,202.2L294.6,202.5L295.6,203.1L296.6,202.7L297.6,203.2L298.6,203.7L299.6,202.6L300.6,201.7L301.6,201L302.6,201.5L303.6,201.1L304.6,201.5L305.6,201.2L306.6,201.5L307.6,201.5L308.6,201.4L309.6,202.4L310.6,202.3L311.6,202.9L312.6,202.7L313.6,203.9L314.6,205L315.6,206L316.6,207.5L317.6,206L318.6,204.5L319.6,203.5L320.6,202.9L321.6,203.1L322.6,202.6L323.6,202.3L324.6,202.6L325.6,202.5L326.6,202.2L327.6,202.2L328.6,202.1L329.6,201.6L330.6,201.3L331.6,201.8L332.6,201.5L333.6,201.3L334.6,201.3L335.6,201.7L336.6,202.1L337.6,201.7L338.6,201.8L339.6,202.1L340.6,202L341.6,202L342.6,201.8L343.6,202.2L344.6,201.6L345.6,201.7L346.6,202.4L347.6,202.5L348.6,202.1L349.6,201.8L350.6,202.1L351.6,202.2L352.6,202.5L353.6,202.1L354.6,202L355.6,202.5L356.6,202.1L357.6,202.3L358.6,202.3L359.6,202.3L360.6,202.2L361.6,202.1L362.6,202.2L363.6,202.1L364.6,201.4L365.6,202L366.6,202.2L367.6,202L368.6,201.7L369.6,201.9L370.6,201.5L371.6,201.6L372.6,201.6L373.6,201.1L374.6,201.7L375.6,201.3L376.6,201L377.6,200.9L378.6,200.4L379.6,199.9L380.6,199.8L381.6,199.1L382.6,198.6L383.6,198.1L384.6,197.7L385.6,197.1L386.6,196.6L387.6,196.3" stroke="#89dd06" stroke-width="1.95"/>
<path d="M387.6,196.3L389.1,198L390.4,210.2L391.4,225.6L391.9,233.3L392.7,250.4L393.1,254.7" stroke="#89dd06" stroke-width="0.3"/>
<path d="M272.2,192.6L273.4,197.9L273.6,200.1L274.6,200.6L275.6,200.5L276.6,200.1L277.6,200.5L278.6,200.4L279.6,200.6L280.6,201.1L281.6,200.6L282.6,200.5L283.6,201L284.6,200.7L285.6,200.8L286.6,200.3L287.6,200.7L288.6,200.8L289.6,200.4L290.6,201.4L291.6,201.5L292.6,200.7L293.6,200.8L294.6,201.2L295.6,202.1L296.6,201.4L297.6,201.9L298.6,202.3L299.6,201.5L300.6,200.6L301.6,200.3L302.6,200.3L303.6,200.3L304.6,200.5L305.6,200.1L306.6,200.5L307.6,200.4L308.6,200.4L309.6,201L310.6,201.4L311.6,201.7L312.6,201.8L313.6,202.9L314.6,203.8L315.6,204.7L316.6,206.4L317.6,205L318.6,203.4L319.6,202.3L320.6,202L321.6,202L322.6,201.7L323.6,201.3L324.6,201.5L325.6,201.5L326.6,201.4L327.6,200.7L328.6,200.6L329.6,200.1L330.6,200.5L331.6,200.9L332.6,200.2L333.6,200.2L334.6,200.2L335.6,200.7L336.6,201.1L337.6,201L338.6,200.8L339.6,200.7L340.6,201L341.6,201L342.6,200.8L343.6,200.9L344.6,200.6L345.6,200.8L346.6,201L347.6,201.2L348.6,200.9L349.6,200.9L350.6,200.6L351.6,201L352.6,201.3L353.6,201.3L354.6,201L355.6,201.4L356.6,200.7L357.6,201L358.6,201.2L359.6,200.8L360.6,201.1L361.6,200.9L362.6,201.2L363.6,201L364.6,200.7L365.6,201.1L366.6,201.1L367.6,200.8L368.6,200.7L369.6,200.9L370.6,200.6L371.6,200.3L372.6,200.1L373.6,200.3L374.6,200.7L375.6,200.1L376.6,199.6L377.6,199.4L378.6,199.2L379.6,199.2L380.6,198.4L381.6,198.4L382.6,197.9L383.6,197.2L384.6,196.8L385.6,195.9L386.6,195.6L387.6,195.1" stroke="#ffcf00" stroke-width="1.95"/>
<path d="M387.6,195.1L389.1,196.9L390.4,209.1L391.4,224.5L391.9,232.2L392.7,249.3L393.1,254.7" stroke="#ffcf00" stroke-width="0.3"/>
<path d="M272.2,191.7L273.4,196.8L273.6,199L274.6,199.4L275.6,199.5L276.6,199.2L277.6,199.3L278.6,199.4L279.6,199.6L280.6,199.7L281.6,199.3L282.6,199.5L283.6,199.7L284.6,199.4L285.6,199.5L286.6,199.4L287.6,199.4L288.6,199.7L289.6,199.7L290.6,200L291.6,200.4L292.6,199.8L293.6,199.6L294.6,200.5L295.6,200.7L296.6,200.4L297.6,200.9L298.6,201.5L299.6,200.1L300.6,199.3L301.6,199.1L302.6,199.4L303.6,199.4L304.6,199.3L305.6,199.2L306.6,199.5L307.6,199.7L308.6,199.3L309.6,200.1L310.6,200.1L311.6,200.9L312.6,200.7L313.6,201.5L314.6,203.1L315.6,204.1L316.6,205.3L317.6,203.9L318.6,202.1L319.6,201.5L320.6,200.7L321.6,201.1L322.6,200.5L323.6,200.3L324.6,200.4L325.6,200.3L326.6,199.9L327.6,199.9L328.6,200L329.6,199.2L330.6,199.5L331.6,199.9L332.6,199.5L333.6,199.2L334.6,199.2L335.6,199.5L336.6,199.6L337.6,199.6L338.6,199.7L339.6,199.7L340.6,199.8L341.6,199.7L342.6,199.6L343.6,199.9L344.6,199.4L345.6,199.7L346.6,200.1L347.6,200L348.6,200L349.6,199.8L350.6,199.8L351.6,199.9L352.6,200.1L353.6,199.9L354.6,199.8L355.6,200L356.6,199.5L357.6,200L358.6,200.1L359.6,199.9L360.6,199.8L361.6,199.7L362.6,199.7L363.6,200L364.6,199.3L365.6,199.9L366.6,199.9L367.6,200L368.6,199.8L369.6,199.4L370.6,199.5L371.6,199.6L372.6,199.5L373.6,198.8L374.6,199.5L375.6,198.9L376.6,198.6L377.6,198.6L378.6,198.4L379.6,197.9L380.6,197.5L381.6,197L382.6,196.5L383.6,196.1L384.6,195.4L385.6,194.9L386.6,194.4L387.6,194" stroke="#ff7d00" stroke-width="1.95"/>
<path d="M387.6,194L389.1,195.9L390.4,208.1L391.4,223.5L391.9,231.2L392.7,248.3L393.2,254.7" stroke="#ff7d00" stroke-width="0.3"/>
<path d="M272.2,190.9L273.4,195.7L273.6,197.9L274.6,198.1L275.6,198.2L276.6,198.2L277.6,198.1L278.6,198.4L279.6,198.7L280.6,199.1L281.6,198.4L282.6,198L283.6,198.9L284.6,198.7L285.6,198.9L286.6,198.3L287.6,198.6L288.6,198.9L289.6,198.5L290.6,198.9L291.6,199L292.6,198.6L293.6,198.7L294.6,199.5L295.6,199.7L296.6,199.5L297.6,199.8L298.6,200L299.6,199L300.6,198.2L301.6,198L302.6,198L303.6,198.1L304.6,198.1L305.6,198.1L306.6,198.3L307.6,198.5L308.6,198.2L309.6,199.3L310.6,199.4L311.6,199.5L312.6,199.6L313.6,200.5L314.6,201.8L315.6,203L316.6,204.6L317.6,202.8L318.6,201.1L319.6,200.3L320.6,199.5L321.6,199.7L322.6,199.5L323.6,199.1L324.6,199L325.6,199.2L326.6,198.9L327.6,198.6L328.6,198.8L329.6,198.2L330.6,198.2L331.6,198.5L332.6,198.4L333.6,198.2L334.6,198.3L335.6,198.6L336.6,198.6L337.6,198.6L338.6,198.5L339.6,198.9L340.6,198.7L341.6,198.5L342.6,198.7L343.6,198.5L344.6,198.5L345.6,198.3L346.6,199L347.6,199.1L348.6,198.6L349.6,198.6L350.6,198.6L351.6,198.5L352.6,198.9L353.6,198.8L354.6,198.8L355.6,198.9L356.6,198.5L357.6,198.8L358.6,198.9L359.6,198.7L360.6,198.7L361.6,198.8L362.6,198.7L363.6,198.8L364.6,198.1L365.6,198.8L366.6,199L367.6,198.8L368.6,198.6L369.6,198.4L370.6,198.2L371.6,198.5L372.6,198.4L373.6,197.8L374.6,198.4L375.6,198.1L376.6,197.6L377.6,197.3L378.6,197L379.6,196.7L380.6,196.4L381.6,195.9L382.6,195.4L383.6,195.3L384.6,194.5L385.6,193.8L386.6,193.4L387.6,193.2" stroke="#ff3400" stroke-width="1.95"/>
<path d="M387.6,193.2L389.1,194.8L390.4,207L391.4,222.4L391.9,230.1L392.7,247.2L393.3,254.7" stroke="#ff3400" stroke-width="0.3"/>
<path d="M273.4,194.6L273.6,196.7L274.6,197.2L275.6,197.2L276.6,197L277.6,197.2L278.6,197.3L279.6,197.6L280.6,197.8L281.6,197.3L282.6,197.2L283.6,197.7L284.6,197.4L285.6,197.6L286.6,197.1L287.6,197.4L288.6,197.7L289.6,197.4L290.6,198L291.6,198.1L292.6,197.6L293.6,197.7L294.6,198.2L295.6,198.7L296.6,198.5L297.6,198.5L298.6,198.8L299.6,197.9L300.6,197.3L301.6,197L302.6,197.1L303.6,197L304.6,197.1L305.6,197.1L306.6,197.4L307.6,197.4L308.6,197.2L309.6,198L310.6,198.1L311.6,198.5L312.6,198.4L313.6,199.5L314.6,200.9L315.6,201.8L316.6,203.4L317.6,201.9L318.6,200.1L319.6,199.1L320.6,198.6L321.6,198.7L322.6,198.4L323.6,198L324.6,198L325.6,198.1L326.6,197.9L327.6,197.5L328.6,197.5L329.6,197.1L330.6,197.1L331.6,197.4L332.6,197.1L333.6,196.8L334.6,197L335.6,197.3L336.6,197.5L337.6,197.5L338.6,197.6L339.6,197.6L340.6,197.8L341.6,197.6L342.6,197.5L343.6,197.6L344.6,197.3L345.6,197.3L346.6,197.7L347.6,197.9L348.6,197.7L349.6,197.5L350.6,197.4L351.6,197.6L352.6,197.9L353.6,197.8L354.6,197.6L355.6,197.9L356.6,197.4L357.6,197.6L358.6,197.9L359.6,197.7L360.6,197.6L361.6,197.4L362.6,197.6L363.6,197.8L364.6,197.1L365.6,197.6L366.6,197.6L367.6,197.6L368.6,197.5L369.6,197.5L370.6,197.2L371.6,197.2L372.6,197.1L373.6,196.8L374.6,197.3L375.6,196.9L376.6,196.4L377.6,196.3L378.6,196.1L379.6,195.7L380.6,195.3L381.6,195L382.6,194.5L383.6,194L384.6,193.5L385.6,192.7L386.6,192.4L387.6,192" stroke="#ff1010" stroke-width="1.3"/>
<path d="M271.3,205L271.9,176.4L272.4,189L273.4,194.5" stroke="#ff1a1a" stroke-width="1.0"/>
<path d="M262.2,273.4L263.6,260L265,242.9L265.6,234.3L266.7,229.2L268.7,218.9L270.8,210.3L271.3,205L271.9,176.4L272.4,189L273.4,194.5L273.6,196.7L274.6,197.2L275.6,197.2L276.6,197L277.6,197.2L278.6,197.3L279.6,197.6L280.6,197.8L281.6,197.3L282.6,197.2L283.6,197.7L284.6,197.4L285.6,197.6L286.6,197.1L287.6,197.4L288.6,197.7L289.6,197.4L290.6,198L291.6,198.1L292.6,197.6L293.6,197.7L294.6,198.2L295.6,198.7L296.6,198.5L297.6,198.5L298.6,198.8L299.6,197.9L300.6,197.3L301.6,197L302.6,197.1L303.6,197L304.6,197.1L305.6,197.1L306.6,197.4L307.6,197.4L308.6,197.2L309.6,198L310.6,198.1L311.6,198.5L312.6,198.4L313.6,199.5L314.6,200.9L315.6,201.8L316.6,203.4L317.6,201.9L318.6,200.1L319.6,199.1L320.6,198.6L321.6,198.7L322.6,198.4L323.6,198L324.6,198L325.6,198.1L326.6,197.9L327.6,197.5L328.6,197.5L329.6,197.1L330.6,197.1L331.6,197.4L332.6,197.1L333.6,196.8L334.6,197L335.6,197.3L336.6,197.5L337.6,197.5L338.6,197.6L339.6,197.6L340.6,197.8L341.6,197.6L342.6,197.5L343.6,197.6L344.6,197.3L345.6,197.3L346.6,197.7L347.6,197.9L348.6,197.7L349.6,197.5L350.6,197.4L351.6,197.6L352.6,197.9L353.6,197.8L354.6,197.6L355.6,197.9L356.6,197.4L357.6,197.6L358.6,197.9L359.6,197.7L360.6,197.6L361.6,197.4L362.6,197.6L363.6,197.8L364.6,197.1L365.6,197.6L366.6,197.6L367.6,197.6L368.6,197.5L369.6,197.5L370.6,197.2L371.6,197.2L372.6,197.1L373.6,196.8L374.6,197.3L375.6,196.9L376.6,196.4L377.6,196.3L378.6,196.1L379.6,195.7L380.6,195.3L381.6,195L382.6,194.5L383.6,194L384.6,193.5L385.6,192.7L386.6,192.4L387.6,192L389.1,193.8L390.4,206L391.4,221.4L391.9,229.1L392.7,246.2L393.4,254.7" stroke="#ff3838" stroke-width="1.0"/>
</g>
<line x1="255.6" y1="162.6" x2="255.6" y2="285.8" stroke="#262626" stroke-width="0.9"/>
<line x1="255.2" y1="285.3" x2="399.2" y2="285.3" stroke="#262626" stroke-width="0.9"/>
<line x1="253.4" y1="278.7" x2="255.6" y2="278.7" stroke="#262626" stroke-width="0.9"/>
<text x="251.7" y="281" font-size="6.5" text-anchor="end" fill="#000">0</text>
<line x1="253.4" y1="265" x2="255.6" y2="265" stroke="#262626" stroke-width="0.9"/>
<text x="251.7" y="267.3" font-size="6.5" text-anchor="end" fill="#000">2</text>
<line x1="253.4" y1="251.4" x2="255.6" y2="251.4" stroke="#262626" stroke-width="0.9"/>
<text x="251.7" y="253.7" font-size="6.5" text-anchor="end" fill="#000">4</text>
<line x1="253.4" y1="237.7" x2="255.6" y2="237.7" stroke="#262626" stroke-width="0.9"/>
<text x="251.7" y="240" font-size="6.5" text-anchor="end" fill="#000">6</text>
<line x1="253.4" y1="224.1" x2="255.6" y2="224.1" stroke="#262626" stroke-width="0.9"/>
<text x="251.7" y="226.4" font-size="6.5" text-anchor="end" fill="#000">8</text>
<line x1="253.4" y1="210.4" x2="255.6" y2="210.4" stroke="#262626" stroke-width="0.9"/>
<text x="251.7" y="212.7" font-size="6.5" text-anchor="end" fill="#000">10</text>
<line x1="253.4" y1="196.7" x2="255.6" y2="196.7" stroke="#262626" stroke-width="0.9"/>
<text x="251.7" y="199" font-size="6.5" text-anchor="end" fill="#000">12</text>
<line x1="253.4" y1="183.1" x2="255.6" y2="183.1" stroke="#262626" stroke-width="0.9"/>
<text x="251.7" y="185.4" font-size="6.5" text-anchor="end" fill="#000">14</text>
<line x1="253.4" y1="169.4" x2="255.6" y2="169.4" stroke="#262626" stroke-width="0.9"/>
<text x="251.7" y="171.7" font-size="6.5" text-anchor="end" fill="#000">16</text>
<line x1="254.4" y1="271.8" x2="255.6" y2="271.8" stroke="#262626" stroke-width="0.9"/>
<line x1="254.4" y1="258.2" x2="255.6" y2="258.2" stroke="#262626" stroke-width="0.9"/>
<line x1="254.4" y1="244.5" x2="255.6" y2="244.5" stroke="#262626" stroke-width="0.9"/>
<line x1="254.4" y1="230.9" x2="255.6" y2="230.9" stroke="#262626" stroke-width="0.9"/>
<line x1="254.4" y1="217.2" x2="255.6" y2="217.2" stroke="#262626" stroke-width="0.9"/>
<line x1="254.4" y1="203.6" x2="255.6" y2="203.6" stroke="#262626" stroke-width="0.9"/>
<line x1="254.4" y1="189.9" x2="255.6" y2="189.9" stroke="#262626" stroke-width="0.9"/>
<line x1="254.4" y1="176.3" x2="255.6" y2="176.3" stroke="#262626" stroke-width="0.9"/>
<line x1="254.4" y1="162.6" x2="255.6" y2="162.6" stroke="#262626" stroke-width="0.9"/>
<line x1="262.2" y1="285.3" x2="262.2" y2="287.5" stroke="#262626" stroke-width="0.9"/>
<text x="262.2" y="294.6" font-size="6.5" text-anchor="middle" fill="#000">0</text>
<line x1="275.1" y1="285.3" x2="275.1" y2="287.5" stroke="#262626" stroke-width="0.9"/>
<text x="275.1" y="294.6" font-size="6.5" text-anchor="middle" fill="#000">4</text>
<line x1="288.1" y1="285.3" x2="288.1" y2="287.5" stroke="#262626" stroke-width="0.9"/>
<text x="288.1" y="294.6" font-size="6.5" text-anchor="middle" fill="#000">8</text>
<line x1="301" y1="285.3" x2="301" y2="287.5" stroke="#262626" stroke-width="0.9"/>
<text x="301" y="294.6" font-size="6.5" text-anchor="middle" fill="#000">12</text>
<line x1="314" y1="285.3" x2="314" y2="287.5" stroke="#262626" stroke-width="0.9"/>
<text x="314" y="294.6" font-size="6.5" text-anchor="middle" fill="#000">16</text>
<line x1="326.9" y1="285.3" x2="326.9" y2="287.5" stroke="#262626" stroke-width="0.9"/>
<text x="326.9" y="294.6" font-size="6.5" text-anchor="middle" fill="#000">20</text>
<line x1="339.9" y1="285.3" x2="339.9" y2="287.5" stroke="#262626" stroke-width="0.9"/>
<text x="339.9" y="294.6" font-size="6.5" text-anchor="middle" fill="#000">24</text>
<line x1="352.8" y1="285.3" x2="352.8" y2="287.5" stroke="#262626" stroke-width="0.9"/>
<text x="352.8" y="294.6" font-size="6.5" text-anchor="middle" fill="#000">28</text>
<line x1="365.8" y1="285.3" x2="365.8" y2="287.5" stroke="#262626" stroke-width="0.9"/>
<text x="365.8" y="294.6" font-size="6.5" text-anchor="middle" fill="#000">32</text>
<line x1="378.8" y1="285.3" x2="378.8" y2="287.5" stroke="#262626" stroke-width="0.9"/>
<text x="378.8" y="294.6" font-size="6.5" text-anchor="middle" fill="#000">36</text>
<line x1="391.7" y1="285.3" x2="391.7" y2="287.5" stroke="#262626" stroke-width="0.9"/>
<text x="391.7" y="294.6" font-size="6.5" text-anchor="middle" fill="#000">40</text>
<line x1="255.7" y1="285.3" x2="255.7" y2="286.5" stroke="#262626" stroke-width="0.9"/>
<line x1="259" y1="285.3" x2="259" y2="286.5" stroke="#262626" stroke-width="0.9"/>
<line x1="265.4" y1="285.3" x2="265.4" y2="286.5" stroke="#262626" stroke-width="0.9"/>
<line x1="268.7" y1="285.3" x2="268.7" y2="286.5" stroke="#262626" stroke-width="0.9"/>
<line x1="271.9" y1="285.3" x2="271.9" y2="286.5" stroke="#262626" stroke-width="0.9"/>
<line x1="278.4" y1="285.3" x2="278.4" y2="286.5" stroke="#262626" stroke-width="0.9"/>
<line x1="281.6" y1="285.3" x2="281.6" y2="286.5" stroke="#262626" stroke-width="0.9"/>
<line x1="284.9" y1="285.3" x2="284.9" y2="286.5" stroke="#262626" stroke-width="0.9"/>
<line x1="291.3" y1="285.3" x2="291.3" y2="286.5" stroke="#262626" stroke-width="0.9"/>
<line x1="294.6" y1="285.3" x2="294.6" y2="286.5" stroke="#262626" stroke-width="0.9"/>
<line x1="297.8" y1="285.3" x2="297.8" y2="286.5" stroke="#262626" stroke-width="0.9"/>
<line x1="304.3" y1="285.3" x2="304.3" y2="286.5" stroke="#262626" stroke-width="0.9"/>
<line x1="307.5" y1="285.3" x2="307.5" y2="286.5" stroke="#262626" stroke-width="0.9"/>
<line x1="310.8" y1="285.3" x2="310.8" y2="286.5" stroke="#262626" stroke-width="0.9"/>
<line x1="317.2" y1="285.3" x2="317.2" y2="286.5" stroke="#262626" stroke-width="0.9"/>
<line x1="320.5" y1="285.3" x2="320.5" y2="286.5" stroke="#262626" stroke-width="0.9"/>
<line x1="323.7" y1="285.3" x2="323.7" y2="286.5" stroke="#262626" stroke-width="0.9"/>
<line x1="330.2" y1="285.3" x2="330.2" y2="286.5" stroke="#262626" stroke-width="0.9"/>
<line x1="333.4" y1="285.3" x2="333.4" y2="286.5" stroke="#262626" stroke-width="0.9"/>
<line x1="336.7" y1="285.3" x2="336.7" y2="286.5" stroke="#262626" stroke-width="0.9"/>
<line x1="343.1" y1="285.3" x2="343.1" y2="286.5" stroke="#262626" stroke-width="0.9"/>
<line x1="346.4" y1="285.3" x2="346.4" y2="286.5" stroke="#262626" stroke-width="0.9"/>
<line x1="349.6" y1="285.3" x2="349.6" y2="286.5" stroke="#262626" stroke-width="0.9"/>
<line x1="356.1" y1="285.3" x2="356.1" y2="286.5" stroke="#262626" stroke-width="0.9"/>
<line x1="359.3" y1="285.3" x2="359.3" y2="286.5" stroke="#262626" stroke-width="0.9"/>
<line x1="362.6" y1="285.3" x2="362.6" y2="286.5" stroke="#262626" stroke-width="0.9"/>
<line x1="369" y1="285.3" x2="369" y2="286.5" stroke="#262626" stroke-width="0.9"/>
<line x1="372.3" y1="285.3" x2="372.3" y2="286.5" stroke="#262626" stroke-width="0.9"/>
<line x1="375.5" y1="285.3" x2="375.5" y2="286.5" stroke="#262626" stroke-width="0.9"/>
<line x1="382" y1="285.3" x2="382" y2="286.5" stroke="#262626" stroke-width="0.9"/>
<line x1="385.2" y1="285.3" x2="385.2" y2="286.5" stroke="#262626" stroke-width="0.9"/>
<line x1="388.5" y1="285.3" x2="388.5" y2="286.5" stroke="#262626" stroke-width="0.9"/>
<line x1="394.9" y1="285.3" x2="394.9" y2="286.5" stroke="#262626" stroke-width="0.9"/>
<line x1="398.2" y1="285.3" x2="398.2" y2="286.5" stroke="#262626" stroke-width="0.9"/>
<text x="327.4" y="305.7" font-size="6.8" text-anchor="middle" fill="#000">Height (mm)</text>
<text x="240" y="222.4" font-size="6.6" text-anchor="middle" fill="#000" transform="rotate(-90 240 222.4)">BS (%)</text>
<text x="234.9" y="164.9" font-size="9.6" text-anchor="start" fill="#000" style="stroke-width:0.35px">E</text>
<rect x="399.2" y="162.6" width="8.5" height="122.7" fill="url(#cbg)"/>
<text x="410" y="169.1" font-size="6.8" text-anchor="start" fill="#000">00h:00m:00s</text>
<text x="410" y="178.9" font-size="6.8" text-anchor="start" fill="#000">02h:00m:00s</text>
<text x="410" y="188.6" font-size="6.8" text-anchor="start" fill="#000">04h:00m:00s</text>
<text x="410" y="198.3" font-size="6.8" text-anchor="start" fill="#000">06h:00m:00s</text>
<text x="410" y="208.1" font-size="6.8" text-anchor="start" fill="#000">08h:00m:00s</text>
<text x="410" y="217.8" font-size="6.8" text-anchor="start" fill="#000">10h:00m:00s</text>
<text x="410" y="227.5" font-size="6.8" text-anchor="start" fill="#000">12h:00m:00s</text>
<text x="410" y="237.3" font-size="6.8" text-anchor="start" fill="#000">14h:00m:00s</text>
<text x="410" y="247" font-size="6.8" text-anchor="start" fill="#000">16h:00m:00s</text>
<text x="410" y="256.7" font-size="6.8" text-anchor="start" fill="#000">18h:00m:00s</text>
<text x="410" y="266.4" font-size="6.8" text-anchor="start" fill="#000">20h:00m:00s</text>
<text x="410" y="276.2" font-size="6.8" text-anchor="start" fill="#000">22h:00m:00s</text>
<text x="410" y="285.9" font-size="6.8" text-anchor="start" fill="#000">24h:00m:00s</text>
<g fill="none" stroke-linejoin="round" stroke-linecap="round">
<path d="M506.8,186.1L507.3,190.3L508.6,198L509.6,200L510.6,201.1L511.6,202.5L512.6,203.4L513.6,203.5L514.6,204.1L515.6,204.3L516.6,203.8L517.6,203.8L518.6,204.6L519.6,204.1L520.6,204.7L521.6,203.8L522.6,204.1L523.6,204.1L524.6,204L525.6,204.2L526.6,204.2L527.6,203.4L528.6,203.4L529.6,203.5L530.6,203.6L531.6,203.2L532.6,202.9L533.6,202.8L534.6,202.7L535.6,202.7L536.6,202.7L537.6,202.7L538.6,202.6L539.6,203L540.6,203.3L541.6,203.8L542.6,204.1L543.6,203.9L544.6,204.9L545.6,204.8L546.6,204.9L547.6,204.5L548.6,205.5L549.6,205.1L550.6,205L551.6,205L552.6,205.2L553.6,205.3L554.6,205.4L555.6,205.1L556.6,205.7L557.6,205.6L558.6,205.2L559.6,205.5L560.6,205.7L561.6,205.8L562.6,205.8L563.6,205.7L564.6,205.7L565.6,206.1L566.6,207.2L567.6,207.3L568.6,207L569.6,205.9L570.6,205.5L571.6,205.8L572.6,205.6L573.6,205.6L574.6,205.4L575.6,205.9L576.6,205.8L577.6,205.7L578.6,205.6L579.6,204.8L580.6,204.7L581.6,205.3L582.6,205.3L583.6,204.9L584.6,204.4L585.6,204.5L586.6,204.3L587.6,205.1L588.6,204.9L589.6,204.4L590.6,204.5L591.6,204.3L592.6,204.6L593.6,204.7L594.6,204.3L595.6,204.3L596.6,204.5L597.6,204.3L598.6,204.9L599.6,203.9L600.6,204.4L601.6,204.3L602.6,204.7L603.6,204.5L604.6,204.2L605.6,203.8L606.6,204.1L607.6,204L608.6,203.3L609.6,204.1L610.6,203.7L611.6,202.8L612.6,202.6L613.6,202.3L614.6,201.5L615.6,201L616.6,200.8L617.6,200.2L618.6,199.6L619.6,198.9L620.6,198.4L621.6,197.7" stroke="#8c00ff" stroke-width="1.82"/>
<path d="M621.6,197.7L624.1,199.8L625.1,209.4L626.4,227.4L627.2,245.2L627.9,254.7" stroke="#8c00ff" stroke-width="0.5"/>
<path d="M506.8,185.9L507.3,190L508.6,197.3L509.6,199.2L510.6,200.5L511.6,201.3L512.6,201.9L513.6,202.3L514.6,202.7L515.6,203.2L516.6,202.8L517.6,202.8L518.6,203.4L519.6,203.2L520.6,203.5L521.6,203L522.6,203.3L523.6,203.2L524.6,202.9L525.6,203.3L526.6,203L527.6,202.5L528.6,202.2L529.6,202.6L530.6,202.8L531.6,202L532.6,201.9L533.6,201.9L534.6,201.4L535.6,201.3L536.6,201.3L537.6,201.8L538.6,201.8L539.6,201.9L540.6,202.4L541.6,202.7L542.6,203.1L543.6,203.3L544.6,204L545.6,203.7L546.6,204.1L547.6,203.9L548.6,204.1L549.6,204.3L550.6,203.9L551.6,204L552.6,204.5L553.6,204.2L554.6,204.7L555.6,204.4L556.6,204.3L557.6,204.5L558.6,204.1L559.6,204.5L560.6,204.7L561.6,204.9L562.6,204.7L563.6,204.6L564.6,204.5L565.6,204.8L566.6,206.1L567.6,206.4L568.6,206L569.6,204.9L570.6,204.3L571.6,204.7L572.6,204.1L573.6,204.3L574.6,204.3L575.6,204.5L576.6,204.7L577.6,204.6L578.6,204.5L579.6,204.2L580.6,203.8L581.6,203.8L582.6,203.9L583.6,203.7L584.6,203.5L585.6,203.4L586.6,203.5L587.6,203.7L588.6,203.7L589.6,203.7L590.6,203.6L591.6,203.5L592.6,203.7L593.6,203.8L594.6,203.5L595.6,203.2L596.6,203.1L597.6,203.2L598.6,203.8L599.6,203.1L600.6,203.7L601.6,203.5L602.6,203.7L603.6,203.2L604.6,203.1L605.6,202.8L606.6,202.9L607.6,202.9L608.6,202.8L609.6,202.9L610.6,202.4L611.6,201.9L612.6,201.6L613.6,201.2L614.6,200.5L615.6,200.3L616.6,199.9L617.6,199.3L618.6,198.9L619.6,198L620.6,197L621.6,196.8" stroke="#6d03ff" stroke-width="1.82"/>
<path d="M621.6,196.8L624.1,198.9L625.1,208.5L626.4,226.5L627.2,244.3L628,254.7" stroke="#6d03ff" stroke-width="0.5"/>
<path d="M506.8,185.7L507.3,189.6L508.6,196.5L509.6,198.4L510.6,199.4L511.6,200.2L512.6,201L513.6,201.3L514.6,201.9L515.6,202.6L516.6,202.1L517.6,202L518.6,202.6L519.6,202L520.6,202.6L521.6,201.8L522.6,202.2L523.6,202L524.6,202L525.6,202.1L526.6,202.2L527.6,201.5L528.6,201.4L529.6,201.6L530.6,201.6L531.6,201.3L532.6,201.1L533.6,201L534.6,200.7L535.6,200.7L536.6,200.3L537.6,200.5L538.6,200.4L539.6,201L540.6,201.2L541.6,201.9L542.6,201.7L543.6,202.3L544.6,202.6L545.6,202.5L546.6,202.6L547.6,202.4L548.6,203.5L549.6,203.4L550.6,203L551.6,202.9L552.6,203.4L553.6,203.5L554.6,203.6L555.6,203.1L556.6,203.7L557.6,203.5L558.6,203.2L559.6,203.2L560.6,203.5L561.6,203.8L562.6,203.5L563.6,203.6L564.6,203.5L565.6,203.8L566.6,205.1L567.6,205.1L568.6,205L569.6,204L570.6,203.2L571.6,203.5L572.6,203.2L573.6,203.4L574.6,203.5L575.6,203.5L576.6,203.7L577.6,203.3L578.6,203.2L579.6,202.9L580.6,202.5L581.6,202.8L582.6,203.2L583.6,202.4L584.6,202.4L585.6,202.4L586.6,202.4L587.6,202.9L588.6,202.8L589.6,202.3L590.6,202.5L591.6,202.4L592.6,202.6L593.6,202.9L594.6,202.6L595.6,202.4L596.6,202.5L597.6,202.6L598.6,202.8L599.6,202.2L600.6,202.3L601.6,202.6L602.6,202.5L603.6,202L604.6,202.2L605.6,202.1L606.6,202L607.6,201.9L608.6,201.4L609.6,202.1L610.6,201.7L611.6,201.1L612.6,200.7L613.6,200.3L614.6,199.5L615.6,199L616.6,198.8L617.6,198.4L618.6,197.5L619.6,196.9L620.6,196.3L621.6,195.9" stroke="#3b1fff" stroke-width="1.82"/>
<path d="M621.6,195.9L624.1,198L625.1,207.6L626.4,225.6L627.2,243.4L628.1,254.7" stroke="#3b1fff" stroke-width="0.5"/>
<path d="M506.8,185.5L507.3,189.3L508.6,195.7L509.6,197.2L510.6,198.3L511.6,199.3L512.6,200.3L513.6,200.3L514.6,201.1L515.6,201.1L516.6,200.8L517.6,201L518.6,201.2L519.6,201.1L520.6,201.2L521.6,200.8L522.6,201.3L523.6,201.1L524.6,200.9L525.6,201.4L526.6,200.9L527.6,200.5L528.6,200.2L529.6,200.6L530.6,200.7L531.6,200L532.6,200L533.6,200L534.6,199.4L535.6,199.5L536.6,199.4L537.6,199.3L538.6,199.8L539.6,200.1L540.6,200L541.6,200.9L542.6,201L543.6,200.8L544.6,201.6L545.6,201.6L546.6,202L547.6,201.7L548.6,202.1L549.6,202.2L550.6,202L551.6,201.9L552.6,202.1L553.6,202.2L554.6,202.5L555.6,202.3L556.6,202.6L557.6,202.1L558.6,201.9L559.6,202.1L560.6,202.6L561.6,202.5L562.6,202.6L563.6,202.6L564.6,202.2L565.6,202.8L566.6,203.6L567.6,204.4L568.6,204.1L569.6,203L570.6,202.5L571.6,202.2L572.6,202L573.6,202.2L574.6,202.5L575.6,202.4L576.6,202.6L577.6,202.6L578.6,202.4L579.6,201.8L580.6,201.5L581.6,202.1L582.6,201.8L583.6,201.6L584.6,201.4L585.6,201.2L586.6,201.3L587.6,201.9L588.6,201.5L589.6,201.4L590.6,201.6L591.6,201.3L592.6,201.2L593.6,201.8L594.6,201.4L595.6,201.5L596.6,201.2L597.6,201.4L598.6,201.9L599.6,200.8L600.6,201.6L601.6,201.4L602.6,201.3L603.6,201.2L604.6,201.1L605.6,201.2L606.6,200.9L607.6,201.1L608.6,200.6L609.6,201L610.6,200.7L611.6,199.9L612.6,199.9L613.6,199.1L614.6,198.8L615.6,198L616.6,197.7L617.6,197.3L618.6,196.7L619.6,196.1L620.6,195.4L621.6,195.2" stroke="#2352ff" stroke-width="1.82"/>
<path d="M621.6,195.2L624.1,197.1L625.1,206.7L626.4,224.7L627.2,242.4L628.1,254.4L628.2,254.7" stroke="#2352ff" stroke-width="0.5"/>
<path d="M506.8,185.4L507.3,189L508.6,194.9L509.6,196.5L510.6,197.6L511.6,198.5L512.6,199L513.6,199.7L514.6,199.7L515.6,200.3L516.6,200.1L517.6,199.7L518.6,200.3L519.6,200L520.6,200.6L521.6,200.1L522.6,199.9L523.6,200.2L524.6,199.6L525.6,199.9L526.6,199.9L527.6,199.4L528.6,199.2L529.6,199.3L530.6,199.6L531.6,198.9L532.6,198.7L533.6,198.6L534.6,198.6L535.6,198.4L536.6,198.5L537.6,198.3L538.6,198.5L539.6,198.9L540.6,199L541.6,199.7L542.6,200L543.6,199.8L544.6,200.5L545.6,200.3L546.6,200.7L547.6,200.3L548.6,201.2L549.6,201L550.6,200.7L551.6,200.8L552.6,201.4L553.6,201.4L554.6,201.6L555.6,201L556.6,201.5L557.6,201.4L558.6,200.9L559.6,201.4L560.6,201.7L561.6,201.3L562.6,201.4L563.6,201.5L564.6,201.1L565.6,201.7L566.6,202.6L567.6,203.2L568.6,202.9L569.6,201.6L570.6,201.5L571.6,201.4L572.6,200.9L573.6,201L574.6,201.1L575.6,201.6L576.6,201.5L577.6,201.6L578.6,201.5L579.6,200.7L580.6,200.5L581.6,200.7L582.6,200.9L583.6,200.5L584.6,200.2L585.6,200.3L586.6,200.4L587.6,200.8L588.6,200.7L589.6,200.5L590.6,200.6L591.6,200.1L592.6,200.4L593.6,200.7L594.6,200.5L595.6,200.5L596.6,200.3L597.6,200.3L598.6,200.7L599.6,199.9L600.6,200.3L601.6,200.2L602.6,200.4L603.6,200.5L604.6,200.4L605.6,199.8L606.6,200.2L607.6,200L608.6,199.6L609.6,199.9L610.6,199.5L611.6,198.8L612.6,198.7L613.6,198.1L614.6,197.8L615.6,197.3L616.6,196.9L617.6,196.4L618.6,195.9L619.6,195L620.6,194.6L621.6,194.3" stroke="#1693ff" stroke-width="1.82"/>
<path d="M621.6,194.3L624.1,196.1L625.1,205.7L626.4,223.7L627.2,241.5L628.1,253.5L628.4,254.7" stroke="#1693ff" stroke-width="0.5"/>
<path d="M506.8,185.2L507.3,188.6L508.6,194.1L509.6,195.8L510.6,196.8L511.6,197.2L512.6,198L513.6,198.2L514.6,199L515.6,199.5L516.6,199.1L517.6,198.9L518.6,199.5L519.6,199.3L520.6,199.2L521.6,198.6L522.6,199.3L523.6,199.4L524.6,198.9L525.6,199.2L526.6,199L527.6,198.5L528.6,198.1L529.6,198.2L530.6,198.7L531.6,197.8L532.6,197.9L533.6,197.9L534.6,197.2L535.6,197.3L536.6,197.3L537.6,197.5L538.6,197.6L539.6,197.7L540.6,197.9L541.6,198.5L542.6,198.8L543.6,199L544.6,199.9L545.6,199.4L546.6,199.5L547.6,199.5L548.6,200.1L549.6,200.2L550.6,199.7L551.6,199.9L552.6,200.3L553.6,200L554.6,200.5L555.6,199.8L556.6,200.3L557.6,200.2L558.6,199.9L559.6,199.9L560.6,200.3L561.6,200.3L562.6,200.1L563.6,200.3L564.6,199.9L565.6,200.4L566.6,201.6L567.6,202.1L568.6,201.9L569.6,200.5L570.6,200.1L571.6,200.2L572.6,200.1L573.6,200.3L574.6,200.3L575.6,200.5L576.6,200.6L577.6,200.5L578.6,200.4L579.6,199.6L580.6,199.7L581.6,199.7L582.6,200.1L583.6,199.6L584.6,199.4L585.6,199L586.6,199.4L587.6,199.5L588.6,199.7L589.6,199.2L590.6,199.3L591.6,199L592.6,199.4L593.6,199.7L594.6,199.5L595.6,199.4L596.6,199.3L597.6,199.6L598.6,199.4L599.6,198.7L600.6,199.3L601.6,199.2L602.6,199.5L603.6,199.4L604.6,199.1L605.6,199L606.6,198.9L607.6,198.7L608.6,198.5L609.6,199L610.6,198.7L611.6,198.2L612.6,197.5L613.6,197.3L614.6,196.8L615.6,196.4L616.6,195.7L617.6,195.7L618.6,194.8L619.6,194.3L620.6,193.5L621.6,193.3" stroke="#00e6fc" stroke-width="1.82"/>
<path d="M621.6,193.3L624.1,195.2L625.1,204.8L626.4,222.8L627.2,240.6L628.1,252.6L628.6,254.3L628.6,254.7" stroke="#00e6fc" stroke-width="0.5"/>
<path d="M506.8,185L507.3,188.3L508.6,193.3L509.6,195L510.6,195.8L511.6,196.3L512.6,197.3L513.6,197.2L514.6,198.1L515.6,198.4L516.6,197.7L517.6,198L518.6,198.6L519.6,198.1L520.6,198.5L521.6,197.6L522.6,198L523.6,198.2L524.6,197.9L525.6,198L526.6,198.2L527.6,197.3L528.6,197.3L529.6,197.5L530.6,197.3L531.6,197.2L532.6,196.8L533.6,196.6L534.6,196.2L535.6,196.5L536.6,196.4L537.6,196.5L538.6,196.6L539.6,196.8L540.6,197L541.6,197.7L542.6,198L543.6,197.8L544.6,198.6L545.6,198.3L546.6,198.4L547.6,198.2L548.6,199L549.6,199.1L550.6,198.8L551.6,199L552.6,199.3L553.6,199L554.6,199.4L555.6,198.8L556.6,199.1L557.6,199.1L558.6,199.1L559.6,199L560.6,199.1L561.6,199.2L562.6,199.1L563.6,199.3L564.6,198.7L565.6,199.3L566.6,200.3L567.6,200.8L568.6,200.5L569.6,199.5L570.6,199.2L571.6,199.3L572.6,199.1L573.6,199.2L574.6,199.1L575.6,199.6L576.6,199.1L577.6,199L578.6,199L579.6,198.7L580.6,198.5L581.6,198.7L582.6,198.6L583.6,198.6L584.6,198L585.6,198.1L586.6,198.5L587.6,198.5L588.6,198.5L589.6,198.5L590.6,198.5L591.6,198.3L592.6,198.1L593.6,198.7L594.6,198.5L595.6,198.3L596.6,198.3L597.6,198.6L598.6,198.8L599.6,197.9L600.6,198.5L601.6,198.6L602.6,198.5L603.6,198.1L604.6,198.1L605.6,198.1L606.6,197.8L607.6,197.7L608.6,197.8L609.6,198.1L610.6,197.9L611.6,197.1L612.6,196.9L613.6,196.3L614.6,195.7L615.6,195.2L616.6,194.8L617.6,194.5L618.6,194L619.6,193.2L620.6,192.6L621.6,192.2" stroke="#00fb8b" stroke-width="1.82"/>
<path d="M621.6,192.2L624.1,194.3L625.1,203.9L626.4,221.9L627.2,239.7L628.1,251.7L628.6,253.4L628.7,254.7" stroke="#00fb8b" stroke-width="0.5"/>
<path d="M506.8,184.9L507.3,187.9L508.6,192.5L509.6,194.1L510.6,194.7L511.6,195.5L512.6,196.1L513.6,196.6L514.6,196.7L515.6,197.2L516.6,196.8L517.6,196.7L518.6,197.4L519.6,197.3L520.6,197.3L521.6,196.6L522.6,196.8L523.6,197.2L524.6,196.7L525.6,196.8L526.6,196.9L527.6,196.4L528.6,196.2L529.6,196.3L530.6,196.7L531.6,196.2L532.6,195.5L533.6,195.6L534.6,195.3L535.6,195.2L536.6,195.2L537.6,195.4L538.6,195.6L539.6,195.7L540.6,196.2L541.6,196.5L542.6,196.8L543.6,196.8L544.6,197.7L545.6,197.6L546.6,197.6L547.6,197.3L548.6,198.1L549.6,198.1L550.6,197.6L551.6,197.6L552.6,197.9L553.6,198L554.6,198L555.6,197.8L556.6,198.1L557.6,197.9L558.6,197.6L559.6,198.1L560.6,198.4L561.6,198.1L562.6,198.1L563.6,198.1L564.6,197.5L565.6,198.5L566.6,199.1L567.6,199.7L568.6,199.2L569.6,198.4L570.6,198L571.6,198.1L572.6,198L573.6,198.3L574.6,198.2L575.6,198.3L576.6,198.4L577.6,198.2L578.6,198.2L579.6,197.6L580.6,197.6L581.6,197.6L582.6,197.7L583.6,197.5L584.6,197.3L585.6,196.9L586.6,197L587.6,197.6L588.6,197.2L589.6,197.2L590.6,197.7L591.6,197.2L592.6,197.4L593.6,197.4L594.6,197.5L595.6,197L596.6,197.4L597.6,197.5L598.6,197.7L599.6,197.1L600.6,197.6L601.6,197.5L602.6,197.6L603.6,197.1L604.6,197.1L605.6,197.2L606.6,196.9L607.6,197.1L608.6,196.6L609.6,197.3L610.6,196.5L611.6,196L612.6,195.9L613.6,195.5L614.6,194.7L615.6,194.3L616.6,194.2L617.6,193.7L618.6,193L619.6,192.2L620.6,191.8L621.6,191.5" stroke="#1ce736" stroke-width="1.82"/>
<path d="M621.6,191.5L624.1,193.4L625.1,203L626.4,221L627.2,238.8L628.1,250.8L628.6,252.5L628.8,254.7" stroke="#1ce736" stroke-width="0.5"/>
<path d="M506.8,184.7L507.3,187.6L508.6,191.7L509.6,193.1L510.6,194.1L511.6,194.4L512.6,195.2L513.6,195.2L514.6,195.7L515.6,196.5L516.6,196.1L517.6,195.6L518.6,196.4L519.6,196.1L520.6,196.3L521.6,195.7L522.6,195.9L523.6,196.3L524.6,195.5L525.6,195.8L526.6,196L527.6,195L528.6,195L529.6,195.3L530.6,195.5L531.6,194.8L532.6,194.7L533.6,194.7L534.6,194.4L535.6,194.2L536.6,194.5L537.6,194.2L538.6,194.5L539.6,194.6L540.6,195.1L541.6,195.3L542.6,195.7L543.6,195.9L544.6,196.3L545.6,196.5L546.6,196.3L547.6,196.4L548.6,196.8L549.6,196.8L550.6,196.4L551.6,196.6L552.6,197L553.6,196.9L554.6,197.3L555.6,196.7L556.6,197.2L557.6,196.9L558.6,196.7L559.6,197L560.6,197.1L561.6,197.3L562.6,197L563.6,197.1L564.6,196.8L565.6,197.1L566.6,198.1L567.6,198.8L568.6,198.4L569.6,197.4L570.6,197.3L571.6,197.3L572.6,197L573.6,196.8L574.6,197L575.6,197.3L576.6,197.2L577.6,197L578.6,197.1L579.6,196.8L580.6,196.3L581.6,196.5L582.6,196.8L583.6,196.1L584.6,196L585.6,195.8L586.6,196.3L587.6,196.4L588.6,196.4L589.6,196.4L590.6,196.6L591.6,196L592.6,196.1L593.6,196.8L594.6,196.5L595.6,196.3L596.6,196L597.6,196.2L598.6,196.8L599.6,196L600.6,196.6L601.6,196.3L602.6,196.5L603.6,196.4L604.6,196.5L605.6,196.2L606.6,195.8L607.6,195.7L608.6,195.5L609.6,196.3L610.6,195.6L611.6,194.8L612.6,194.8L613.6,194.3L614.6,193.9L615.6,193.6L616.6,193.1L617.6,192.6L618.6,192.1L619.6,191.7L620.6,191L621.6,190.5" stroke="#89dd06" stroke-width="1.82"/>
<path d="M621.6,190.5L624.1,192.5L625.1,202.1L626.4,220.1L627.2,237.9L628.1,249.9L628.6,251.6L628.9,254.7" stroke="#89dd06" stroke-width="0.5"/>
<path d="M506.8,184.5L507.3,187.2L508.6,190.9L509.6,192L510.6,193L511.6,193.2L512.6,193.8L513.6,194.1L514.6,194.8L515.6,195.4L516.6,194.8L517.6,194.9L518.6,195.3L519.6,195.1L520.6,195.3L521.6,194.8L522.6,194.9L523.6,195L524.6,194.8L525.6,195.2L526.6,195L527.6,194.3L528.6,194.2L529.6,194.3L530.6,194.5L531.6,194L532.6,193.6L533.6,193.4L534.6,193.4L535.6,193.4L536.6,193.1L537.6,193.1L538.6,193.1L539.6,193.8L540.6,193.7L541.6,194.4L542.6,194.4L543.6,194.9L544.6,195.5L545.6,195.5L546.6,195.5L547.6,195.3L548.6,196.1L549.6,195.7L550.6,195.3L551.6,195.5L552.6,195.9L553.6,195.7L554.6,196.2L555.6,195.8L556.6,196.1L557.6,196.1L558.6,195.4L559.6,195.6L560.6,196.1L561.6,196.1L562.6,196L563.6,195.9L564.6,195.8L565.6,196.1L566.6,197.1L567.6,197.5L568.6,197.4L569.6,196.5L570.6,196.2L571.6,195.8L572.6,195.6L573.6,195.7L574.6,196.1L575.6,196.4L576.6,196L577.6,196.1L578.6,195.9L579.6,195.6L580.6,195.6L581.6,195.9L582.6,195.6L583.6,195.1L584.6,194.9L585.6,194.9L586.6,195.1L587.6,195.5L588.6,195.4L589.6,195.4L590.6,195.4L591.6,195L592.6,195.1L593.6,195.6L594.6,195.1L595.6,195.2L596.6,195.1L597.6,195.4L598.6,195.6L599.6,195.1L600.6,195.3L601.6,195.4L602.6,195.3L603.6,195L604.6,195.4L605.6,195.2L606.6,195.3L607.6,194.7L608.6,194.8L609.6,195.3L610.6,194.9L611.6,193.9L612.6,193.7L613.6,193.6L614.6,193.1L615.6,192.3L616.6,191.9L617.6,191.9L618.6,191.3L619.6,190.5L620.6,189.8L621.6,189.4" stroke="#ffcf00" stroke-width="1.82"/>
<path d="M621.6,189.4L624.1,191.6L625.1,201.2L626.4,219.2L627.2,236.9L628.1,248.9L628.6,250.7L629,254.7" stroke="#ffcf00" stroke-width="0.5"/>
<path d="M506.8,184.3L507.3,186.9L508.6,190.1L509.6,191.2L510.6,192.3L511.6,192.2L512.6,193.2L513.6,193.4L514.6,193.7L515.6,194.3L516.6,193.8L517.6,193.8L518.6,194.3L519.6,194L520.6,194.5L521.6,193.8L522.6,193.9L523.6,194.1L524.6,193.5L525.6,193.8L526.6,193.7L527.6,193.3L528.6,192.9L529.6,193.1L530.6,193.1L531.6,193.1L532.6,192.5L533.6,192.4L534.6,192.3L535.6,192L536.6,192.3L537.6,192.2L538.6,192L539.6,192.7L540.6,192.7L541.6,193.1L542.6,193.7L543.6,193.9L544.6,194.3L545.6,194.2L546.6,194.4L547.6,194.3L548.6,195.1L549.6,194.9L550.6,194.3L551.6,194.6L552.6,195.1L553.6,194.8L554.6,195L555.6,194.5L556.6,195.2L557.6,195L558.6,194.5L559.6,194.9L560.6,195.2L561.6,194.9L562.6,194.7L563.6,194.7L564.6,194.6L565.6,195L566.6,196.2L567.6,196.3L568.6,196.2L569.6,195.5L570.6,194.9L571.6,194.8L572.6,195L573.6,195.1L574.6,194.9L575.6,195.4L576.6,195.3L577.6,195.3L578.6,195.2L579.6,194.5L580.6,194.3L581.6,194.5L582.6,194.6L583.6,194.1L584.6,193.8L585.6,193.6L586.6,194L587.6,194.3L588.6,194.5L589.6,194.1L590.6,194.7L591.6,194.1L592.6,194.1L593.6,194.6L594.6,194.3L595.6,194.4L596.6,194.2L597.6,194.2L598.6,194.4L599.6,193.8L600.6,194.3L601.6,194.2L602.6,194.5L603.6,194.2L604.6,194.3L605.6,194L606.6,194.1L607.6,193.8L608.6,193.6L609.6,194.1L610.6,193.8L611.6,193.1L612.6,193.1L613.6,192.6L614.6,191.8L615.6,191.7L616.6,191.3L617.6,190.9L618.6,190.1L619.6,189.7L620.6,188.8L621.6,188.7" stroke="#ff7d00" stroke-width="1.82"/>
<path d="M621.6,188.7L624.1,190.6L625.1,200.2L626.4,218.2L627.2,236L628.1,248L628.6,249.7L629.1,254.7" stroke="#ff7d00" stroke-width="0.5"/>
<path d="M506.8,184.2L507.3,186.5L508.6,189.3L509.6,190.6L510.6,191.3L511.6,191.4L512.6,192L513.6,192.2L514.6,192.6L515.6,193.2L516.6,192.6L517.6,192.8L518.6,193.1L519.6,192.9L520.6,193L521.6,192.6L522.6,193.1L523.6,192.8L524.6,192.6L525.6,193.1L526.6,193L527.6,192.2L528.6,191.8L529.6,192.3L530.6,192.5L531.6,192L532.6,191.7L533.6,191.7L534.6,191.3L535.6,191.1L536.6,190.9L537.6,190.9L538.6,191.2L539.6,191.5L540.6,192.1L541.6,192.2L542.6,192.5L543.6,192.8L544.6,193.2L545.6,193.2L546.6,193.2L547.6,193.1L548.6,193.6L549.6,193.8L550.6,193.3L551.6,193.4L552.6,193.7L553.6,193.9L554.6,193.9L555.6,193.8L556.6,194.1L557.6,193.7L558.6,193.6L559.6,193.6L560.6,193.8L561.6,194.1L562.6,193.9L563.6,193.6L564.6,193.3L565.6,193.9L566.6,194.7L567.6,195.1L568.6,195L569.6,194.2L570.6,193.7L571.6,193.9L572.6,193.6L573.6,193.8L574.6,194L575.6,194.2L576.6,194L577.6,193.9L578.6,194.2L579.6,193.7L580.6,193.5L581.6,193.7L582.6,193.6L583.6,193.2L584.6,192.8L585.6,193.1L586.6,192.9L587.6,193.2L588.6,193.4L589.6,192.9L590.6,193.5L591.6,192.9L592.6,193.3L593.6,193.5L594.6,193.1L595.6,193.2L596.6,193.1L597.6,193L598.6,193.3L599.6,192.8L600.6,193.4L601.6,193.3L602.6,193.3L603.6,193.4L604.6,193.2L605.6,193L606.6,193.1L607.6,193.2L608.6,192.6L609.6,193L610.6,192.6L611.6,192.1L612.6,192.2L613.6,191.6L614.6,191.1L615.6,190.5L616.6,190.1L617.6,190L618.6,189.5L619.6,188.6L620.6,188.1L621.6,187.8" stroke="#ff3400" stroke-width="1.82"/>
<path d="M621.6,187.8L624.1,189.7L625.1,199.3L626.4,217.3L627.2,235.1L628.1,247.1L628.6,248.8L629.2,254.7" stroke="#ff3400" stroke-width="0.5"/>
<path d="M507.3,186.2L508.6,188.5L509.6,189.6L510.6,190.2L511.6,190.4L512.6,191L513.6,191.3L514.6,191.7L515.6,192.2L516.6,191.7L517.6,191.7L518.6,192.2L519.6,192L520.6,192.2L521.6,191.7L522.6,191.9L523.6,192L524.6,191.5L525.6,191.9L526.6,191.8L527.6,191.1L528.6,191L529.6,191.2L530.6,191.3L531.6,190.8L532.6,190.5L533.6,190.5L534.6,190.1L535.6,190.1L536.6,190.1L537.6,190L538.6,190.2L539.6,190.5L540.6,190.8L541.6,191.3L542.6,191.4L543.6,191.6L544.6,192.3L545.6,192.2L546.6,192.3L547.6,192.1L548.6,192.7L549.6,192.7L550.6,192.3L551.6,192.5L552.6,192.8L553.6,192.7L554.6,192.9L555.6,192.5L556.6,192.8L557.6,192.7L558.6,192.5L559.6,192.7L560.6,192.9L561.6,192.8L562.6,192.6L563.6,192.7L564.6,192.3L565.6,192.8L566.6,193.8L567.6,194.1L568.6,193.9L569.6,193.1L570.6,192.8L571.6,192.8L572.6,192.6L573.6,192.7L574.6,192.8L575.6,193.1L576.6,193L577.6,192.9L578.6,192.9L579.6,192.4L580.6,192.2L581.6,192.6L582.6,192.6L583.6,192.2L584.6,191.9L585.6,191.8L586.6,192L587.6,192.4L588.6,192.3L589.6,192.1L590.6,192.4L591.6,191.9L592.6,192.1L593.6,192.5L594.6,192.2L595.6,192.1L596.6,192L597.6,192.2L598.6,192.5L599.6,191.8L600.6,192.3L601.6,192.4L602.6,192.4L603.6,192.3L604.6,192.3L605.6,192.1L606.6,192.1L607.6,192L608.6,191.7L609.6,192.3L610.6,191.8L611.6,191.1L612.6,191L613.6,190.6L614.6,190.1L615.6,189.6L616.6,189.3L617.6,188.8L618.6,188.3L619.6,187.8L620.6,187.1L621.6,186.8" stroke="#ff1010" stroke-width="1.3"/>
<path d="M506,197L506.4,171.4L507.3,186.2" stroke="#ff1a1a" stroke-width="1.0"/>
<path d="M497.7,272.9L498.6,263.5L499.4,248L500.3,234.3L500.8,221.4L501.7,230L502.9,218.9L504.6,208.6L505.8,201.7L506,197L506.4,171.4L507.3,186.2L508.6,188.5L509.6,189.6L510.6,190.2L511.6,190.4L512.6,191L513.6,191.3L514.6,191.7L515.6,192.2L516.6,191.7L517.6,191.7L518.6,192.2L519.6,192L520.6,192.2L521.6,191.7L522.6,191.9L523.6,192L524.6,191.5L525.6,191.9L526.6,191.8L527.6,191.1L528.6,191L529.6,191.2L530.6,191.3L531.6,190.8L532.6,190.5L533.6,190.5L534.6,190.1L535.6,190.1L536.6,190.1L537.6,190L538.6,190.2L539.6,190.5L540.6,190.8L541.6,191.3L542.6,191.4L543.6,191.6L544.6,192.3L545.6,192.2L546.6,192.3L547.6,192.1L548.6,192.7L549.6,192.7L550.6,192.3L551.6,192.5L552.6,192.8L553.6,192.7L554.6,192.9L555.6,192.5L556.6,192.8L557.6,192.7L558.6,192.5L559.6,192.7L560.6,192.9L561.6,192.8L562.6,192.6L563.6,192.7L564.6,192.3L565.6,192.8L566.6,193.8L567.6,194.1L568.6,193.9L569.6,193.1L570.6,192.8L571.6,192.8L572.6,192.6L573.6,192.7L574.6,192.8L575.6,193.1L576.6,193L577.6,192.9L578.6,192.9L579.6,192.4L580.6,192.2L581.6,192.6L582.6,192.6L583.6,192.2L584.6,191.9L585.6,191.8L586.6,192L587.6,192.4L588.6,192.3L589.6,192.1L590.6,192.4L591.6,191.9L592.6,192.1L593.6,192.5L594.6,192.2L595.6,192.1L596.6,192L597.6,192.2L598.6,192.5L599.6,191.8L600.6,192.3L601.6,192.4L602.6,192.4L603.6,192.3L604.6,192.3L605.6,192.1L606.6,192.1L607.6,192L608.6,191.7L609.6,192.3L610.6,191.8L611.6,191.1L612.6,191L613.6,190.6L614.6,190.1L615.6,189.6L616.6,189.3L617.6,188.8L618.6,188.3L619.6,187.8L620.6,187.1L621.6,186.8L624.1,188.8L625.1,198.4L626.4,216.4L627.2,234.2L628.1,246.2L628.6,247.9L629.3,254.7" stroke="#ff3838" stroke-width="1.0"/>
</g>
<line x1="490.7" y1="162.6" x2="490.7" y2="285.8" stroke="#262626" stroke-width="0.9"/>
<line x1="490.2" y1="285.4" x2="634.3" y2="285.4" stroke="#262626" stroke-width="0.9"/>
<line x1="488.5" y1="285.4" x2="490.7" y2="285.4" stroke="#262626" stroke-width="0.9"/>
<text x="486.1" y="287.7" font-size="6.5" text-anchor="end" fill="#000">0</text>
<line x1="488.5" y1="267.9" x2="490.7" y2="267.9" stroke="#262626" stroke-width="0.9"/>
<text x="486.1" y="270.2" font-size="6.5" text-anchor="end" fill="#000">2</text>
<line x1="488.5" y1="250.3" x2="490.7" y2="250.3" stroke="#262626" stroke-width="0.9"/>
<text x="486.1" y="252.6" font-size="6.5" text-anchor="end" fill="#000">4</text>
<line x1="488.5" y1="232.8" x2="490.7" y2="232.8" stroke="#262626" stroke-width="0.9"/>
<text x="486.1" y="235.1" font-size="6.5" text-anchor="end" fill="#000">6</text>
<line x1="488.5" y1="215.2" x2="490.7" y2="215.2" stroke="#262626" stroke-width="0.9"/>
<text x="486.1" y="217.5" font-size="6.5" text-anchor="end" fill="#000">8</text>
<line x1="488.5" y1="197.7" x2="490.7" y2="197.7" stroke="#262626" stroke-width="0.9"/>
<text x="486.1" y="200" font-size="6.5" text-anchor="end" fill="#000">10</text>
<line x1="488.5" y1="180.1" x2="490.7" y2="180.1" stroke="#262626" stroke-width="0.9"/>
<text x="486.1" y="182.4" font-size="6.5" text-anchor="end" fill="#000">12</text>
<line x1="488.5" y1="162.6" x2="490.7" y2="162.6" stroke="#262626" stroke-width="0.9"/>
<text x="486.1" y="164.9" font-size="6.5" text-anchor="end" fill="#000">14</text>
<line x1="489.5" y1="276.6" x2="490.7" y2="276.6" stroke="#262626" stroke-width="0.9"/>
<line x1="489.5" y1="259.1" x2="490.7" y2="259.1" stroke="#262626" stroke-width="0.9"/>
<line x1="489.5" y1="241.5" x2="490.7" y2="241.5" stroke="#262626" stroke-width="0.9"/>
<line x1="489.5" y1="224" x2="490.7" y2="224" stroke="#262626" stroke-width="0.9"/>
<line x1="489.5" y1="206.5" x2="490.7" y2="206.5" stroke="#262626" stroke-width="0.9"/>
<line x1="489.5" y1="188.9" x2="490.7" y2="188.9" stroke="#262626" stroke-width="0.9"/>
<line x1="489.5" y1="171.4" x2="490.7" y2="171.4" stroke="#262626" stroke-width="0.9"/>
<line x1="497.4" y1="285.4" x2="497.4" y2="287.6" stroke="#262626" stroke-width="0.9"/>
<text x="497.4" y="294.7" font-size="6.5" text-anchor="middle" fill="#000">0</text>
<line x1="510.3" y1="285.4" x2="510.3" y2="287.6" stroke="#262626" stroke-width="0.9"/>
<text x="510.3" y="294.7" font-size="6.5" text-anchor="middle" fill="#000">4</text>
<line x1="523.3" y1="285.4" x2="523.3" y2="287.6" stroke="#262626" stroke-width="0.9"/>
<text x="523.3" y="294.7" font-size="6.5" text-anchor="middle" fill="#000">8</text>
<line x1="536.2" y1="285.4" x2="536.2" y2="287.6" stroke="#262626" stroke-width="0.9"/>
<text x="536.2" y="294.7" font-size="6.5" text-anchor="middle" fill="#000">12</text>
<line x1="549.2" y1="285.4" x2="549.2" y2="287.6" stroke="#262626" stroke-width="0.9"/>
<text x="549.2" y="294.7" font-size="6.5" text-anchor="middle" fill="#000">16</text>
<line x1="562.1" y1="285.4" x2="562.1" y2="287.6" stroke="#262626" stroke-width="0.9"/>
<text x="562.1" y="294.7" font-size="6.5" text-anchor="middle" fill="#000">20</text>
<line x1="575.1" y1="285.4" x2="575.1" y2="287.6" stroke="#262626" stroke-width="0.9"/>
<text x="575.1" y="294.7" font-size="6.5" text-anchor="middle" fill="#000">24</text>
<line x1="588" y1="285.4" x2="588" y2="287.6" stroke="#262626" stroke-width="0.9"/>
<text x="588" y="294.7" font-size="6.5" text-anchor="middle" fill="#000">28</text>
<line x1="601" y1="285.4" x2="601" y2="287.6" stroke="#262626" stroke-width="0.9"/>
<text x="601" y="294.7" font-size="6.5" text-anchor="middle" fill="#000">32</text>
<line x1="613.9" y1="285.4" x2="613.9" y2="287.6" stroke="#262626" stroke-width="0.9"/>
<text x="613.9" y="294.7" font-size="6.5" text-anchor="middle" fill="#000">36</text>
<line x1="626.9" y1="285.4" x2="626.9" y2="287.6" stroke="#262626" stroke-width="0.9"/>
<text x="626.9" y="294.7" font-size="6.5" text-anchor="middle" fill="#000">40</text>
<line x1="490.9" y1="285.4" x2="490.9" y2="286.6" stroke="#262626" stroke-width="0.9"/>
<line x1="494.2" y1="285.4" x2="494.2" y2="286.6" stroke="#262626" stroke-width="0.9"/>
<line x1="500.6" y1="285.4" x2="500.6" y2="286.6" stroke="#262626" stroke-width="0.9"/>
<line x1="503.9" y1="285.4" x2="503.9" y2="286.6" stroke="#262626" stroke-width="0.9"/>
<line x1="507.1" y1="285.4" x2="507.1" y2="286.6" stroke="#262626" stroke-width="0.9"/>
<line x1="513.6" y1="285.4" x2="513.6" y2="286.6" stroke="#262626" stroke-width="0.9"/>
<line x1="516.8" y1="285.4" x2="516.8" y2="286.6" stroke="#262626" stroke-width="0.9"/>
<line x1="520.1" y1="285.4" x2="520.1" y2="286.6" stroke="#262626" stroke-width="0.9"/>
<line x1="526.5" y1="285.4" x2="526.5" y2="286.6" stroke="#262626" stroke-width="0.9"/>
<line x1="529.8" y1="285.4" x2="529.8" y2="286.6" stroke="#262626" stroke-width="0.9"/>
<line x1="533" y1="285.4" x2="533" y2="286.6" stroke="#262626" stroke-width="0.9"/>
<line x1="539.5" y1="285.4" x2="539.5" y2="286.6" stroke="#262626" stroke-width="0.9"/>
<line x1="542.7" y1="285.4" x2="542.7" y2="286.6" stroke="#262626" stroke-width="0.9"/>
<line x1="546" y1="285.4" x2="546" y2="286.6" stroke="#262626" stroke-width="0.9"/>
<line x1="552.4" y1="285.4" x2="552.4" y2="286.6" stroke="#262626" stroke-width="0.9"/>
<line x1="555.7" y1="285.4" x2="555.7" y2="286.6" stroke="#262626" stroke-width="0.9"/>
<line x1="558.9" y1="285.4" x2="558.9" y2="286.6" stroke="#262626" stroke-width="0.9"/>
<line x1="565.4" y1="285.4" x2="565.4" y2="286.6" stroke="#262626" stroke-width="0.9"/>
<line x1="568.6" y1="285.4" x2="568.6" y2="286.6" stroke="#262626" stroke-width="0.9"/>
<line x1="571.9" y1="285.4" x2="571.9" y2="286.6" stroke="#262626" stroke-width="0.9"/>
<line x1="578.3" y1="285.4" x2="578.3" y2="286.6" stroke="#262626" stroke-width="0.9"/>
<line x1="581.6" y1="285.4" x2="581.6" y2="286.6" stroke="#262626" stroke-width="0.9"/>
<line x1="584.8" y1="285.4" x2="584.8" y2="286.6" stroke="#262626" stroke-width="0.9"/>
<line x1="591.3" y1="285.4" x2="591.3" y2="286.6" stroke="#262626" stroke-width="0.9"/>
<line x1="594.5" y1="285.4" x2="594.5" y2="286.6" stroke="#262626" stroke-width="0.9"/>
<line x1="597.8" y1="285.4" x2="597.8" y2="286.6" stroke="#262626" stroke-width="0.9"/>
<line x1="604.2" y1="285.4" x2="604.2" y2="286.6" stroke="#262626" stroke-width="0.9"/>
<line x1="607.5" y1="285.4" x2="607.5" y2="286.6" stroke="#262626" stroke-width="0.9"/>
<line x1="610.7" y1="285.4" x2="610.7" y2="286.6" stroke="#262626" stroke-width="0.9"/>
<line x1="617.2" y1="285.4" x2="617.2" y2="286.6" stroke="#262626" stroke-width="0.9"/>
<line x1="620.4" y1="285.4" x2="620.4" y2="286.6" stroke="#262626" stroke-width="0.9"/>
<line x1="623.7" y1="285.4" x2="623.7" y2="286.6" stroke="#262626" stroke-width="0.9"/>
<line x1="630.1" y1="285.4" x2="630.1" y2="286.6" stroke="#262626" stroke-width="0.9"/>
<line x1="633.4" y1="285.4" x2="633.4" y2="286.6" stroke="#262626" stroke-width="0.9"/>
<text x="562.5" y="305.8" font-size="6.8" text-anchor="middle" fill="#000">Height (mm)</text>
<text x="475.1" y="222.5" font-size="6.6" text-anchor="middle" fill="#000" transform="rotate(-90 475.1 222.5)">BS (%)</text>
<text x="472.5" y="165.5" font-size="9.6" text-anchor="start" fill="#000" style="stroke-width:0.35px">F</text>
<rect x="634.3" y="162.6" width="8.5" height="122.8" fill="url(#cbg)"/>
<text x="645.1" y="169.1" font-size="6.8" text-anchor="start" fill="#000">00h:00m:00s</text>
<text x="645.1" y="178.9" font-size="6.8" text-anchor="start" fill="#000">02h:00m:00s</text>
<text x="645.1" y="188.6" font-size="6.8" text-anchor="start" fill="#000">04h:00m:00s</text>
<text x="645.1" y="198.3" font-size="6.8" text-anchor="start" fill="#000">06h:00m:00s</text>
<text x="645.1" y="208.1" font-size="6.8" text-anchor="start" fill="#000">08h:00m:00s</text>
<text x="645.1" y="217.8" font-size="6.8" text-anchor="start" fill="#000">10h:00m:00s</text>
<text x="645.1" y="227.5" font-size="6.8" text-anchor="start" fill="#000">12h:00m:00s</text>
<text x="645.1" y="237.3" font-size="6.8" text-anchor="start" fill="#000">14h:00m:00s</text>
<text x="645.1" y="247" font-size="6.8" text-anchor="start" fill="#000">16h:00m:00s</text>
<text x="645.1" y="256.7" font-size="6.8" text-anchor="start" fill="#000">18h:00m:00s</text>
<text x="645.1" y="266.4" font-size="6.8" text-anchor="start" fill="#000">20h:00m:00s</text>
<text x="645.1" y="276.2" font-size="6.8" text-anchor="start" fill="#000">22h:00m:00s</text>
<text x="645.1" y="285.9" font-size="6.8" text-anchor="start" fill="#000">24h:00m:00s</text>
<g fill="none" stroke-linejoin="round" stroke-linecap="round">
<path d="M34.2,349.8L34.6,353.6L36,357.7L37,359.9L38,360.4L39,358.2L40,358.5L41,361.5L42,362.6L43,362.9L44,362.9L45,363.3L46,364.4L47,364L48,364.7L49,363.8L50,364.3L51,364.6L52,364.7L53,365L54,365L55,364.3L56,364.4L57,364.6L58,364.8L59,364.4L60,364.1L61,364L62,363.9L63,363.8L64,363.9L65,364L66,363.5L67,363.7L68,363.9L69,364.2L70,364.4L71,364.1L72,365L73,365L74,365.1L75,364.7L76,365.7L77,365.4L78,365.2L79,365.2L80,365.4L81,365.4L82,365.5L83,365.2L84,365.8L85,365.9L86,365.6L87,366.2L88,366.6L89,366.8L90,366.5L91,365.8L92,365.3L93,365.3L94,365.7L95,365.1L96,365.2L97,365.6L98,366.1L99,366.6L100,366.5L101,366.5L102,365.2L103,365L104,364.9L105,364.9L106,365L107,364.5L108,364.5L109,365.4L110,365.6L111,365.5L112,365.2L113,365.3L114,365.2L115,366L116,365.8L117,365.3L118,365.4L119,365.2L120,365.5L121,365.6L122,365.2L123,365.3L124,365.4L125,365.2L126,365.9L127,364.9L128,365.4L129,365.3L130,365.7L131,365.4L132,365L133,364.5L134,364.7L135,364.6L136,363.7L137,364.4L138,364L139,363.3L140,363.3L141,363.2L142,362.6L143,362.4L144,362.4L145,362L146,361.5L147,360.9L148,360.5L149,359.9L150,360.1L151,360.4L152,360.4L152.1,358.2" stroke="#8c00ff" stroke-width="1.91"/>
<path d="M152.1,358.2L153.4,360.1L154.3,371L154.8,379.5L155.4,391.6L156,412.1L156.2,414.1" stroke="#8c00ff" stroke-width="0.3"/>
<path d="M34.2,349.1L34.6,352.6L36,356.5L37,358.6L38,359.2L39,356.7L40,356.9L41,360.1L42,361.1L43,361.8L44,361.8L45,362.2L46,363.2L47,363L48,363.4L49,362.8L50,363.3L51,363.6L52,363.2L53,363.9L54,363.8L55,363.3L56,363.3L57,363.4L58,363.7L59,363.2L60,362.9L61,362.8L62,362.4L63,362.8L64,362.7L65,362.6L66,362.5L67,362.5L68,362.9L69,363.3L70,363.3L71,363.2L72,364.1L73,364L74,363.8L75,363.7L76,364.4L77,364.3L78,364.1L79,364L80,364.6L81,364.6L82,364.4L83,364.3L84,364.4L85,364.6L86,364.6L87,365.2L88,365.6L89,365.6L90,365.3L91,364.6L92,364L93,364L94,364.3L95,364.1L96,364.1L97,364.8L98,364.8L99,365.1L100,365L101,365L102,364.4L103,363.8L104,363.7L105,363.8L106,363.7L107,363.2L108,363.4L109,364.1L110,364.4L111,364.3L112,364L113,363.8L114,364.3L115,364.8L116,364.3L117,364.5L118,364.7L119,364.1L120,364.2L121,364.4L122,364.1L123,364L124,364.1L125,364.4L126,364.8L127,363.9L128,364.6L129,364.3L130,364.1L131,363.8L132,363.8L133,363.6L134,363.7L135,363.1L136,362.7L137,363.3L138,362.7L139,362.3L140,362L141,362.1L142,361.8L143,361.5L144,361.5L145,360.8L146,360.2L147,359.8L148,359.4L149,359L150,358.8L151,359L152,359.3L152.1,357.2" stroke="#6d03ff" stroke-width="1.91"/>
<path d="M152.1,357.2L153.4,359.1L154.3,370L154.8,378.5L155.4,390.6L156,411.1L156.3,414.1" stroke="#6d03ff" stroke-width="0.3"/>
<path d="M34.2,348.3L34.6,351.7L36,355.3L37,357.2L38,358.2L39,355.9L40,356.2L41,359.2L42,360.3L43,360.5L44,360.8L45,360.9L46,361.9L47,361.5L48,362.3L49,361.5L50,362.1L51,362.5L52,362.3L53,362.8L54,362.6L55,362.2L56,362.2L57,362.4L58,362.8L59,362.3L60,361.6L61,361.9L62,361.2L63,361.5L64,361.4L65,361.6L66,361L67,361.6L68,361.4L69,361.7L70,361.8L71,361.8L72,363L73,362.8L74,363L75,362.4L76,363.4L77,363.4L78,363L79,362.9L80,363.5L81,363.4L82,363.5L83,362.9L84,363.3L85,363.5L86,363.4L87,363.8L88,364.5L89,364.4L90,364.2L91,363.3L92,362.8L93,363L94,363.1L95,363.1L96,363L97,363.6L98,363.9L99,363.9L100,364.3L101,363.9L102,362.9L103,362.6L104,362.3L105,362.2L106,362.7L107,362.1L108,362.4L109,363.1L110,363.1L111,363.1L112,363L113,362.6L114,362.9L115,363.6L116,363.5L117,363.3L118,363.4L119,362.9L120,363.3L121,363.5L122,363.3L123,363.3L124,362.7L125,363.2L126,363.4L127,362.5L128,363.1L129,363.3L130,363.1L131,362.9L132,362.7L133,362.5L134,362.5L135,362.4L136,361.7L137,362.2L138,361.4L139,361L140,361.1L141,361L142,360.4L143,360.1L144,360.2L145,359.7L146,359.2L147,358.7L148,358.1L149,358.1L150,357.7L151,358.3L152,358.3L152.1,356.1" stroke="#3b1fff" stroke-width="1.91"/>
<path d="M152.1,356.1L153.4,358L154.3,368.9L154.8,377.4L155.4,389.5L156,410L156.4,414.1" stroke="#3b1fff" stroke-width="0.3"/>
<path d="M34.2,347.6L34.6,350.7L36,354.1L37,356L38,356.9L39,354.7L40,354.6L41,357.8L42,358.8L43,359.3L44,359.6L45,359.7L46,360.9L47,360.8L48,360.8L49,360.7L50,360.8L51,361.4L52,361.1L53,361.5L54,361.7L55,361L56,360.7L57,361.2L58,361.3L59,360.8L60,360.9L61,360.9L62,360.1L63,360.5L64,360.4L65,360L66,359.9L67,360.2L68,360.6L69,361L70,360.7L71,360.8L72,361.8L73,361.3L74,361.5L75,361.4L76,362.2L77,362.3L78,361.9L79,361.6L80,361.9L81,361.9L82,362.3L83,361.8L84,362.4L85,362.3L86,362.3L87,362.8L88,363L89,363.5L90,363L91,362.6L92,361.8L93,361.6L94,361.9L95,361.8L96,362L97,362.2L98,362.9L99,363.1L100,363L101,362.9L102,361.8L103,361.6L104,361.2L105,361.3L106,361.5L107,361.2L108,361.1L109,361.9L110,361.9L111,361.8L112,361.7L113,361.7L114,361.7L115,362.3L116,362.1L117,362.1L118,362.1L119,361.8L120,362.2L121,362L122,362.1L123,361.9L124,361.7L125,361.8L126,362.1L127,361.8L128,361.9L129,362.2L130,362L131,361.6L132,361.8L133,361.4L134,361.4L135,360.8L136,360.7L137,360.7L138,360.4L139,360L140,359.9L141,359.7L142,359.5L143,359.4L144,359.1L145,358.7L146,358.5L147,357.7L148,357.4L149,356.6L150,356.8L151,357.2L152,357.2L152.1,355.1" stroke="#2352ff" stroke-width="1.91"/>
<path d="M152.1,355.1L153.4,357L154.3,367.9L154.8,376.4L155.4,388.5L156,409L156.5,414.1" stroke="#2352ff" stroke-width="0.3"/>
<path d="M34.2,346.9L34.6,349.7L36,352.9L37,354.9L38,355.8L39,353.3L40,353.9L41,356.8L42,357.5L43,358.3L44,358.1L45,358.4L46,359.4L47,359.5L48,359.8L49,359.2L50,359.8L51,359.9L52,359.8L53,360.2L54,360.5L55,359.6L56,359.8L57,359.9L58,360.2L59,359.8L60,359.4L61,359.5L62,359.2L63,358.9L64,359L65,358.9L66,358.9L67,358.9L68,359.3L69,359.4L70,359.7L71,359.6L72,360.5L73,360.5L74,360.7L75,360.3L76,361.1L77,361.1L78,360.4L79,360.9L80,361.2L81,360.8L82,361.2L83,360.8L84,361.1L85,361.2L86,361L87,361.7L88,362.1L89,362L90,361.9L91,361.4L92,360.2L93,360.4L94,360.8L95,360.8L96,360.9L97,361.4L98,361.7L99,361.6L100,361.6L101,361.5L102,360.7L103,360.2L104,360.1L105,360.3L106,360.3L107,360.1L108,360.2L109,360.7L110,360.9L111,360.6L112,360.6L113,360.4L114,360.8L115,361.3L116,361L117,360.7L118,361.1L119,360.6L120,360.6L121,360.9L122,360.8L123,361L124,360.7L125,360.6L126,361.3L127,360.5L128,360.9L129,360.6L130,360.7L131,360.5L132,360.5L133,360L134,360.1L135,359.9L136,359.5L137,359.8L138,359.4L139,358.7L140,359.1L141,358.9L142,358.6L143,358.3L144,357.9L145,357.6L146,357L147,356.9L148,356.2L149,356L150,355.8L151,356.2L152,356.2L152.1,354" stroke="#1693ff" stroke-width="1.91"/>
<path d="M152.1,354L153.4,355.9L154.3,366.8L154.8,375.3L155.4,387.4L156,407.9L156.6,414.1" stroke="#1693ff" stroke-width="0.3"/>
<path d="M34.2,346.1L34.6,348.8L36,351.7L37,354L38,354.5L39,352.1L40,352.7L41,355.7L42,356.6L43,357.1L44,357L45,357.6L46,358.3L47,358L48,358.7L49,357.9L50,358.7L51,359L52,358.6L53,359.2L54,359.1L55,358.7L56,358.6L57,358.7L58,358.9L59,358.5L60,358.3L61,358.4L62,358.2L63,357.8L64,357.8L65,358L66,357.7L67,358L68,358.2L69,358.5L70,358.7L71,358.4L72,359.4L73,359L74,359.3L75,359.1L76,359.8L77,359.6L78,359.3L79,359.4L80,359.7L81,359.7L82,359.9L83,359.4L84,360L85,360.1L86,360.1L87,360.2L88,360.7L89,360.9L90,360.5L91,360.2L92,359.3L93,359.4L94,360.1L95,359.8L96,359.7L97,359.9L98,360.5L99,360.3L100,360.8L101,360.7L102,359.8L103,359.1L104,359.1L105,358.8L106,359.3L107,358.7L108,358.7L109,359.3L110,359.8L111,359.5L112,359.5L113,359.4L114,359.7L115,360.2L116,359.6L117,359.4L118,359.8L119,359.2L120,359.6L121,360L122,359.5L123,359.6L124,359.3L125,359.4L126,359.8L127,359.1L128,359.8L129,359.9L130,359.4L131,359.4L132,359.3L133,359.1L134,358.8L135,359L136,358.2L137,358.8L138,358.2L139,357.9L140,358L141,357.7L142,357.2L143,357.3L144,356.8L145,356.8L146,356.3L147,355.6L148,355.2L149,355L150,354.7L151,355.1L152,355.1L152.1,353" stroke="#00e6fc" stroke-width="1.91"/>
<path d="M152.1,353L153.4,354.9L154.3,365.8L154.8,374.3L155.4,386.4L156,406.9L156.7,414.1" stroke="#00e6fc" stroke-width="0.3"/>
<path d="M34.2,345.4L34.6,347.8L36,350.5L37,352.4L38,353.4L39,351.2L40,351.6L41,354.2L42,355.6L43,355.9L44,356L45,356.4L46,357L47,357.2L48,357.4L49,356.8L50,357.3L51,357.9L52,357.6L53,358.3L54,358.2L55,357.4L56,357.3L57,357.8L58,358.2L59,357.3L60,357.2L61,357L62,356.5L63,356.6L64,356.7L65,356.8L66,356.8L67,356.9L68,357.2L69,357.2L70,357.5L71,357.3L72,358L73,358L74,358.4L75,357.9L76,358.4L77,358.6L78,358.2L79,358.4L80,358.5L81,358.5L82,358.6L83,358.4L84,358.6L85,358.7L86,358.8L87,359.3L88,359.7L89,359.9L90,359.3L91,359.1L92,357.9L93,358.1L94,358.5L95,358.4L96,358.3L97,358.8L98,359L99,359.5L100,359.2L101,359.5L102,358.7L103,357.8L104,357.9L105,358L106,357.9L107,357.9L108,357.5L109,358.3L110,358.7L111,358.3L112,358.4L113,358.4L114,358.6L115,358.8L116,358.7L117,358.7L118,358.8L119,358L120,358.3L121,358.8L122,358.3L123,358.3L124,358.5L125,358.5L126,359L127,358.3L128,358.7L129,358.5L130,358.4L131,358.1L132,358.1L133,357.9L134,357.9L135,357.4L136,357.2L137,357.5L138,357.4L139,356.6L140,356.9L141,356.6L142,356.4L143,355.9L144,355.8L145,355.5L146,355L147,354.7L148,354.2L149,353.7L150,353.5L151,353.7L152,354.1L152.1,351.9" stroke="#00fb8b" stroke-width="1.91"/>
<path d="M152.1,351.9L153.4,353.9L154.3,364.8L154.8,373.2L155.4,385.4L156,405.9L156.8,414.1" stroke="#00fb8b" stroke-width="0.3"/>
<path d="M34.2,344.7L34.6,346.8L36,349.3L37,351.4L38,352.3L39,349.9L40,350.2L41,353.2L42,354.2L43,354.6L44,354.9L45,355.3L46,355.8L47,355.7L48,356.3L49,355.7L50,356.1L51,356.8L52,356.6L53,356.9L54,357.1L55,356.2L56,356.2L57,356.5L58,356.9L59,356.5L60,356L61,356L62,355.8L63,355.8L64,355.7L65,355.4L66,355.2L67,355.5L68,355.5L69,356.1L70,356.1L71,356L72,356.7L73,356.9L74,357.2L75,356.6L76,357.6L77,357.4L78,356.8L79,357.4L80,357.3L81,357.4L82,357.4L83,357.1L84,357.5L85,357.6L86,357.6L87,358.3L88,358.5L89,358.6L90,358.3L91,357.8L92,357.1L93,357.1L94,357.6L95,357L96,357.1L97,357.8L98,358.2L99,358.2L100,358L101,358.3L102,357.1L103,356.7L104,356.8L105,356.8L106,356.9L107,356.3L108,356.7L109,356.9L110,357.6L111,357.3L112,357.2L113,357.2L114,357.4L115,357.8L116,357.7L117,357.1L118,357.3L119,357.2L120,357.1L121,357.8L122,357.3L123,357.4L124,356.9L125,357.4L126,357.7L127,357.1L128,357.3L129,357.2L130,357.5L131,357.3L132,357.1L133,356.5L134,356.8L135,356.6L136,356.2L137,356.7L138,356.1L139,355.8L140,355.5L141,355.3L142,355.4L143,355.2L144,354.6L145,354.5L146,354.2L147,353.6L148,352.8L149,352.6L150,352.8L151,352.7L152,353.1L152.1,350.9" stroke="#1ce736" stroke-width="1.91"/>
<path d="M152.1,350.9L153.4,352.8L154.3,363.7L154.8,372.2L155.4,384.3L156,404.8L156.9,414.1" stroke="#1ce736" stroke-width="0.3"/>
<path d="M34.2,343.9L34.6,345.9L36,348.1L37,350L38,351.3L39,348.7L40,349L41,351.8L42,353L43,353.4L44,353.5L45,354L46,355L47,354.7L48,355.3L49,354.6L50,355.3L51,355.4L52,355.4L53,355.6L54,355.7L55,355.2L56,354.8L57,355.5L58,355.4L59,355.3L60,354.7L61,354.7L62,354.4L63,354.3L64,354.5L65,354.4L66,354.4L67,354.4L68,354.7L69,354.9L70,355.1L71,355.1L72,355.7L73,355.8L74,355.9L75,355.7L76,356.4L77,356.2L78,355.8L79,356.2L80,356.4L81,356.3L82,356.7L83,356.3L84,356.5L85,356.3L86,356.4L87,356.8L88,357.3L89,357.4L90,357L91,356.8L92,355.6L93,355.8L94,356.4L95,355.8L96,356L97,356.5L98,357L99,356.9L100,357.1L101,357.3L102,356.2L103,355.6L104,355.4L105,355.7L106,355.8L107,355.5L108,355.3L109,355.8L110,356.4L111,356.2L112,356.1L113,355.7L114,356.2L115,356.6L116,356.5L117,356.3L118,356.2L119,355.7L120,356L121,356.6L122,356.1L123,355.9L124,356L125,356L126,356.4L127,355.9L128,356.3L129,356.2L130,356.2L131,356.2L132,356.1L133,355.6L134,355.4L135,355.4L136,354.8L137,355.1L138,354.8L139,354.5L140,354.7L141,354.3L142,354.2L143,353.9L144,353.9L145,353.4L146,353.1L147,352.4L148,351.7L149,351.8L150,351.7L151,352L152,352L152.1,349.9" stroke="#89dd06" stroke-width="1.91"/>
<path d="M152.1,349.9L153.4,351.8L154.3,362.7L154.8,371.2L155.4,383.3L156,403.8L157,414L157,414.1" stroke="#89dd06" stroke-width="0.3"/>
<path d="M34.2,343.2L34.6,344.9L36,346.9L37,349L38,350.1L39,347.9L40,348L41,350.7L42,351.7L43,352L44,352.5L45,352.9L46,353.5L47,353.5L48,353.7L49,353.7L50,353.7L51,354.2L52,353.9L53,354.8L54,354.6L55,354L56,353.9L57,354.3L58,354.6L59,353.7L60,353.6L61,353.5L62,353.3L63,353.1L64,353.4L65,353.3L66,353.2L67,353.4L68,353.2L69,353.6L70,353.8L71,353.9L72,354.7L73,354.4L74,354.9L75,354.5L76,355.1L77,355.2L78,354.9L79,355L80,355.3L81,355L82,355.1L83,354.7L84,355.3L85,355.4L86,355.1L87,355.8L88,356L89,356.4L90,356.1L91,355.6L92,354.5L93,354.6L94,355.1L95,354.9L96,354.9L97,355.4L98,355.7L99,356.1L100,355.8L101,355.9L102,354.9L103,354.5L104,354.2L105,354.3L106,354.5L107,354.4L108,354.3L109,355L110,355L111,354.8L112,354.7L113,354.4L114,355.1L115,355.4L116,355.4L117,354.8L118,355.4L119,354.9L120,355.2L121,355.1L122,354.9L123,355.1L124,354.9L125,354.8L126,355.1L127,354.9L128,355.2L129,355L130,355L131,354.7L132,354.7L133,354.7L134,354.2L135,354.4L136,354L137,354.2L138,354L139,353.4L140,353.5L141,353.3L142,352.9L143,353L144,352.8L145,352.3L146,352L147,351.3L148,350.6L149,350.5L150,350.7L151,350.7L152,351L152.1,348.8" stroke="#ffcf00" stroke-width="1.91"/>
<path d="M152.1,348.8L153.4,350.7L154.3,361.6L154.8,370.1L155.4,382.2L156,402.7L157,412.9L157.1,414.1" stroke="#ffcf00" stroke-width="0.3"/>
<path d="M34.2,342.5L34.6,343.9L36,345.7L37,347.6L38,348.6L39,347L40,346.7L41,349.2L42,350.6L43,350.9L44,351.2L45,351.6L46,352.2L47,352.5L48,352.6L49,352.1L50,352.9L51,353.3L52,352.9L53,353.3L54,353.4L55,352.9L56,352.9L57,353.1L58,353.2L59,352.8L60,352.7L61,352.4L62,352.1L63,352L64,352.4L65,352.3L66,351.8L67,352.2L68,352.5L69,352.5L70,352.6L71,352.6L72,353.6L73,353.3L74,353.7L75,353.2L76,354.1L77,354.2L78,353.6L79,353.5L80,354.2L81,354.2L82,354.1L83,354L84,354.3L85,354.4L86,354.3L87,354.5L88,354.9L89,355.1L90,354.6L91,354.2L92,353.3L93,353.4L94,353.9L95,353.6L96,353.9L97,354.2L98,354.8L99,354.9L100,354.6L101,354.9L102,353.9L103,353.6L104,353.3L105,353.1L106,353.1L107,353L108,353L109,353.5L110,354L111,353.6L112,353.6L113,353.4L114,353.9L115,354L116,353.9L117,353.7L118,354.1L119,353.7L120,354L121,354.2L122,353.6L123,353.9L124,353.8L125,354.1L126,354L127,353.5L128,353.8L129,354L130,354L131,353.9L132,353.6L133,353.4L134,353.2L135,352.9L136,352.7L137,353L138,352.8L139,352.2L140,352.3L141,351.9L142,351.8L143,351.9L144,351.4L145,351.3L146,351L147,350.6L148,349.8L149,349.3L150,349.6L151,349.9L152,349.9L152.1,347.8" stroke="#ff7d00" stroke-width="1.91"/>
<path d="M152.1,347.8L153.4,349.7L154.3,360.6L154.8,369.1L155.4,381.2L156,401.7L157,411.9L157.2,414.1" stroke="#ff7d00" stroke-width="0.3"/>
<path d="M34.2,341.7L34.6,343L36,344.5L37,346.7L38,347.8L39,345.7L40,345.8L41,348.2L42,349.1L43,349.7L44,349.9L45,350.3L46,351.5L47,351.1L48,351.5L49,351.3L50,351.5L51,351.9L52,351.6L53,352.2L54,352L55,351.6L56,351.5L57,351.7L58,352L59,351.7L60,351.3L61,351.6L62,351.2L63,350.9L64,351.1L65,350.8L66,350.6L67,351.1L68,351.3L69,351.3L70,351.4L71,351.6L72,352.1L73,352L74,352.3L75,352.1L76,352.7L77,352.8L78,352.3L79,352.5L80,353L81,352.9L82,352.9L83,352.6L84,353.1L85,353.2L86,353.1L87,353.5L88,353.8L89,354L90,353.4L91,353.4L92,352.2L93,352.3L94,352.9L95,352.4L96,352.8L97,353L98,353.5L99,353.6L100,353.4L101,353.6L102,352.7L103,351.9L104,351.9L105,352L106,352.2L107,351.8L108,351.9L109,352.6L110,352.6L111,352.4L112,352.4L113,352.6L114,352.6L115,352.8L116,352.7L117,352.7L118,353.1L119,352.5L120,352.7L121,352.8L122,352.6L123,352.8L124,352.7L125,352.6L126,353.1L127,352.4L128,352.9L129,352.6L130,352.6L131,352.5L132,352.5L133,352.1L134,351.9L135,352.2L136,351.5L137,352L138,351.5L139,351.4L140,351.3L141,351.2L142,350.7L143,350.7L144,350.5L145,350.1L146,349.9L147,349.1L148,348.9L149,348.3L150,348.6L151,348.7L152,348.9L152.1,346.7" stroke="#ff3400" stroke-width="1.91"/>
<path d="M152.1,346.7L153.4,348.6L154.3,359.5L154.8,368L155.4,380.1L156,400.6L157,410.8L157.3,414.1" stroke="#ff3400" stroke-width="0.3"/>
<path d="M34.6,342L36,343.2L37,345.3L38,346.4L39,344.5L40,344.5L41,347L42,348.1L43,348.7L44,348.7L45,349.1L46,350.1L47,350L48,350.3L49,350L50,350.4L51,350.8L52,350.6L53,351.1L54,351L55,350.4L56,350.3L57,350.7L58,350.9L59,350.4L60,350.2L61,350.2L62,349.8L63,349.8L64,349.8L65,349.8L66,349.6L67,349.8L68,349.9L69,350.3L70,350.4L71,350.4L72,351.1L73,351L74,351.2L75,351L76,351.6L77,351.7L78,351.2L79,351.4L80,351.7L81,351.6L82,351.8L83,351.4L84,351.7L85,351.8L86,351.8L87,352.2L88,352.7L89,352.9L90,352.4L91,352L92,351.2L93,351.3L94,351.7L95,351.4L96,351.5L97,351.9L98,352.3L99,352.4L100,352.4L101,352.5L102,351.5L103,351L104,350.9L105,350.9L106,351L107,350.7L108,350.8L109,351.3L110,351.6L111,351.4L112,351.3L113,351.2L114,351.5L115,351.8L116,351.7L117,351.5L118,351.8L119,351.3L120,351.5L121,351.8L122,351.6L123,351.5L124,351.3L125,351.5L126,351.8L127,351.2L128,351.6L129,351.6L130,351.5L131,351.4L132,351.3L133,351.1L134,351L135,350.8L136,350.5L137,350.9L138,350.5L139,350.1L140,350.1L141,350L142,349.7L143,349.5L144,349.5L145,349.1L146,348.8L147,348.3L148,347.6L149,347.4L150,347.4L151,347.7L152,347.9L152.1,345.7" stroke="#ff1010" stroke-width="1.3"/>
<path d="M33.6,358L34.1,327.1L34.5,341.2" stroke="#ff1a1a" stroke-width="1.0"/>
<path d="M26.9,431.2L27.7,416.6L28.6,401.2L29.4,388.3L30.3,385.7L31.1,377.2L32.3,366.9L33.4,360L33.5,358.5L33.6,358L34.1,327.1L34.5,341.2L34.6,342L36,343.2L37,345.3L38,346.4L39,344.5L40,344.5L41,347L42,348.1L43,348.7L44,348.7L45,349.1L46,350.1L47,350L48,350.3L49,350L50,350.4L51,350.8L52,350.6L53,351.1L54,351L55,350.4L56,350.3L57,350.7L58,350.9L59,350.4L60,350.2L61,350.2L62,349.8L63,349.8L64,349.8L65,349.8L66,349.6L67,349.8L68,349.9L69,350.3L70,350.4L71,350.4L72,351.1L73,351L74,351.2L75,351L76,351.6L77,351.7L78,351.2L79,351.4L80,351.7L81,351.6L82,351.8L83,351.4L84,351.7L85,351.8L86,351.8L87,352.2L88,352.7L89,352.9L90,352.4L91,352L92,351.2L93,351.3L94,351.7L95,351.4L96,351.5L97,351.9L98,352.3L99,352.4L100,352.4L101,352.5L102,351.5L103,351L104,350.9L105,350.9L106,351L107,350.7L108,350.8L109,351.3L110,351.6L111,351.4L112,351.3L113,351.2L114,351.5L115,351.8L116,351.7L117,351.5L118,351.8L119,351.3L120,351.5L121,351.8L122,351.6L123,351.5L124,351.3L125,351.5L126,351.8L127,351.2L128,351.6L129,351.6L130,351.5L131,351.4L132,351.3L133,351.1L134,351L135,350.8L136,350.5L137,350.9L138,350.5L139,350.1L140,350.1L141,350L142,349.7L143,349.5L144,349.5L145,349.1L146,348.8L147,348.3L148,347.6L149,347.4L150,347.4L151,347.7L152,347.9L152.1,345.7L153.4,347.6L154.3,358.5L154.8,367L155.4,379.1L156,399.6L157,409.8L157.4,414.1" stroke="#ff3838" stroke-width="1.0"/>
</g>
<line x1="20.4" y1="317.6" x2="20.4" y2="440.8" stroke="#262626" stroke-width="0.9"/>
<line x1="19.9" y1="440.3" x2="163.2" y2="440.3" stroke="#262626" stroke-width="0.9"/>
<line x1="18.2" y1="440.3" x2="20.4" y2="440.3" stroke="#262626" stroke-width="0.9"/>
<text x="15.8" y="442.6" font-size="6.5" text-anchor="end" fill="#000">0</text>
<line x1="18.2" y1="423.9" x2="20.4" y2="423.9" stroke="#262626" stroke-width="0.9"/>
<text x="15.8" y="426.2" font-size="6.5" text-anchor="end" fill="#000">2</text>
<line x1="18.2" y1="407.6" x2="20.4" y2="407.6" stroke="#262626" stroke-width="0.9"/>
<text x="15.8" y="409.9" font-size="6.5" text-anchor="end" fill="#000">4</text>
<line x1="18.2" y1="391.2" x2="20.4" y2="391.2" stroke="#262626" stroke-width="0.9"/>
<text x="15.8" y="393.5" font-size="6.5" text-anchor="end" fill="#000">6</text>
<line x1="18.2" y1="374.9" x2="20.4" y2="374.9" stroke="#262626" stroke-width="0.9"/>
<text x="15.8" y="377.2" font-size="6.5" text-anchor="end" fill="#000">8</text>
<line x1="18.2" y1="358.5" x2="20.4" y2="358.5" stroke="#262626" stroke-width="0.9"/>
<text x="15.8" y="360.8" font-size="6.5" text-anchor="end" fill="#000">10</text>
<line x1="18.2" y1="342.1" x2="20.4" y2="342.1" stroke="#262626" stroke-width="0.9"/>
<text x="15.8" y="344.4" font-size="6.5" text-anchor="end" fill="#000">12</text>
<line x1="18.2" y1="325.8" x2="20.4" y2="325.8" stroke="#262626" stroke-width="0.9"/>
<text x="15.8" y="328.1" font-size="6.5" text-anchor="end" fill="#000">14</text>
<line x1="19.2" y1="432.1" x2="20.4" y2="432.1" stroke="#262626" stroke-width="0.9"/>
<line x1="19.2" y1="415.8" x2="20.4" y2="415.8" stroke="#262626" stroke-width="0.9"/>
<line x1="19.2" y1="399.4" x2="20.4" y2="399.4" stroke="#262626" stroke-width="0.9"/>
<line x1="19.2" y1="383" x2="20.4" y2="383" stroke="#262626" stroke-width="0.9"/>
<line x1="19.2" y1="366.7" x2="20.4" y2="366.7" stroke="#262626" stroke-width="0.9"/>
<line x1="19.2" y1="350.3" x2="20.4" y2="350.3" stroke="#262626" stroke-width="0.9"/>
<line x1="19.2" y1="334" x2="20.4" y2="334" stroke="#262626" stroke-width="0.9"/>
<line x1="19.2" y1="317.6" x2="20.4" y2="317.6" stroke="#262626" stroke-width="0.9"/>
<line x1="26.9" y1="440.3" x2="26.9" y2="442.5" stroke="#262626" stroke-width="0.9"/>
<text x="26.9" y="449.6" font-size="6.5" text-anchor="middle" fill="#000">0</text>
<line x1="39.8" y1="440.3" x2="39.8" y2="442.5" stroke="#262626" stroke-width="0.9"/>
<text x="39.8" y="449.6" font-size="6.5" text-anchor="middle" fill="#000">4</text>
<line x1="52.8" y1="440.3" x2="52.8" y2="442.5" stroke="#262626" stroke-width="0.9"/>
<text x="52.8" y="449.6" font-size="6.5" text-anchor="middle" fill="#000">8</text>
<line x1="65.8" y1="440.3" x2="65.8" y2="442.5" stroke="#262626" stroke-width="0.9"/>
<text x="65.8" y="449.6" font-size="6.5" text-anchor="middle" fill="#000">12</text>
<line x1="78.7" y1="440.3" x2="78.7" y2="442.5" stroke="#262626" stroke-width="0.9"/>
<text x="78.7" y="449.6" font-size="6.5" text-anchor="middle" fill="#000">16</text>
<line x1="91.7" y1="440.3" x2="91.7" y2="442.5" stroke="#262626" stroke-width="0.9"/>
<text x="91.7" y="449.6" font-size="6.5" text-anchor="middle" fill="#000">20</text>
<line x1="104.6" y1="440.3" x2="104.6" y2="442.5" stroke="#262626" stroke-width="0.9"/>
<text x="104.6" y="449.6" font-size="6.5" text-anchor="middle" fill="#000">24</text>
<line x1="117.5" y1="440.3" x2="117.5" y2="442.5" stroke="#262626" stroke-width="0.9"/>
<text x="117.5" y="449.6" font-size="6.5" text-anchor="middle" fill="#000">28</text>
<line x1="130.5" y1="440.3" x2="130.5" y2="442.5" stroke="#262626" stroke-width="0.9"/>
<text x="130.5" y="449.6" font-size="6.5" text-anchor="middle" fill="#000">32</text>
<line x1="143.4" y1="440.3" x2="143.4" y2="442.5" stroke="#262626" stroke-width="0.9"/>
<text x="143.4" y="449.6" font-size="6.5" text-anchor="middle" fill="#000">36</text>
<line x1="156.4" y1="440.3" x2="156.4" y2="442.5" stroke="#262626" stroke-width="0.9"/>
<text x="156.4" y="449.6" font-size="6.5" text-anchor="middle" fill="#000">40</text>
<line x1="20.4" y1="440.3" x2="20.4" y2="441.5" stroke="#262626" stroke-width="0.9"/>
<line x1="23.7" y1="440.3" x2="23.7" y2="441.5" stroke="#262626" stroke-width="0.9"/>
<line x1="30.1" y1="440.3" x2="30.1" y2="441.5" stroke="#262626" stroke-width="0.9"/>
<line x1="33.4" y1="440.3" x2="33.4" y2="441.5" stroke="#262626" stroke-width="0.9"/>
<line x1="36.6" y1="440.3" x2="36.6" y2="441.5" stroke="#262626" stroke-width="0.9"/>
<line x1="43.1" y1="440.3" x2="43.1" y2="441.5" stroke="#262626" stroke-width="0.9"/>
<line x1="46.3" y1="440.3" x2="46.3" y2="441.5" stroke="#262626" stroke-width="0.9"/>
<line x1="49.6" y1="440.3" x2="49.6" y2="441.5" stroke="#262626" stroke-width="0.9"/>
<line x1="56" y1="440.3" x2="56" y2="441.5" stroke="#262626" stroke-width="0.9"/>
<line x1="59.3" y1="440.3" x2="59.3" y2="441.5" stroke="#262626" stroke-width="0.9"/>
<line x1="62.5" y1="440.3" x2="62.5" y2="441.5" stroke="#262626" stroke-width="0.9"/>
<line x1="69" y1="440.3" x2="69" y2="441.5" stroke="#262626" stroke-width="0.9"/>
<line x1="72.2" y1="440.3" x2="72.2" y2="441.5" stroke="#262626" stroke-width="0.9"/>
<line x1="75.5" y1="440.3" x2="75.5" y2="441.5" stroke="#262626" stroke-width="0.9"/>
<line x1="81.9" y1="440.3" x2="81.9" y2="441.5" stroke="#262626" stroke-width="0.9"/>
<line x1="85.2" y1="440.3" x2="85.2" y2="441.5" stroke="#262626" stroke-width="0.9"/>
<line x1="88.4" y1="440.3" x2="88.4" y2="441.5" stroke="#262626" stroke-width="0.9"/>
<line x1="94.9" y1="440.3" x2="94.9" y2="441.5" stroke="#262626" stroke-width="0.9"/>
<line x1="98.1" y1="440.3" x2="98.1" y2="441.5" stroke="#262626" stroke-width="0.9"/>
<line x1="101.4" y1="440.3" x2="101.4" y2="441.5" stroke="#262626" stroke-width="0.9"/>
<line x1="107.8" y1="440.3" x2="107.8" y2="441.5" stroke="#262626" stroke-width="0.9"/>
<line x1="111.1" y1="440.3" x2="111.1" y2="441.5" stroke="#262626" stroke-width="0.9"/>
<line x1="114.3" y1="440.3" x2="114.3" y2="441.5" stroke="#262626" stroke-width="0.9"/>
<line x1="120.8" y1="440.3" x2="120.8" y2="441.5" stroke="#262626" stroke-width="0.9"/>
<line x1="124" y1="440.3" x2="124" y2="441.5" stroke="#262626" stroke-width="0.9"/>
<line x1="127.3" y1="440.3" x2="127.3" y2="441.5" stroke="#262626" stroke-width="0.9"/>
<line x1="133.7" y1="440.3" x2="133.7" y2="441.5" stroke="#262626" stroke-width="0.9"/>
<line x1="137" y1="440.3" x2="137" y2="441.5" stroke="#262626" stroke-width="0.9"/>
<line x1="140.2" y1="440.3" x2="140.2" y2="441.5" stroke="#262626" stroke-width="0.9"/>
<line x1="146.7" y1="440.3" x2="146.7" y2="441.5" stroke="#262626" stroke-width="0.9"/>
<line x1="149.9" y1="440.3" x2="149.9" y2="441.5" stroke="#262626" stroke-width="0.9"/>
<line x1="153.2" y1="440.3" x2="153.2" y2="441.5" stroke="#262626" stroke-width="0.9"/>
<line x1="159.6" y1="440.3" x2="159.6" y2="441.5" stroke="#262626" stroke-width="0.9"/>
<line x1="162.9" y1="440.3" x2="162.9" y2="441.5" stroke="#262626" stroke-width="0.9"/>
<text x="91.8" y="460.7" font-size="6.8" text-anchor="middle" fill="#000">Height (mm)</text>
<text x="4.8" y="377.5" font-size="6.6" text-anchor="middle" fill="#000" transform="rotate(-90 4.8 377.5)">BS (%)</text>
<text x="1.3" y="321.7" font-size="9.6" text-anchor="start" fill="#000" style="stroke-width:0.35px">G</text>
<rect x="163.2" y="317.6" width="8.5" height="122.7" fill="url(#cbg)"/>
<text x="174" y="324.2" font-size="6.8" text-anchor="start" fill="#000">00h:00m:00s</text>
<text x="174" y="333.9" font-size="6.8" text-anchor="start" fill="#000">02h:00m:00s</text>
<text x="174" y="343.6" font-size="6.8" text-anchor="start" fill="#000">04h:00m:00s</text>
<text x="174" y="353.3" font-size="6.8" text-anchor="start" fill="#000">06h:00m:00s</text>
<text x="174" y="363.1" font-size="6.8" text-anchor="start" fill="#000">08h:00m:00s</text>
<text x="174" y="372.8" font-size="6.8" text-anchor="start" fill="#000">10h:00m:00s</text>
<text x="174" y="382.5" font-size="6.8" text-anchor="start" fill="#000">12h:00m:00s</text>
<text x="174" y="392.3" font-size="6.8" text-anchor="start" fill="#000">14h:00m:00s</text>
<text x="174" y="402" font-size="6.8" text-anchor="start" fill="#000">16h:00m:00s</text>
<text x="174" y="411.7" font-size="6.8" text-anchor="start" fill="#000">18h:00m:00s</text>
<text x="174" y="421.5" font-size="6.8" text-anchor="start" fill="#000">20h:00m:00s</text>
<text x="174" y="431.2" font-size="6.8" text-anchor="start" fill="#000">22h:00m:00s</text>
<text x="174" y="440.9" font-size="6.8" text-anchor="start" fill="#000">24h:00m:00s</text>
<g fill="none" stroke-width="2.6" stroke-linecap="round" stroke-linejoin="round">
<path d="M236.6,448.1L238.6,446.9L240.6,445.8L242.6,444.7L244.6,443.5L246.6,442.5L248.6,441.5L250.6,440.5L252.6,439.5L254.6,438.5L256.6,437.5L258.6,436.5L260.6,435.5L262.6,434.7L264.6,433.9L266.6,433.2L268.6,432.5L270.6,432L272.6,431.4L274.6,430.8L276.6,430.2L278.6,429.6L280.6,429L282.6,428.4L284.6,427.8L286.6,427.2L288.6,426.6L290.6,426L292.6,425.4L294.6,424.8L296.6,424.2L298.6,423.6L300.6,423L302.6,422.4L304.6,421.8L306.6,421.2L308.6,420.6L310.6,420L312.6,419.4L314.6,418.9L316.6,418.3L318.6,417.8L320.6,417.3L322.6,416.7L324.6,416.2L326.6,415.7L328.6,415.2L330.6,414.7L332.6,414.2L334.6,413.7L336.6,413.2L338.6,412.8L340.6,412.4L342.6,412L344.6,411.7L346.6,411.3L348.6,411L350.6,410.7L352.6,410.3L354.6,410L356.6,409.6L358.6,409.2" stroke="#000"/>
<path d="M236.6,448.1L238.6,446.8L240.6,445.4L242.6,444.1L244.6,442.7L246.6,441.3L248.6,439.9L250.6,438.4L252.6,436.8L254.6,435.1L256.6,433.6L258.6,432.2L260.6,431L262.6,430.1L264.6,429.5L266.6,428.9L268.6,428.4L270.6,427.8L272.6,427.2L274.6,426.4L276.6,425.6L278.6,424.7L280.6,423.9L282.6,423.1L284.6,422.3L286.6,421.5L288.6,420.7L290.6,419.8L292.6,419L294.6,418.1L296.6,417.2L298.6,416.4L300.6,415.5L302.6,414.7L304.6,414L306.6,413.2L308.6,412.5L310.6,411.8L312.6,411.2L314.6,410.5L316.6,409.9L318.6,409.2L320.6,408.6L322.6,408L324.6,407.5L326.6,406.9L328.6,406.4L330.6,405.9L332.6,405.4L334.6,405L336.6,404.5L338.6,404.1L340.6,403.7L342.6,403.2L344.6,402.8L346.6,402.4L348.6,402L350.6,401.7L352.6,401.2L354.6,400.8L356.6,400.3L358.6,399.8" stroke="#ff0000"/>
<path d="M236.6,448.1L238.6,445.2L240.6,442.7L242.6,440.6L244.6,438.8L246.6,437.1L248.6,435.5L250.6,434L252.6,432.7L254.6,431.4L256.6,430.2L258.6,428.9L260.6,427.6L262.6,426.3L264.6,424.9L266.6,423.5L268.6,422.2L270.6,421L272.6,419.8L274.6,418.8L276.6,417.8L278.6,416.8L280.6,415.9L282.6,414.9L284.6,413.8L286.6,412.8L288.6,411.7L290.6,410.6L292.6,409.4L294.6,408.3L296.6,407.1L298.6,406L300.6,404.9L302.6,403.8L304.6,402.8L306.6,401.7L308.6,400.8L310.6,399.9L312.6,399L314.6,398.2L316.6,397.3L318.6,396.5L320.6,395.8L322.6,395L324.6,394.3L326.6,393.5L328.6,392.8L330.6,392.1L332.6,391.4L334.6,390.8L336.6,390.2L338.6,389.6L340.6,389.1L342.6,388.7L344.6,388.3L346.6,387.9L348.6,387.5L350.6,387.1L352.6,386.7L354.6,386.3L356.6,385.7L358.6,385" stroke="#0000ff"/>
<path d="M236.6,448.1L238.6,445.5L240.6,443.2L242.6,441.1L244.6,439.3L246.6,437.6L248.6,435.9L250.6,434.1L252.6,432.2L254.6,430.1L256.6,428.2L258.6,426.2L260.6,424.3L262.6,422.5L264.6,420.8L266.6,419.2L268.6,417.7L270.6,416.2L272.6,414.8L274.6,413.4L276.6,412.1L278.6,410.9L280.6,409.6L282.6,408.4L284.6,407.2L286.6,405.9L288.6,404.7L290.6,403.4L292.6,402.1L294.6,400.8L296.6,399.5L298.6,398.3L300.6,397L302.6,395.8L304.6,394.6L306.6,393.4L308.6,392.3L310.6,391.2L312.6,390.1L314.6,389.1L316.6,388.1L318.6,387L320.6,386L322.6,385L324.6,384L326.6,383L328.6,382L330.6,381L332.6,380L334.6,379L336.6,378.1L338.6,377.2L340.6,376.4L342.6,375.7L344.6,375L346.6,374.3L348.6,373.7L350.6,373L352.6,372.4L354.6,371.7L356.6,370.9L358.6,370" stroke="#008000"/>
<path d="M236.6,448.1L238.6,444.9L240.6,441.9L242.6,439.5L244.6,437.4L246.6,435.4L248.6,433.3L250.6,430.6L252.6,427.6L254.6,425L256.6,422.7L258.6,420.4L260.6,418.3L262.6,416.3L264.6,414.3L266.6,412.3L268.6,410.3L270.6,408.3L272.6,406.3L274.6,404.3L276.6,402.3L278.6,400.3L280.6,398.4L282.6,396.6L284.6,394.9L286.6,393.2L288.6,391.6L290.6,390L292.6,388.3L294.6,386.6L296.6,384.8L298.6,383L300.6,381.2L302.6,379.3L304.6,377.4L306.6,375.6L308.6,373.8L310.6,372.2L312.6,370.6L314.6,369.1L316.6,367.7L318.6,366.3L320.6,364.9L322.6,363.6L324.6,362.3L326.6,361.1L328.6,359.8L330.6,358.7L332.6,357.5L334.6,356.3L336.6,355.1L338.6,354L340.6,352.8L342.6,351.6L344.6,350.4L346.6,349.2L348.6,348L350.6,346.8L352.6,345.6L354.6,344.4L356.6,343.1L358.6,341.9" stroke="#8000ff"/>
<path d="M236.6,448.1L238.6,445.3L240.6,442.6L242.6,439.9L244.6,437.5L246.6,434.8L248.6,431.3L250.6,427.2L252.6,423.6L254.6,420.6L256.6,418.2L258.6,415.8L260.6,413.8L262.6,412L264.6,410.2L266.6,408.4L268.6,406.7L270.6,404.9L272.6,403.1L274.6,401.3L276.6,399.6L278.6,397.8L280.6,396L282.6,394.2L284.6,392.2L286.6,390L288.6,387.7L290.6,385.2L292.6,382.7L294.6,380.1L296.6,377.4L298.6,374.8L300.6,372.2L302.6,369.7L304.6,367.2L306.6,364.8L308.6,362.5L310.6,360.4L312.6,358.4L314.6,356.4L316.6,354.6L318.6,352.8L320.6,351.1L322.6,349.5L324.6,347.9L326.6,346.3L328.6,344.9L330.6,343.4L332.6,342.1L334.6,340.7L336.6,339.3L338.6,337.9L340.6,336.5L342.6,335.2L344.6,333.8L346.6,332.4L348.6,331L350.6,329.6L352.6,328.2L354.6,326.9L356.6,325.7L358.6,324.5" stroke="#ff00ff"/>
<path d="M236.6,448.1L238.6,443.8L240.6,439.6L242.6,435.2L244.6,430.7L246.6,426.4L248.6,422.5L250.6,419.3L252.6,416.8L254.6,414.7L256.6,413L258.6,411.4L260.6,410L262.6,408.7L264.6,407.5L266.6,406.3L268.6,405L270.6,403.7L272.6,402.3L274.6,400.9L276.6,399.4L278.6,397.7L280.6,396L282.6,394.2L284.6,392.4L286.6,390.4L288.6,388.5L290.6,386.5L292.6,384.6L294.6,382.8L296.6,380.9L298.6,379.1L300.6,377.2L302.6,375.3L304.6,373.3L306.6,371.4L308.6,369.4L310.6,367.5L312.6,365.6L314.6,363.8L316.6,362L318.6,360.2L320.6,358.4L322.6,356.7L324.6,355L326.6,353.3L328.6,351.7L330.6,350.1L332.6,348.5L334.6,346.9L336.6,345.3L338.6,343.7L340.6,342.1L342.6,340.5L344.6,339.1L346.6,337.7L348.6,336.4L350.6,335.2L352.6,334L354.6,332.9L356.6,331.9L358.6,330.9" stroke="#ff8000"/>
</g>
<line x1="236.4" y1="317.7" x2="360.3" y2="317.7" stroke="#aaa" stroke-width="1.2"/>
<line x1="360.3" y1="317.7" x2="360.3" y2="448.3" stroke="#555" stroke-width="0.9"/>
<line x1="236.4" y1="317.7" x2="236.4" y2="448.7" stroke="#262626" stroke-width="0.9"/>
<line x1="236" y1="448.3" x2="360.3" y2="448.3" stroke="#262626" stroke-width="0.9"/>
<line x1="234.4" y1="448.3" x2="236.4" y2="448.3" stroke="#262626" stroke-width="0.9"/>
<text x="233" y="450.1" font-size="5" text-anchor="end" fill="#000">0</text>
<line x1="234.4" y1="417" x2="236.4" y2="417" stroke="#262626" stroke-width="0.9"/>
<text x="233" y="418.8" font-size="5" text-anchor="end" fill="#000">3</text>
<line x1="234.4" y1="385.7" x2="236.4" y2="385.7" stroke="#262626" stroke-width="0.9"/>
<text x="233" y="387.5" font-size="5" text-anchor="end" fill="#000">6</text>
<line x1="234.4" y1="354.4" x2="236.4" y2="354.4" stroke="#262626" stroke-width="0.9"/>
<text x="233" y="356.2" font-size="5" text-anchor="end" fill="#000">9</text>
<line x1="234.4" y1="323.1" x2="236.4" y2="323.1" stroke="#262626" stroke-width="0.9"/>
<text x="233" y="324.9" font-size="5" text-anchor="end" fill="#000">12</text>
<line x1="235.2" y1="432.7" x2="236.4" y2="432.7" stroke="#262626" stroke-width="0.9"/>
<line x1="235.2" y1="401.4" x2="236.4" y2="401.4" stroke="#262626" stroke-width="0.9"/>
<line x1="235.2" y1="370.1" x2="236.4" y2="370.1" stroke="#262626" stroke-width="0.9"/>
<line x1="235.2" y1="338.8" x2="236.4" y2="338.8" stroke="#262626" stroke-width="0.9"/>
<line x1="236.4" y1="448.3" x2="236.4" y2="450.4" stroke="#262626" stroke-width="0.9"/>
<text x="236.4" y="456.5" font-size="5.1" text-anchor="middle" fill="#000">0</text>
<line x1="264.6" y1="448.3" x2="264.6" y2="450.4" stroke="#262626" stroke-width="0.9"/>
<text x="264.6" y="456.5" font-size="5.1" text-anchor="middle" fill="#000">20000</text>
<line x1="292.7" y1="448.3" x2="292.7" y2="450.4" stroke="#262626" stroke-width="0.9"/>
<text x="292.7" y="456.5" font-size="5.1" text-anchor="middle" fill="#000">40000</text>
<line x1="320.9" y1="448.3" x2="320.9" y2="450.4" stroke="#262626" stroke-width="0.9"/>
<text x="320.9" y="456.5" font-size="5.1" text-anchor="middle" fill="#000">60000</text>
<line x1="349" y1="448.3" x2="349" y2="450.4" stroke="#262626" stroke-width="0.9"/>
<text x="349" y="456.5" font-size="5.1" text-anchor="middle" fill="#000">80000</text>
<line x1="250.5" y1="448.3" x2="250.5" y2="449.6" stroke="#262626" stroke-width="0.9"/>
<line x1="278.6" y1="448.3" x2="278.6" y2="449.6" stroke="#262626" stroke-width="0.9"/>
<line x1="306.8" y1="448.3" x2="306.8" y2="449.6" stroke="#262626" stroke-width="0.9"/>
<line x1="334.9" y1="448.3" x2="334.9" y2="449.6" stroke="#262626" stroke-width="0.9"/>
<text x="295.4" y="465.2" font-size="7.3" text-anchor="middle" fill="#000">Time (s)</text>
<text x="225" y="381.5" font-size="7" text-anchor="middle" fill="#000" transform="rotate(-90 225 381.5)">TSI</text>
<text x="218.6" y="322.4" font-size="9.6" text-anchor="start" fill="#000" style="stroke-width:0.35px">H</text>
<circle cx="240.7" cy="320.7" r="1.25" fill="#000000"/>
<text x="247" y="322.7" font-size="5.8" text-anchor="start" fill="#000">MFGM 20 °C</text>
<circle cx="240.7" cy="327.8" r="1.25" fill="#ff0000"/>
<text x="247" y="329.8" font-size="5.8" text-anchor="start" fill="#000">MFGM 40 °C</text>
<circle cx="240.7" cy="334.9" r="1.25" fill="#0000ff"/>
<text x="247" y="336.9" font-size="5.8" text-anchor="start" fill="#000">MFGM 60 °C</text>
<circle cx="240.7" cy="342" r="1.25" fill="#008000"/>
<text x="247" y="344" font-size="5.8" text-anchor="start" fill="#000">MFGM 80 °C</text>
<circle cx="240.7" cy="349.1" r="1.25" fill="#ff00ff"/>
<text x="247" y="351.1" font-size="5.8" text-anchor="start" fill="#000">MFGM-SDS</text>
<circle cx="240.7" cy="356.2" r="1.25" fill="#8000ff"/>
<text x="247" y="358.2" font-size="5.8" text-anchor="start" fill="#000">MFGM-DTAB</text>
<circle cx="240.7" cy="363.3" r="1.25" fill="#ff8000"/>
<text x="247" y="365.3" font-size="5.8" text-anchor="start" fill="#000">MFGM-PS20</text>
<g fill="#000">
<circle cx="391.3" cy="447.9" r="1.4"/>
<circle cx="394.4" cy="447.2" r="1.4"/>
<circle cx="397.5" cy="446.4" r="1.4"/>
<circle cx="400.6" cy="445.7" r="1.4"/>
<circle cx="403.7" cy="444.9" r="1.4"/>
<circle cx="406.8" cy="444" r="1.4"/>
<circle cx="409.9" cy="443" r="1.4"/>
<circle cx="413" cy="442" r="1.4"/>
<circle cx="416.1" cy="440.9" r="1.4"/>
<circle cx="419.2" cy="439.8" r="1.4"/>
<circle cx="422.3" cy="438.6" r="1.4"/>
<circle cx="425.4" cy="437.4" r="1.4"/>
<circle cx="428.5" cy="436.1" r="1.4"/>
<circle cx="431.6" cy="434.7" r="1.4"/>
<circle cx="434.7" cy="433.2" r="1.4"/>
<circle cx="437.8" cy="431.7" r="1.4"/>
<circle cx="440.9" cy="430.4" r="1.4"/>
<circle cx="444" cy="429.1" r="1.4"/>
<circle cx="447.1" cy="427.9" r="1.4"/>
<circle cx="450.2" cy="426.5" r="1.4"/>
<circle cx="453.3" cy="425.2" r="1.4"/>
<circle cx="456.5" cy="423.9" r="1.4"/>
<circle cx="459.6" cy="422.7" r="1.4"/>
<circle cx="462.7" cy="421.5" r="1.4"/>
<circle cx="465.8" cy="420.3" r="1.4"/>
<circle cx="468.9" cy="419.2" r="1.4"/>
<circle cx="472" cy="418" r="1.4"/>
<circle cx="475.1" cy="416.9" r="1.4"/>
<circle cx="478.2" cy="416" r="1.4"/>
<circle cx="481.3" cy="415.1" r="1.4"/>
<circle cx="484.4" cy="414.3" r="1.4"/>
<circle cx="487.5" cy="413.6" r="1.4"/>
<circle cx="490.6" cy="412.8" r="1.4"/>
<circle cx="493.7" cy="412.1" r="1.4"/>
<circle cx="496.8" cy="411.5" r="1.4"/>
<circle cx="499.9" cy="410.8" r="1.4"/>
<circle cx="503" cy="410.2" r="1.4"/>
<circle cx="506.1" cy="409.7" r="1.4"/>
<circle cx="509.2" cy="409.2" r="1.4"/>
<circle cx="512.3" cy="408.7" r="1.4"/>
<circle cx="515.4" cy="408.3" r="1.4"/>
<circle cx="518.5" cy="407.9" r="1.4"/>
</g>
<g fill="#ff0000">
<circle cx="391.3" cy="447.9" r="1.4"/>
<circle cx="394.4" cy="447" r="1.4"/>
<circle cx="397.5" cy="446" r="1.4"/>
<circle cx="400.6" cy="445.1" r="1.4"/>
<circle cx="403.7" cy="444" r="1.4"/>
<circle cx="406.8" cy="442.7" r="1.4"/>
<circle cx="409.9" cy="441.3" r="1.4"/>
<circle cx="413" cy="439.7" r="1.4"/>
<circle cx="416.1" cy="438.1" r="1.4"/>
<circle cx="419.2" cy="436.5" r="1.4"/>
<circle cx="422.3" cy="434.7" r="1.4"/>
<circle cx="425.4" cy="432.9" r="1.4"/>
<circle cx="428.5" cy="431.2" r="1.4"/>
<circle cx="431.6" cy="429.4" r="1.4"/>
<circle cx="434.7" cy="427.6" r="1.4"/>
<circle cx="437.8" cy="425.9" r="1.4"/>
<circle cx="440.9" cy="424.3" r="1.4"/>
<circle cx="444" cy="422.6" r="1.4"/>
<circle cx="447.1" cy="421" r="1.4"/>
<circle cx="450.2" cy="419.5" r="1.4"/>
<circle cx="453.3" cy="417.9" r="1.4"/>
<circle cx="456.5" cy="416.4" r="1.4"/>
<circle cx="459.6" cy="414.8" r="1.4"/>
<circle cx="462.7" cy="413.3" r="1.4"/>
<circle cx="465.8" cy="411.8" r="1.4"/>
<circle cx="468.9" cy="410.4" r="1.4"/>
<circle cx="472" cy="409.2" r="1.4"/>
<circle cx="475.1" cy="408" r="1.4"/>
<circle cx="478.2" cy="406.9" r="1.4"/>
<circle cx="481.3" cy="406" r="1.4"/>
<circle cx="484.4" cy="405.2" r="1.4"/>
<circle cx="487.5" cy="404.4" r="1.4"/>
<circle cx="490.6" cy="403.6" r="1.4"/>
<circle cx="493.7" cy="403" r="1.4"/>
<circle cx="496.8" cy="402.4" r="1.4"/>
<circle cx="499.9" cy="401.8" r="1.4"/>
<circle cx="503" cy="401.3" r="1.4"/>
<circle cx="506.1" cy="400.8" r="1.4"/>
<circle cx="509.2" cy="400.4" r="1.4"/>
<circle cx="512.3" cy="399.9" r="1.4"/>
<circle cx="515.4" cy="399.5" r="1.4"/>
<circle cx="518.5" cy="399.2" r="1.4"/>
</g>
<g fill="#0000ff">
<circle cx="391.3" cy="447.9" r="1.4"/>
<circle cx="394.4" cy="445.7" r="1.4"/>
<circle cx="397.5" cy="443.4" r="1.4"/>
<circle cx="400.6" cy="441" r="1.4"/>
<circle cx="403.7" cy="438.3" r="1.4"/>
<circle cx="406.8" cy="435.5" r="1.4"/>
<circle cx="409.9" cy="432.8" r="1.4"/>
<circle cx="413" cy="430.3" r="1.4"/>
<circle cx="416.1" cy="427.8" r="1.4"/>
<circle cx="419.2" cy="425.5" r="1.4"/>
<circle cx="422.3" cy="423.3" r="1.4"/>
<circle cx="425.4" cy="421.4" r="1.4"/>
<circle cx="428.5" cy="419.5" r="1.4"/>
<circle cx="431.6" cy="417.7" r="1.4"/>
<circle cx="434.7" cy="415.9" r="1.4"/>
<circle cx="437.8" cy="414.1" r="1.4"/>
<circle cx="440.9" cy="412.3" r="1.4"/>
<circle cx="444" cy="410.5" r="1.4"/>
<circle cx="447.1" cy="408.8" r="1.4"/>
<circle cx="450.2" cy="407.2" r="1.4"/>
<circle cx="453.3" cy="405.7" r="1.4"/>
<circle cx="456.5" cy="404.2" r="1.4"/>
<circle cx="459.6" cy="402.9" r="1.4"/>
<circle cx="462.7" cy="401.6" r="1.4"/>
<circle cx="465.8" cy="400.5" r="1.4"/>
<circle cx="468.9" cy="399.4" r="1.4"/>
<circle cx="472" cy="398.3" r="1.4"/>
<circle cx="475.1" cy="397.2" r="1.4"/>
<circle cx="478.2" cy="395.9" r="1.4"/>
<circle cx="481.3" cy="394.5" r="1.4"/>
<circle cx="484.4" cy="393.1" r="1.4"/>
<circle cx="487.5" cy="391.7" r="1.4"/>
<circle cx="490.6" cy="390.3" r="1.4"/>
<circle cx="493.7" cy="389" r="1.4"/>
<circle cx="496.8" cy="387.7" r="1.4"/>
<circle cx="499.9" cy="386.4" r="1.4"/>
<circle cx="503" cy="385.3" r="1.4"/>
<circle cx="506.1" cy="384.2" r="1.4"/>
<circle cx="509.2" cy="383.1" r="1.4"/>
<circle cx="512.3" cy="382.1" r="1.4"/>
<circle cx="515.4" cy="381.1" r="1.4"/>
<circle cx="518.5" cy="380.3" r="1.4"/>
</g>
<g fill="#008000">
<circle cx="391.3" cy="447.9" r="1.4"/>
<circle cx="394.4" cy="446.2" r="1.4"/>
<circle cx="397.5" cy="444.5" r="1.4"/>
<circle cx="400.6" cy="442.6" r="1.4"/>
<circle cx="403.7" cy="440.6" r="1.4"/>
<circle cx="406.8" cy="438.4" r="1.4"/>
<circle cx="409.9" cy="436.3" r="1.4"/>
<circle cx="413" cy="434.1" r="1.4"/>
<circle cx="416.1" cy="432" r="1.4"/>
<circle cx="419.2" cy="429.9" r="1.4"/>
<circle cx="422.3" cy="427.9" r="1.4"/>
<circle cx="425.4" cy="426" r="1.4"/>
<circle cx="428.5" cy="424.2" r="1.4"/>
<circle cx="431.6" cy="422.3" r="1.4"/>
<circle cx="434.7" cy="420.5" r="1.4"/>
<circle cx="437.8" cy="418.6" r="1.4"/>
<circle cx="440.9" cy="416.8" r="1.4"/>
<circle cx="444" cy="415" r="1.4"/>
<circle cx="447.1" cy="413.2" r="1.4"/>
<circle cx="450.2" cy="411.4" r="1.4"/>
<circle cx="453.3" cy="409.6" r="1.4"/>
<circle cx="456.5" cy="407.8" r="1.4"/>
<circle cx="459.6" cy="406.1" r="1.4"/>
<circle cx="462.7" cy="404.4" r="1.4"/>
<circle cx="465.8" cy="402.7" r="1.4"/>
<circle cx="468.9" cy="401" r="1.4"/>
<circle cx="472" cy="399.4" r="1.4"/>
<circle cx="475.1" cy="398" r="1.4"/>
<circle cx="478.2" cy="396.4" r="1.4"/>
<circle cx="481.3" cy="394.5" r="1.4"/>
<circle cx="484.4" cy="392.5" r="1.4"/>
<circle cx="487.5" cy="390.5" r="1.4"/>
<circle cx="490.6" cy="388.5" r="1.4"/>
<circle cx="493.7" cy="386.5" r="1.4"/>
<circle cx="496.8" cy="384.5" r="1.4"/>
<circle cx="499.9" cy="382.6" r="1.4"/>
<circle cx="503" cy="380.6" r="1.4"/>
<circle cx="506.1" cy="378.7" r="1.4"/>
<circle cx="509.2" cy="376.9" r="1.4"/>
<circle cx="512.3" cy="375.2" r="1.4"/>
<circle cx="515.4" cy="373.6" r="1.4"/>
<circle cx="518.5" cy="372.2" r="1.4"/>
</g>
<g fill="#8000ff">
<circle cx="391.3" cy="447.9" r="1.4"/>
<circle cx="394.4" cy="444.7" r="1.4"/>
<circle cx="397.5" cy="441.7" r="1.4"/>
<circle cx="400.6" cy="439" r="1.4"/>
<circle cx="403.7" cy="436.5" r="1.4"/>
<circle cx="406.8" cy="434" r="1.4"/>
<circle cx="409.9" cy="431.4" r="1.4"/>
<circle cx="413" cy="428.7" r="1.4"/>
<circle cx="416.1" cy="426" r="1.4"/>
<circle cx="419.2" cy="423.1" r="1.4"/>
<circle cx="422.3" cy="420" r="1.4"/>
<circle cx="425.4" cy="416.8" r="1.4"/>
<circle cx="428.5" cy="413.7" r="1.4"/>
<circle cx="431.6" cy="410.6" r="1.4"/>
<circle cx="434.7" cy="407.6" r="1.4"/>
<circle cx="437.8" cy="404.6" r="1.4"/>
<circle cx="440.9" cy="401.7" r="1.4"/>
<circle cx="444" cy="399.1" r="1.4"/>
<circle cx="447.1" cy="396.6" r="1.4"/>
<circle cx="450.2" cy="394.4" r="1.4"/>
<circle cx="453.3" cy="392.2" r="1.4"/>
<circle cx="456.5" cy="390" r="1.4"/>
<circle cx="459.6" cy="388.1" r="1.4"/>
<circle cx="462.7" cy="386" r="1.4"/>
<circle cx="465.8" cy="383.8" r="1.4"/>
<circle cx="468.9" cy="381.5" r="1.4"/>
<circle cx="472" cy="379.3" r="1.4"/>
<circle cx="475.1" cy="377.1" r="1.4"/>
<circle cx="478.2" cy="375" r="1.4"/>
<circle cx="481.3" cy="372.9" r="1.4"/>
<circle cx="484.4" cy="370.9" r="1.4"/>
<circle cx="487.5" cy="368.7" r="1.4"/>
<circle cx="490.6" cy="366.6" r="1.4"/>
<circle cx="493.7" cy="364.5" r="1.4"/>
<circle cx="496.8" cy="362.4" r="1.4"/>
<circle cx="499.9" cy="360.4" r="1.4"/>
<circle cx="503" cy="358.3" r="1.4"/>
<circle cx="506.1" cy="356.2" r="1.4"/>
<circle cx="509.2" cy="354.1" r="1.4"/>
<circle cx="512.3" cy="352.1" r="1.4"/>
<circle cx="515.4" cy="350.3" r="1.4"/>
<circle cx="518.5" cy="348.7" r="1.4"/>
</g>
<g fill="#ff00ff">
<circle cx="391.3" cy="447.9" r="1.4"/>
<circle cx="394.4" cy="444.4" r="1.4"/>
<circle cx="397.5" cy="441" r="1.4"/>
<circle cx="400.6" cy="438" r="1.4"/>
<circle cx="403.7" cy="435.1" r="1.4"/>
<circle cx="406.8" cy="432.3" r="1.4"/>
<circle cx="409.9" cy="429.6" r="1.4"/>
<circle cx="413" cy="427" r="1.4"/>
<circle cx="416.1" cy="424.3" r="1.4"/>
<circle cx="419.2" cy="421.4" r="1.4"/>
<circle cx="422.3" cy="418.4" r="1.4"/>
<circle cx="425.4" cy="415.2" r="1.4"/>
<circle cx="428.5" cy="411.8" r="1.4"/>
<circle cx="431.6" cy="408" r="1.4"/>
<circle cx="434.7" cy="404.1" r="1.4"/>
<circle cx="437.8" cy="400.4" r="1.4"/>
<circle cx="440.9" cy="397.1" r="1.4"/>
<circle cx="444" cy="394" r="1.4"/>
<circle cx="447.1" cy="391.2" r="1.4"/>
<circle cx="450.2" cy="388.5" r="1.4"/>
<circle cx="453.3" cy="385.9" r="1.4"/>
<circle cx="456.5" cy="383.6" r="1.4"/>
<circle cx="459.6" cy="381.4" r="1.4"/>
<circle cx="462.7" cy="379.3" r="1.4"/>
<circle cx="465.8" cy="377.1" r="1.4"/>
<circle cx="468.9" cy="374.8" r="1.4"/>
<circle cx="472" cy="372.5" r="1.4"/>
<circle cx="475.1" cy="370.4" r="1.4"/>
<circle cx="478.2" cy="368.2" r="1.4"/>
<circle cx="481.3" cy="366" r="1.4"/>
<circle cx="484.4" cy="363.6" r="1.4"/>
<circle cx="487.5" cy="361.1" r="1.4"/>
<circle cx="490.6" cy="358.7" r="1.4"/>
<circle cx="493.7" cy="356.4" r="1.4"/>
<circle cx="496.8" cy="354.2" r="1.4"/>
<circle cx="499.9" cy="351.9" r="1.4"/>
<circle cx="503" cy="349.6" r="1.4"/>
<circle cx="506.1" cy="347.3" r="1.4"/>
<circle cx="509.2" cy="345" r="1.4"/>
<circle cx="512.3" cy="342.8" r="1.4"/>
<circle cx="515.4" cy="340.5" r="1.4"/>
<circle cx="518.5" cy="338.6" r="1.4"/>
</g>
<g fill="#ff8000">
<circle cx="391.3" cy="447.9" r="1.4"/>
<circle cx="394.4" cy="443.9" r="1.4"/>
<circle cx="397.5" cy="439.8" r="1.4"/>
<circle cx="400.6" cy="435.8" r="1.4"/>
<circle cx="403.7" cy="431.7" r="1.4"/>
<circle cx="406.8" cy="427.7" r="1.4"/>
<circle cx="409.9" cy="423.6" r="1.4"/>
<circle cx="413" cy="419.7" r="1.4"/>
<circle cx="416.1" cy="416.1" r="1.4"/>
<circle cx="419.2" cy="412.7" r="1.4"/>
<circle cx="422.3" cy="409.2" r="1.4"/>
<circle cx="425.4" cy="405.3" r="1.4"/>
<circle cx="428.5" cy="401.3" r="1.4"/>
<circle cx="431.6" cy="397.4" r="1.4"/>
<circle cx="434.7" cy="393.6" r="1.4"/>
<circle cx="437.8" cy="389.8" r="1.4"/>
<circle cx="440.9" cy="386.2" r="1.4"/>
<circle cx="444" cy="382.8" r="1.4"/>
<circle cx="447.1" cy="379.7" r="1.4"/>
<circle cx="450.2" cy="376.8" r="1.4"/>
<circle cx="453.3" cy="374.1" r="1.4"/>
<circle cx="456.5" cy="371.6" r="1.4"/>
<circle cx="459.6" cy="369.3" r="1.4"/>
<circle cx="462.7" cy="367.3" r="1.4"/>
<circle cx="465.8" cy="365.5" r="1.4"/>
<circle cx="468.9" cy="363.8" r="1.4"/>
<circle cx="472" cy="362.1" r="1.4"/>
<circle cx="475.1" cy="360.4" r="1.4"/>
<circle cx="478.2" cy="358.7" r="1.4"/>
<circle cx="481.3" cy="357" r="1.4"/>
<circle cx="484.4" cy="355.4" r="1.4"/>
<circle cx="487.5" cy="353.8" r="1.4"/>
<circle cx="490.6" cy="352.2" r="1.4"/>
<circle cx="493.7" cy="350.4" r="1.4"/>
<circle cx="496.8" cy="348.7" r="1.4"/>
<circle cx="499.9" cy="347" r="1.4"/>
<circle cx="503" cy="345.5" r="1.4"/>
<circle cx="506.1" cy="344" r="1.4"/>
<circle cx="509.2" cy="342.5" r="1.4"/>
<circle cx="512.3" cy="340.9" r="1.4"/>
<circle cx="515.4" cy="339.4" r="1.4"/>
<circle cx="518.5" cy="338" r="1.4"/>
</g>
<line x1="391.2" y1="323.9" x2="520.3" y2="323.9" stroke="#a5a5a5" stroke-width="1.3"/>
<line x1="520.3" y1="323.9" x2="520.3" y2="447.9" stroke="#999" stroke-width="1.2"/>
<line x1="391.2" y1="323.9" x2="391.2" y2="448.3" stroke="#262626" stroke-width="0.9"/>
<line x1="390.8" y1="447.9" x2="520.3" y2="447.9" stroke="#262626" stroke-width="0.9"/>
<line x1="389.2" y1="447.9" x2="391.2" y2="447.9" stroke="#262626" stroke-width="0.9"/>
<text x="387.6" y="449.7" font-size="5" text-anchor="end" fill="#000">0</text>
<line x1="389.2" y1="423.1" x2="391.2" y2="423.1" stroke="#262626" stroke-width="0.9"/>
<text x="387.6" y="424.9" font-size="5" text-anchor="end" fill="#000">1</text>
<line x1="389.2" y1="398.4" x2="391.2" y2="398.4" stroke="#262626" stroke-width="0.9"/>
<text x="387.6" y="400.2" font-size="5" text-anchor="end" fill="#000">2</text>
<line x1="389.2" y1="373.6" x2="391.2" y2="373.6" stroke="#262626" stroke-width="0.9"/>
<text x="387.6" y="375.4" font-size="5" text-anchor="end" fill="#000">3</text>
<line x1="389.2" y1="348.9" x2="391.2" y2="348.9" stroke="#262626" stroke-width="0.9"/>
<text x="387.6" y="350.7" font-size="5" text-anchor="end" fill="#000">4</text>
<line x1="389.2" y1="324.1" x2="391.2" y2="324.1" stroke="#262626" stroke-width="0.9"/>
<text x="387.6" y="325.9" font-size="5" text-anchor="end" fill="#000">5</text>
<line x1="390" y1="435.5" x2="391.2" y2="435.5" stroke="#262626" stroke-width="0.9"/>
<line x1="390" y1="410.8" x2="391.2" y2="410.8" stroke="#262626" stroke-width="0.9"/>
<line x1="390" y1="386" x2="391.2" y2="386" stroke="#262626" stroke-width="0.9"/>
<line x1="390" y1="361.3" x2="391.2" y2="361.3" stroke="#262626" stroke-width="0.9"/>
<line x1="390" y1="336.5" x2="391.2" y2="336.5" stroke="#262626" stroke-width="0.9"/>
<line x1="391.2" y1="447.9" x2="391.2" y2="450" stroke="#262626" stroke-width="0.9"/>
<text x="391.2" y="455.9" font-size="5.1" text-anchor="middle" fill="#000">0</text>
<line x1="417" y1="447.9" x2="417" y2="450" stroke="#262626" stroke-width="0.9"/>
<text x="417" y="455.9" font-size="5.1" text-anchor="middle" fill="#000">5000</text>
<line x1="442.8" y1="447.9" x2="442.8" y2="450" stroke="#262626" stroke-width="0.9"/>
<text x="442.8" y="455.9" font-size="5.1" text-anchor="middle" fill="#000">10000</text>
<line x1="468.7" y1="447.9" x2="468.7" y2="450" stroke="#262626" stroke-width="0.9"/>
<text x="468.7" y="455.9" font-size="5.1" text-anchor="middle" fill="#000">15000</text>
<line x1="494.5" y1="447.9" x2="494.5" y2="450" stroke="#262626" stroke-width="0.9"/>
<text x="494.5" y="455.9" font-size="5.1" text-anchor="middle" fill="#000">20000</text>
<line x1="520.3" y1="447.9" x2="520.3" y2="450" stroke="#262626" stroke-width="0.9"/>
<text x="520.3" y="455.9" font-size="5.1" text-anchor="middle" fill="#000">25000</text>
<line x1="404.1" y1="447.9" x2="404.1" y2="449.2" stroke="#262626" stroke-width="0.9"/>
<line x1="429.9" y1="447.9" x2="429.9" y2="449.2" stroke="#262626" stroke-width="0.9"/>
<line x1="455.8" y1="447.9" x2="455.8" y2="449.2" stroke="#262626" stroke-width="0.9"/>
<line x1="481.6" y1="447.9" x2="481.6" y2="449.2" stroke="#262626" stroke-width="0.9"/>
<line x1="507.4" y1="447.9" x2="507.4" y2="449.2" stroke="#262626" stroke-width="0.9"/>
<text x="456.5" y="462.5" font-size="7.3" text-anchor="middle" fill="#000">Time (s)</text>
<text x="384.8" y="382.8" font-size="7" text-anchor="middle" fill="#000" transform="rotate(-90 384.8 382.8)">TSI</text>
<text x="379.4" y="321.2" font-size="9.6" text-anchor="start" fill="#000" style="stroke-width:0.35px">I</text>
<circle cx="393.9" cy="326.9" r="1.2" fill="#000000"/>
<text x="400.2" y="328.9" font-size="5.8" text-anchor="start" fill="#000">MFGM 20 °C</text>
<circle cx="393.9" cy="334.1" r="1.2" fill="#ff0000"/>
<text x="400.2" y="336.1" font-size="5.8" text-anchor="start" fill="#000">MFGM 40 °C</text>
<circle cx="393.9" cy="341.3" r="1.2" fill="#0000ff"/>
<text x="400.2" y="343.3" font-size="5.8" text-anchor="start" fill="#000">MFGM 60 °C</text>
<circle cx="393.9" cy="348.5" r="1.2" fill="#008000"/>
<text x="400.2" y="350.5" font-size="5.8" text-anchor="start" fill="#000">MFGM 80 °C</text>
<circle cx="393.9" cy="355.7" r="1.2" fill="#ff00ff"/>
<text x="400.2" y="357.7" font-size="5.8" text-anchor="start" fill="#000">MFGM-SDS</text>
<circle cx="393.9" cy="362.9" r="1.2" fill="#8000ff"/>
<text x="400.2" y="364.9" font-size="5.8" text-anchor="start" fill="#000">MFGM-DTAB</text>
<circle cx="393.9" cy="370.1" r="1.2" fill="#ff8000"/>
<text x="400.2" y="372.1" font-size="5.8" text-anchor="start" fill="#000">MFGM-PS20</text>
<g clip-path="url(#cjm)">
<path d="M561.3,442.5L564.2,439.5L567.1,439.1L570,438.8L572.9,439.5L575.8,441.3L578.7,442.9L581.6,444L584.5,445L587.4,445.6L590.3,446L593.3,446.3L596.2,446.6L599.1,446.9L602,447.1L604.9,447.3L607.8,447.3L610.7,447.3L613.6,447.3L616.5,447.3L619.4,447.3L622.3,447.3L625.2,447.3L628.1,447.3L631,447.3L633.9,447.3L636.8,447.3L639.7,447.3L642.6,447.3L645.5,447.3L648.4,447.3L651.4,447.3L654.3,447.3L657.2,447.3L660.1,447.3L663,447.3L665.9,447.3L668.8,447.3L671.7,447.3L674.6,447.3L677.5,447.3" fill="none" stroke="#000" stroke-width="0.8"/>
<g fill="#000"><circle cx="561.3" cy="442.5" r="1.25"/><circle cx="564.2" cy="439.5" r="1.25"/><circle cx="567.1" cy="439.1" r="1.25"/><circle cx="570" cy="438.8" r="1.25"/><circle cx="572.9" cy="439.5" r="1.25"/><circle cx="575.8" cy="441.3" r="1.25"/><circle cx="578.7" cy="442.9" r="1.25"/><circle cx="581.6" cy="444" r="1.25"/><circle cx="584.5" cy="445" r="1.25"/><circle cx="587.4" cy="445.6" r="1.25"/><circle cx="590.3" cy="446" r="1.25"/><circle cx="593.3" cy="446.3" r="1.25"/><circle cx="596.2" cy="446.6" r="1.25"/><circle cx="599.1" cy="446.9" r="1.25"/><circle cx="602" cy="447.1" r="1.25"/><circle cx="604.9" cy="447.3" r="1.25"/><circle cx="607.8" cy="447.3" r="1.25"/><circle cx="610.7" cy="447.3" r="1.25"/><circle cx="613.6" cy="447.3" r="1.25"/><circle cx="616.5" cy="447.3" r="1.25"/><circle cx="619.4" cy="447.3" r="1.25"/><circle cx="622.3" cy="447.3" r="1.25"/><circle cx="625.2" cy="447.3" r="1.25"/><circle cx="628.1" cy="447.3" r="1.25"/><circle cx="631" cy="447.3" r="1.25"/><circle cx="633.9" cy="447.3" r="1.25"/><circle cx="636.8" cy="447.3" r="1.25"/><circle cx="639.7" cy="447.3" r="1.25"/><circle cx="642.6" cy="447.3" r="1.25"/><circle cx="645.5" cy="447.3" r="1.25"/><circle cx="648.4" cy="447.3" r="1.25"/><circle cx="651.4" cy="447.3" r="1.25"/><circle cx="654.3" cy="447.3" r="1.25"/><circle cx="657.2" cy="447.3" r="1.25"/><circle cx="660.1" cy="447.3" r="1.25"/><circle cx="663" cy="447.3" r="1.25"/><circle cx="665.9" cy="447.3" r="1.25"/><circle cx="668.8" cy="447.3" r="1.25"/><circle cx="671.7" cy="447.3" r="1.25"/><circle cx="674.6" cy="447.3" r="1.25"/><circle cx="677.5" cy="447.3" r="1.25"/></g>
<path d="M561.3,439.5L564.2,432.9L567.1,434.1L570,435.6L572.9,436.2L575.8,441.1L578.7,442.8L581.6,444.2L584.5,445L587.4,445.6L590.3,446L593.3,446.3L596.2,446.6L599.1,446.9L602,447.1L604.9,447.3L607.8,447.3L610.7,447.3L613.6,447.3L616.5,447.3L619.4,447.3L622.3,447.3L625.2,447.3L628.1,447.3L631,447.3L633.9,447.3L636.8,447.3L639.7,447.3L642.6,447.3L645.5,447.3L648.4,447.3L651.4,447.3L654.3,447.3L657.2,447.3L660.1,447.3L663,447.3L665.9,447.3L668.8,447.3L671.7,447.3L674.6,447.3L677.5,447.3" fill="none" stroke="#ff6060" stroke-width="0.8"/>
<g fill="#ff0000"><circle cx="561.3" cy="439.5" r="1.25"/><circle cx="564.2" cy="432.9" r="1.25"/><circle cx="567.1" cy="434.1" r="1.25"/><circle cx="570" cy="435.6" r="1.25"/><circle cx="572.9" cy="436.2" r="1.25"/><circle cx="575.8" cy="441.1" r="1.25"/><circle cx="578.7" cy="442.8" r="1.25"/><circle cx="581.6" cy="444.2" r="1.25"/><circle cx="584.5" cy="445" r="1.25"/><circle cx="587.4" cy="445.6" r="1.25"/><circle cx="590.3" cy="446" r="1.25"/><circle cx="593.3" cy="446.3" r="1.25"/><circle cx="596.2" cy="446.6" r="1.25"/><circle cx="599.1" cy="446.9" r="1.25"/><circle cx="602" cy="447.1" r="1.25"/><circle cx="604.9" cy="447.3" r="1.25"/><circle cx="607.8" cy="447.3" r="1.25"/><circle cx="610.7" cy="447.3" r="1.25"/><circle cx="613.6" cy="447.3" r="1.25"/><circle cx="616.5" cy="447.3" r="1.25"/><circle cx="619.4" cy="447.3" r="1.25"/><circle cx="622.3" cy="447.3" r="1.25"/><circle cx="625.2" cy="447.3" r="1.25"/><circle cx="628.1" cy="447.3" r="1.25"/><circle cx="631" cy="447.3" r="1.25"/><circle cx="633.9" cy="447.3" r="1.25"/><circle cx="636.8" cy="447.3" r="1.25"/><circle cx="639.7" cy="447.3" r="1.25"/><circle cx="642.6" cy="447.3" r="1.25"/><circle cx="645.5" cy="447.3" r="1.25"/><circle cx="648.4" cy="447.3" r="1.25"/><circle cx="651.4" cy="447.3" r="1.25"/><circle cx="654.3" cy="447.3" r="1.25"/><circle cx="657.2" cy="447.3" r="1.25"/><circle cx="660.1" cy="447.3" r="1.25"/><circle cx="663" cy="447.3" r="1.25"/><circle cx="665.9" cy="447.3" r="1.25"/><circle cx="668.8" cy="447.3" r="1.25"/><circle cx="671.7" cy="447.3" r="1.25"/><circle cx="674.6" cy="447.3" r="1.25"/><circle cx="677.5" cy="447.3" r="1.25"/></g>
<path d="M561.3,427.9L564.2,423.5L567.1,428.4L570,432.3L572.9,435.1L575.8,437.1L578.7,440.2L581.6,442.9L584.5,444.3L587.4,445.3L590.3,445.9L593.3,446.2L596.2,446.5L599.1,446.8L602,447L604.9,447.2L607.8,447.3L610.7,447.3L613.6,447.3L616.5,447.3L619.4,447.3L622.3,447.3L625.2,447.3L628.1,447.3L631,447.3L633.9,447.3L636.8,447.3L639.7,447.3L642.6,447.3L645.5,447.3L648.4,447.3L651.4,447.3L654.3,447.3L657.2,447.3L660.1,447.3L663,447.3L665.9,447.3L668.8,447.3L671.7,447.3L674.6,447.3L677.5,447.3" fill="none" stroke="#0000ff" stroke-width="0.8"/>
<g fill="#0000ff"><circle cx="561.3" cy="427.9" r="1.25"/><circle cx="564.2" cy="423.5" r="1.25"/><circle cx="567.1" cy="428.4" r="1.25"/><circle cx="570" cy="432.3" r="1.25"/><circle cx="572.9" cy="435.1" r="1.25"/><circle cx="575.8" cy="437.1" r="1.25"/><circle cx="578.7" cy="440.2" r="1.25"/><circle cx="581.6" cy="442.9" r="1.25"/><circle cx="584.5" cy="444.3" r="1.25"/><circle cx="587.4" cy="445.3" r="1.25"/><circle cx="590.3" cy="445.9" r="1.25"/><circle cx="593.3" cy="446.2" r="1.25"/><circle cx="596.2" cy="446.5" r="1.25"/><circle cx="599.1" cy="446.8" r="1.25"/><circle cx="602" cy="447" r="1.25"/><circle cx="604.9" cy="447.2" r="1.25"/><circle cx="607.8" cy="447.3" r="1.25"/><circle cx="610.7" cy="447.3" r="1.25"/><circle cx="613.6" cy="447.3" r="1.25"/><circle cx="616.5" cy="447.3" r="1.25"/><circle cx="619.4" cy="447.3" r="1.25"/><circle cx="622.3" cy="447.3" r="1.25"/><circle cx="625.2" cy="447.3" r="1.25"/><circle cx="628.1" cy="447.3" r="1.25"/><circle cx="631" cy="447.3" r="1.25"/><circle cx="633.9" cy="447.3" r="1.25"/><circle cx="636.8" cy="447.3" r="1.25"/><circle cx="639.7" cy="447.3" r="1.25"/><circle cx="642.6" cy="447.3" r="1.25"/><circle cx="645.5" cy="447.3" r="1.25"/><circle cx="648.4" cy="447.3" r="1.25"/><circle cx="651.4" cy="447.3" r="1.25"/><circle cx="654.3" cy="447.3" r="1.25"/><circle cx="657.2" cy="447.3" r="1.25"/><circle cx="660.1" cy="447.3" r="1.25"/><circle cx="663" cy="447.3" r="1.25"/><circle cx="665.9" cy="447.3" r="1.25"/><circle cx="668.8" cy="447.3" r="1.25"/><circle cx="671.7" cy="447.3" r="1.25"/><circle cx="674.6" cy="447.3" r="1.25"/><circle cx="677.5" cy="447.3" r="1.25"/></g>
<path d="M561.3,396.8L564.2,403.2L567.1,418.5L570,426.5L572.9,432.9L575.8,437.9L578.7,441.5L581.6,443.3L584.5,444.6L587.4,445.5L590.3,445.9L593.3,446.2L596.2,446.5L599.1,446.8L602,447L604.9,447.2L607.8,447.3L610.7,447.3L613.6,447.3L616.5,447.3L619.4,447.3L622.3,447.3L625.2,447.3L628.1,447.3L631,447.3L633.9,447.3L636.8,447.3L639.7,447.3L642.6,447.3L645.5,447.3L648.4,447.3L651.4,447.3L654.3,447.3L657.2,447.3L660.1,447.3L663,447.3L665.9,447.3L668.8,447.3L671.7,447.3L674.6,447.3L677.5,447.3" fill="none" stroke="#808000" stroke-width="0.8"/>
<g fill="#008000"><circle cx="561.3" cy="396.8" r="1.25"/><circle cx="564.2" cy="403.2" r="1.25"/><circle cx="567.1" cy="418.5" r="1.25"/><circle cx="570" cy="426.5" r="1.25"/><circle cx="572.9" cy="432.9" r="1.25"/><circle cx="575.8" cy="437.9" r="1.25"/><circle cx="578.7" cy="441.5" r="1.25"/><circle cx="581.6" cy="443.3" r="1.25"/><circle cx="584.5" cy="444.6" r="1.25"/><circle cx="587.4" cy="445.5" r="1.25"/><circle cx="590.3" cy="445.9" r="1.25"/><circle cx="593.3" cy="446.2" r="1.25"/><circle cx="596.2" cy="446.5" r="1.25"/><circle cx="599.1" cy="446.8" r="1.25"/><circle cx="602" cy="447" r="1.25"/><circle cx="604.9" cy="447.2" r="1.25"/><circle cx="607.8" cy="447.3" r="1.25"/><circle cx="610.7" cy="447.3" r="1.25"/><circle cx="613.6" cy="447.3" r="1.25"/><circle cx="616.5" cy="447.3" r="1.25"/><circle cx="619.4" cy="447.3" r="1.25"/><circle cx="622.3" cy="447.3" r="1.25"/><circle cx="625.2" cy="447.3" r="1.25"/><circle cx="628.1" cy="447.3" r="1.25"/><circle cx="631" cy="447.3" r="1.25"/><circle cx="633.9" cy="447.3" r="1.25"/><circle cx="636.8" cy="447.3" r="1.25"/><circle cx="639.7" cy="447.3" r="1.25"/><circle cx="642.6" cy="447.3" r="1.25"/><circle cx="645.5" cy="447.3" r="1.25"/><circle cx="648.4" cy="447.3" r="1.25"/><circle cx="651.4" cy="447.3" r="1.25"/><circle cx="654.3" cy="447.3" r="1.25"/><circle cx="657.2" cy="447.3" r="1.25"/><circle cx="660.1" cy="447.3" r="1.25"/><circle cx="663" cy="447.3" r="1.25"/><circle cx="665.9" cy="447.3" r="1.25"/><circle cx="668.8" cy="447.3" r="1.25"/><circle cx="671.7" cy="447.3" r="1.25"/><circle cx="674.6" cy="447.3" r="1.25"/><circle cx="677.5" cy="447.3" r="1.25"/></g>
<path d="M561.3,411.1L564.2,412.7L567.1,416.4L570,421.5L572.9,424.5L575.8,431.6L578.7,434.6L581.6,437.3L584.5,440.2L587.4,442.5L590.3,443.6L593.3,444.3L596.2,445L599.1,445.6L602,446.1L604.9,446.4L607.8,446.7L610.7,447L613.6,447.2L616.5,447.3L619.4,447.3L622.3,447.3L625.2,447.3L628.1,447.3L631,447.3L633.9,447.3L636.8,447.3L639.7,447.3L642.6,447.3L645.5,447.3L648.4,447.3L651.4,447.3L654.3,447.3L657.2,447.3L660.1,447.3L663,447.3L665.9,447.3L668.8,447.3L671.7,447.3L674.6,447.3L677.5,447.3" fill="none" stroke="#a000c0" stroke-width="0.8"/>
<g fill="#ff00ff"><circle cx="561.3" cy="411.1" r="1.25"/><circle cx="564.2" cy="412.7" r="1.25"/><circle cx="567.1" cy="416.4" r="1.25"/><circle cx="570" cy="421.5" r="1.25"/><circle cx="572.9" cy="424.5" r="1.25"/><circle cx="575.8" cy="431.6" r="1.25"/><circle cx="578.7" cy="434.6" r="1.25"/><circle cx="581.6" cy="437.3" r="1.25"/><circle cx="584.5" cy="440.2" r="1.25"/><circle cx="587.4" cy="442.5" r="1.25"/><circle cx="590.3" cy="443.6" r="1.25"/><circle cx="593.3" cy="444.3" r="1.25"/><circle cx="596.2" cy="445" r="1.25"/><circle cx="599.1" cy="445.6" r="1.25"/><circle cx="602" cy="446.1" r="1.25"/><circle cx="604.9" cy="446.4" r="1.25"/><circle cx="607.8" cy="446.7" r="1.25"/><circle cx="610.7" cy="447" r="1.25"/><circle cx="613.6" cy="447.2" r="1.25"/><circle cx="616.5" cy="447.3" r="1.25"/><circle cx="619.4" cy="447.3" r="1.25"/><circle cx="622.3" cy="447.3" r="1.25"/><circle cx="625.2" cy="447.3" r="1.25"/><circle cx="628.1" cy="447.3" r="1.25"/><circle cx="631" cy="447.3" r="1.25"/><circle cx="633.9" cy="447.3" r="1.25"/><circle cx="636.8" cy="447.3" r="1.25"/><circle cx="639.7" cy="447.3" r="1.25"/><circle cx="642.6" cy="447.3" r="1.25"/><circle cx="645.5" cy="447.3" r="1.25"/><circle cx="648.4" cy="447.3" r="1.25"/><circle cx="651.4" cy="447.3" r="1.25"/><circle cx="654.3" cy="447.3" r="1.25"/><circle cx="657.2" cy="447.3" r="1.25"/><circle cx="660.1" cy="447.3" r="1.25"/><circle cx="663" cy="447.3" r="1.25"/><circle cx="665.9" cy="447.3" r="1.25"/><circle cx="668.8" cy="447.3" r="1.25"/><circle cx="671.7" cy="447.3" r="1.25"/><circle cx="674.6" cy="447.3" r="1.25"/><circle cx="677.5" cy="447.3" r="1.25"/></g>
<path d="M561.3,415.9L564.2,412.7L567.1,418.5L570,426.2L572.9,432.9L575.8,437.3L578.7,440.8L581.6,442.9L584.5,444.3L587.4,445.2L590.3,445.8L593.3,446.2L596.2,446.5L599.1,446.8L602,447L604.9,447.2L607.8,447.3L610.7,447.3L613.6,447.3L616.5,447.3L619.4,447.3L622.3,447.3L625.2,447.3L628.1,447.3L631,447.3L633.9,447.3L636.8,447.3L639.7,447.3L642.6,447.3L645.5,447.3L648.4,447.3L651.4,447.3L654.3,447.3L657.2,447.3L660.1,447.3L663,447.3L665.9,447.3L668.8,447.3L671.7,447.3L674.6,447.3L677.5,447.3" fill="none" stroke="#00a000" stroke-width="0.8"/>
<g fill="#8000ff"><circle cx="561.3" cy="415.9" r="1.25"/><circle cx="564.2" cy="412.7" r="1.25"/><circle cx="567.1" cy="418.5" r="1.25"/><circle cx="570" cy="426.2" r="1.25"/><circle cx="572.9" cy="432.9" r="1.25"/><circle cx="575.8" cy="437.3" r="1.25"/><circle cx="578.7" cy="440.8" r="1.25"/><circle cx="581.6" cy="442.9" r="1.25"/><circle cx="584.5" cy="444.3" r="1.25"/><circle cx="587.4" cy="445.2" r="1.25"/><circle cx="590.3" cy="445.8" r="1.25"/><circle cx="593.3" cy="446.2" r="1.25"/><circle cx="596.2" cy="446.5" r="1.25"/><circle cx="599.1" cy="446.8" r="1.25"/><circle cx="602" cy="447" r="1.25"/><circle cx="604.9" cy="447.2" r="1.25"/><circle cx="607.8" cy="447.3" r="1.25"/><circle cx="610.7" cy="447.3" r="1.25"/><circle cx="613.6" cy="447.3" r="1.25"/><circle cx="616.5" cy="447.3" r="1.25"/><circle cx="619.4" cy="447.3" r="1.25"/><circle cx="622.3" cy="447.3" r="1.25"/><circle cx="625.2" cy="447.3" r="1.25"/><circle cx="628.1" cy="447.3" r="1.25"/><circle cx="631" cy="447.3" r="1.25"/><circle cx="633.9" cy="447.3" r="1.25"/><circle cx="636.8" cy="447.3" r="1.25"/><circle cx="639.7" cy="447.3" r="1.25"/><circle cx="642.6" cy="447.3" r="1.25"/><circle cx="645.5" cy="447.3" r="1.25"/><circle cx="648.4" cy="447.3" r="1.25"/><circle cx="651.4" cy="447.3" r="1.25"/><circle cx="654.3" cy="447.3" r="1.25"/><circle cx="657.2" cy="447.3" r="1.25"/><circle cx="660.1" cy="447.3" r="1.25"/><circle cx="663" cy="447.3" r="1.25"/><circle cx="665.9" cy="447.3" r="1.25"/><circle cx="668.8" cy="447.3" r="1.25"/><circle cx="671.7" cy="447.3" r="1.25"/><circle cx="674.6" cy="447.3" r="1.25"/><circle cx="677.5" cy="447.3" r="1.25"/></g>
<path d="M561.3,328.5L564.2,399.5L567.1,422.2L570,430.9L572.9,435.9L575.8,442.5L578.7,443.3L581.6,444.3L584.5,445L587.4,445.6L590.3,446L593.3,446.3L596.2,446.6L599.1,446.9L602,447.1L604.9,447.3L607.8,447.3L610.7,447.3L613.6,447.3L616.5,447.3L619.4,447.3L622.3,447.3L625.2,447.3L628.1,447.3L631,447.3L633.9,447.3L636.8,447.3L639.7,447.3L642.6,447.3L645.5,447.3L648.4,447.3L651.4,447.3L654.3,447.3L657.2,447.3L660.1,447.3L663,447.3L665.9,447.3L668.8,447.3L671.7,447.3L674.6,447.3L677.5,447.3" fill="none" stroke="#ff8000" stroke-width="0.8"/>
<g fill="#ff8000"><circle cx="561.3" cy="328.5" r="1.25"/><circle cx="564.2" cy="399.5" r="1.25"/><circle cx="567.1" cy="422.2" r="1.25"/><circle cx="570" cy="430.9" r="1.25"/><circle cx="572.9" cy="435.9" r="1.25"/><circle cx="575.8" cy="442.5" r="1.25"/><circle cx="578.7" cy="443.3" r="1.25"/><circle cx="581.6" cy="444.3" r="1.25"/><circle cx="584.5" cy="445" r="1.25"/><circle cx="587.4" cy="445.6" r="1.25"/><circle cx="590.3" cy="446" r="1.25"/><circle cx="593.3" cy="446.3" r="1.25"/><circle cx="596.2" cy="446.6" r="1.25"/><circle cx="599.1" cy="446.9" r="1.25"/><circle cx="602" cy="447.1" r="1.25"/><circle cx="604.9" cy="447.3" r="1.25"/><circle cx="607.8" cy="447.3" r="1.25"/><circle cx="610.7" cy="447.3" r="1.25"/><circle cx="613.6" cy="447.3" r="1.25"/><circle cx="616.5" cy="447.3" r="1.25"/><circle cx="619.4" cy="447.3" r="1.25"/><circle cx="622.3" cy="447.3" r="1.25"/><circle cx="625.2" cy="447.3" r="1.25"/><circle cx="628.1" cy="447.3" r="1.25"/><circle cx="631" cy="447.3" r="1.25"/><circle cx="633.9" cy="447.3" r="1.25"/><circle cx="636.8" cy="447.3" r="1.25"/><circle cx="639.7" cy="447.3" r="1.25"/><circle cx="642.6" cy="447.3" r="1.25"/><circle cx="645.5" cy="447.3" r="1.25"/><circle cx="648.4" cy="447.3" r="1.25"/><circle cx="651.4" cy="447.3" r="1.25"/><circle cx="654.3" cy="447.3" r="1.25"/><circle cx="657.2" cy="447.3" r="1.25"/><circle cx="660.1" cy="447.3" r="1.25"/><circle cx="663" cy="447.3" r="1.25"/><circle cx="665.9" cy="447.3" r="1.25"/><circle cx="668.8" cy="447.3" r="1.25"/><circle cx="671.7" cy="447.3" r="1.25"/><circle cx="674.6" cy="447.3" r="1.25"/><circle cx="677.5" cy="447.3" r="1.25"/></g>
</g>
<line x1="558.9" y1="319.1" x2="678.7" y2="319.1" stroke="#999" stroke-width="1.2"/>
<line x1="678.7" y1="319.1" x2="678.7" y2="449" stroke="#444" stroke-width="1.0"/>
<line x1="558.9" y1="319.1" x2="558.9" y2="449.4" stroke="#262626" stroke-width="0.9"/>
<line x1="558.5" y1="449" x2="678.7" y2="449" stroke="#262626" stroke-width="0.9"/>
<line x1="556.9" y1="447.9" x2="558.9" y2="447.9" stroke="#262626" stroke-width="0.9"/>
<text x="555.9" y="449.8" font-size="5.5" text-anchor="end" fill="#000">0.0</text>
<line x1="556.9" y1="405.1" x2="558.9" y2="405.1" stroke="#262626" stroke-width="0.9"/>
<text x="555.9" y="407" font-size="5.5" text-anchor="end" fill="#000">0.3</text>
<line x1="556.9" y1="362.3" x2="558.9" y2="362.3" stroke="#262626" stroke-width="0.9"/>
<text x="555.9" y="364.2" font-size="5.5" text-anchor="end" fill="#000">0.6</text>
<line x1="556.9" y1="319.5" x2="558.9" y2="319.5" stroke="#262626" stroke-width="0.9"/>
<text x="555.9" y="321.4" font-size="5.5" text-anchor="end" fill="#000">0.9</text>
<line x1="557.7" y1="426.5" x2="558.9" y2="426.5" stroke="#262626" stroke-width="0.9"/>
<line x1="557.7" y1="383.7" x2="558.9" y2="383.7" stroke="#262626" stroke-width="0.9"/>
<line x1="557.7" y1="340.9" x2="558.9" y2="340.9" stroke="#262626" stroke-width="0.9"/>
<line x1="561.3" y1="449" x2="561.3" y2="451.1" stroke="#262626" stroke-width="0.9"/>
<text x="561.3" y="457.2" font-size="5.5" text-anchor="middle" fill="#000">0.1</text>
<line x1="570" y1="449" x2="570" y2="450.2" stroke="#262626" stroke-width="0.9"/>
<line x1="575.2" y1="449" x2="575.2" y2="450.2" stroke="#262626" stroke-width="0.9"/>
<line x1="578.8" y1="449" x2="578.8" y2="450.2" stroke="#262626" stroke-width="0.9"/>
<line x1="581.6" y1="449" x2="581.6" y2="450.2" stroke="#262626" stroke-width="0.9"/>
<line x1="583.9" y1="449" x2="583.9" y2="450.2" stroke="#262626" stroke-width="0.9"/>
<line x1="585.9" y1="449" x2="585.9" y2="450.2" stroke="#262626" stroke-width="0.9"/>
<line x1="587.5" y1="449" x2="587.5" y2="450.2" stroke="#262626" stroke-width="0.9"/>
<line x1="589" y1="449" x2="589" y2="450.2" stroke="#262626" stroke-width="0.9"/>
<line x1="590.3" y1="449" x2="590.3" y2="451.1" stroke="#262626" stroke-width="0.9"/>
<text x="590.3" y="457.2" font-size="5.5" text-anchor="middle" fill="#000">1</text>
<line x1="599.1" y1="449" x2="599.1" y2="450.2" stroke="#262626" stroke-width="0.9"/>
<line x1="604.2" y1="449" x2="604.2" y2="450.2" stroke="#262626" stroke-width="0.9"/>
<line x1="607.8" y1="449" x2="607.8" y2="450.2" stroke="#262626" stroke-width="0.9"/>
<line x1="610.7" y1="449" x2="610.7" y2="450.2" stroke="#262626" stroke-width="0.9"/>
<line x1="613" y1="449" x2="613" y2="450.2" stroke="#262626" stroke-width="0.9"/>
<line x1="614.9" y1="449" x2="614.9" y2="450.2" stroke="#262626" stroke-width="0.9"/>
<line x1="616.6" y1="449" x2="616.6" y2="450.2" stroke="#262626" stroke-width="0.9"/>
<line x1="618.1" y1="449" x2="618.1" y2="450.2" stroke="#262626" stroke-width="0.9"/>
<line x1="619.4" y1="449" x2="619.4" y2="451.1" stroke="#262626" stroke-width="0.9"/>
<text x="619.4" y="457.2" font-size="5.5" text-anchor="middle" fill="#000">10</text>
<line x1="628.1" y1="449" x2="628.1" y2="450.2" stroke="#262626" stroke-width="0.9"/>
<line x1="633.3" y1="449" x2="633.3" y2="450.2" stroke="#262626" stroke-width="0.9"/>
<line x1="636.9" y1="449" x2="636.9" y2="450.2" stroke="#262626" stroke-width="0.9"/>
<line x1="639.7" y1="449" x2="639.7" y2="450.2" stroke="#262626" stroke-width="0.9"/>
<line x1="642" y1="449" x2="642" y2="450.2" stroke="#262626" stroke-width="0.9"/>
<line x1="644" y1="449" x2="644" y2="450.2" stroke="#262626" stroke-width="0.9"/>
<line x1="645.6" y1="449" x2="645.6" y2="450.2" stroke="#262626" stroke-width="0.9"/>
<line x1="647.1" y1="449" x2="647.1" y2="450.2" stroke="#262626" stroke-width="0.9"/>
<line x1="648.4" y1="449" x2="648.4" y2="451.1" stroke="#262626" stroke-width="0.9"/>
<text x="648.4" y="457.2" font-size="5.5" text-anchor="middle" fill="#000">100</text>
<line x1="657.2" y1="449" x2="657.2" y2="450.2" stroke="#262626" stroke-width="0.9"/>
<line x1="662.3" y1="449" x2="662.3" y2="450.2" stroke="#262626" stroke-width="0.9"/>
<line x1="665.9" y1="449" x2="665.9" y2="450.2" stroke="#262626" stroke-width="0.9"/>
<line x1="668.8" y1="449" x2="668.8" y2="450.2" stroke="#262626" stroke-width="0.9"/>
<line x1="671.1" y1="449" x2="671.1" y2="450.2" stroke="#262626" stroke-width="0.9"/>
<line x1="673" y1="449" x2="673" y2="450.2" stroke="#262626" stroke-width="0.9"/>
<line x1="674.7" y1="449" x2="674.7" y2="450.2" stroke="#262626" stroke-width="0.9"/>
<line x1="676.2" y1="449" x2="676.2" y2="450.2" stroke="#262626" stroke-width="0.9"/>
<line x1="677.5" y1="449" x2="677.5" y2="451.1" stroke="#262626" stroke-width="0.9"/>
<text x="677.5" y="457.2" font-size="5.5" text-anchor="middle" fill="#000">1000</text>
<text x="617" y="464" font-size="7.3" text-anchor="middle" fill="#000">Shear rate (1/s)</text>
<text x="541.6" y="379.4" font-size="7.2" text-anchor="middle" fill="#000" transform="rotate(-90 541.6 379.4)">Viscosity (Pa.s)</text>
<text x="541.2" y="322.3" font-size="9.6" text-anchor="start" fill="#000" style="stroke-width:0.35px">J</text>
<rect x="585.8" y="323.7" width="89.0" height="92.0" fill="#fff"/>
<g clip-path="url(#cji)">
<path d="M590,410.5L594.2,408.4L598.4,408.1L602.6,407.9L606.8,408.4L611,409.7L615.3,410.9L619.5,411.7L623.7,412.4L627.9,412.8L632.1,413.1L636.3,413.3L640.5,413.5L644.7,413.7L648.9,413.8L653.1,413.9L657.4,414L661.6,414L665.8,414L670,414L674.2,414" fill="none" stroke="#000" stroke-width="0.8"/>
<g fill="#000"><circle cx="590" cy="410.5" r="1.25"/><circle cx="594.2" cy="408.4" r="1.25"/><circle cx="598.4" cy="408.1" r="1.25"/><circle cx="602.6" cy="407.9" r="1.25"/><circle cx="606.8" cy="408.4" r="1.25"/><circle cx="611" cy="409.7" r="1.25"/><circle cx="615.3" cy="410.9" r="1.25"/><circle cx="619.5" cy="411.7" r="1.25"/><circle cx="623.7" cy="412.4" r="1.25"/><circle cx="627.9" cy="412.8" r="1.25"/><circle cx="632.1" cy="413.1" r="1.25"/><circle cx="636.3" cy="413.3" r="1.25"/><circle cx="640.5" cy="413.5" r="1.25"/><circle cx="644.7" cy="413.7" r="1.25"/><circle cx="648.9" cy="413.8" r="1.25"/><circle cx="653.1" cy="413.9" r="1.25"/><circle cx="657.4" cy="414" r="1.25"/><circle cx="661.6" cy="414" r="1.25"/><circle cx="665.8" cy="414" r="1.25"/><circle cx="670" cy="414" r="1.25"/><circle cx="674.2" cy="414" r="1.25"/></g>
<path d="M590,408.4L594.2,403.8L598.4,404.6L602.6,405.7L606.8,406.1L611,409.5L615.3,410.7L619.5,411.8L623.7,412.4L627.9,412.8L632.1,413.1L636.3,413.3L640.5,413.5L644.7,413.7L648.9,413.8L653.1,413.9L657.4,414L661.6,414L665.8,414L670,414L674.2,414" fill="none" stroke="#ff6060" stroke-width="0.8"/>
<g fill="#ff0000"><circle cx="590" cy="408.4" r="1.25"/><circle cx="594.2" cy="403.8" r="1.25"/><circle cx="598.4" cy="404.6" r="1.25"/><circle cx="602.6" cy="405.7" r="1.25"/><circle cx="606.8" cy="406.1" r="1.25"/><circle cx="611" cy="409.5" r="1.25"/><circle cx="615.3" cy="410.7" r="1.25"/><circle cx="619.5" cy="411.8" r="1.25"/><circle cx="623.7" cy="412.4" r="1.25"/><circle cx="627.9" cy="412.8" r="1.25"/><circle cx="632.1" cy="413.1" r="1.25"/><circle cx="636.3" cy="413.3" r="1.25"/><circle cx="640.5" cy="413.5" r="1.25"/><circle cx="644.7" cy="413.7" r="1.25"/><circle cx="648.9" cy="413.8" r="1.25"/><circle cx="653.1" cy="413.9" r="1.25"/><circle cx="657.4" cy="414" r="1.25"/><circle cx="661.6" cy="414" r="1.25"/><circle cx="665.8" cy="414" r="1.25"/><circle cx="670" cy="414" r="1.25"/><circle cx="674.2" cy="414" r="1.25"/></g>
<path d="M590,400.2L594.2,397.1L598.4,400.5L602.6,403.3L606.8,405.3L611,406.7L615.3,408.9L619.5,410.9L623.7,411.9L627.9,412.6L632.1,413L636.3,413.2L640.5,413.4L644.7,413.6L648.9,413.8L653.1,413.9L657.4,414L661.6,414L665.8,414L670,414L674.2,414" fill="none" stroke="#0000ff" stroke-width="0.8"/>
<g fill="#0000ff"><circle cx="590" cy="400.2" r="1.25"/><circle cx="594.2" cy="397.1" r="1.25"/><circle cx="598.4" cy="400.5" r="1.25"/><circle cx="602.6" cy="403.3" r="1.25"/><circle cx="606.8" cy="405.3" r="1.25"/><circle cx="611" cy="406.7" r="1.25"/><circle cx="615.3" cy="408.9" r="1.25"/><circle cx="619.5" cy="410.9" r="1.25"/><circle cx="623.7" cy="411.9" r="1.25"/><circle cx="627.9" cy="412.6" r="1.25"/><circle cx="632.1" cy="413" r="1.25"/><circle cx="636.3" cy="413.2" r="1.25"/><circle cx="640.5" cy="413.4" r="1.25"/><circle cx="644.7" cy="413.6" r="1.25"/><circle cx="648.9" cy="413.8" r="1.25"/><circle cx="653.1" cy="413.9" r="1.25"/><circle cx="657.4" cy="414" r="1.25"/><circle cx="661.6" cy="414" r="1.25"/><circle cx="665.8" cy="414" r="1.25"/><circle cx="670" cy="414" r="1.25"/><circle cx="674.2" cy="414" r="1.25"/></g>
<path d="M590,378.1L594.2,382.7L598.4,393.5L602.6,399.2L606.8,403.8L611,407.3L615.3,409.8L619.5,411.2L623.7,412.1L627.9,412.7L632.1,413L636.3,413.2L640.5,413.4L644.7,413.6L648.9,413.8L653.1,413.9L657.4,414L661.6,414L665.8,414L670,414L674.2,414" fill="none" stroke="#808000" stroke-width="0.8"/>
<g fill="#008000"><circle cx="590" cy="378.1" r="1.25"/><circle cx="594.2" cy="382.7" r="1.25"/><circle cx="598.4" cy="393.5" r="1.25"/><circle cx="602.6" cy="399.2" r="1.25"/><circle cx="606.8" cy="403.8" r="1.25"/><circle cx="611" cy="407.3" r="1.25"/><circle cx="615.3" cy="409.8" r="1.25"/><circle cx="619.5" cy="411.2" r="1.25"/><circle cx="623.7" cy="412.1" r="1.25"/><circle cx="627.9" cy="412.7" r="1.25"/><circle cx="632.1" cy="413" r="1.25"/><circle cx="636.3" cy="413.2" r="1.25"/><circle cx="640.5" cy="413.4" r="1.25"/><circle cx="644.7" cy="413.6" r="1.25"/><circle cx="648.9" cy="413.8" r="1.25"/><circle cx="653.1" cy="413.9" r="1.25"/><circle cx="657.4" cy="414" r="1.25"/><circle cx="661.6" cy="414" r="1.25"/><circle cx="665.8" cy="414" r="1.25"/><circle cx="670" cy="414" r="1.25"/><circle cx="674.2" cy="414" r="1.25"/></g>
<path d="M590,388.2L594.2,389.4L598.4,392L602.6,395.6L606.8,397.8L611,402.8L615.3,405L619.5,406.9L623.7,408.9L627.9,410.5L632.1,411.4L636.3,411.9L640.5,412.4L644.7,412.8L648.9,413.1L653.1,413.4L657.4,413.6L661.6,413.7L665.8,413.9L670,414L674.2,414" fill="none" stroke="#a000c0" stroke-width="0.8"/>
<g fill="#ff00ff"><circle cx="590" cy="388.2" r="1.25"/><circle cx="594.2" cy="389.4" r="1.25"/><circle cx="598.4" cy="392" r="1.25"/><circle cx="602.6" cy="395.6" r="1.25"/><circle cx="606.8" cy="397.8" r="1.25"/><circle cx="611" cy="402.8" r="1.25"/><circle cx="615.3" cy="405" r="1.25"/><circle cx="619.5" cy="406.9" r="1.25"/><circle cx="623.7" cy="408.9" r="1.25"/><circle cx="627.9" cy="410.5" r="1.25"/><circle cx="632.1" cy="411.4" r="1.25"/><circle cx="636.3" cy="411.9" r="1.25"/><circle cx="640.5" cy="412.4" r="1.25"/><circle cx="644.7" cy="412.8" r="1.25"/><circle cx="648.9" cy="413.1" r="1.25"/><circle cx="653.1" cy="413.4" r="1.25"/><circle cx="657.4" cy="413.6" r="1.25"/><circle cx="661.6" cy="413.7" r="1.25"/><circle cx="665.8" cy="413.9" r="1.25"/><circle cx="670" cy="414" r="1.25"/><circle cx="674.2" cy="414" r="1.25"/></g>
<path d="M590,391.7L594.2,389.4L598.4,393.5L602.6,399L606.8,403.8L611,406.9L615.3,409.3L619.5,410.9L623.7,411.9L627.9,412.5L632.1,412.9L636.3,413.2L640.5,413.4L644.7,413.6L648.9,413.8L653.1,413.9L657.4,414L661.6,414L665.8,414L670,414L674.2,414" fill="none" stroke="#00a000" stroke-width="0.8"/>
<g fill="#8000ff"><circle cx="590" cy="391.7" r="1.25"/><circle cx="594.2" cy="389.4" r="1.25"/><circle cx="598.4" cy="393.5" r="1.25"/><circle cx="602.6" cy="399" r="1.25"/><circle cx="606.8" cy="403.8" r="1.25"/><circle cx="611" cy="406.9" r="1.25"/><circle cx="615.3" cy="409.3" r="1.25"/><circle cx="619.5" cy="410.9" r="1.25"/><circle cx="623.7" cy="411.9" r="1.25"/><circle cx="627.9" cy="412.5" r="1.25"/><circle cx="632.1" cy="412.9" r="1.25"/><circle cx="636.3" cy="413.2" r="1.25"/><circle cx="640.5" cy="413.4" r="1.25"/><circle cx="644.7" cy="413.6" r="1.25"/><circle cx="648.9" cy="413.8" r="1.25"/><circle cx="653.1" cy="413.9" r="1.25"/><circle cx="657.4" cy="414" r="1.25"/><circle cx="661.6" cy="414" r="1.25"/><circle cx="665.8" cy="414" r="1.25"/><circle cx="670" cy="414" r="1.25"/><circle cx="674.2" cy="414" r="1.25"/></g>
<path d="M590,329.5L594.2,380L598.4,396.1L602.6,402.3L606.8,405.9L611,410.5L615.3,411.2L619.5,411.9L623.7,412.4L627.9,412.8L632.1,413.1L636.3,413.3L640.5,413.5L644.7,413.7L648.9,413.8L653.1,413.9L657.4,414L661.6,414L665.8,414L670,414L674.2,414" fill="none" stroke="#ff8000" stroke-width="0.8"/>
<g fill="#ff8000"><circle cx="590" cy="329.5" r="1.25"/><circle cx="594.2" cy="380" r="1.25"/><circle cx="598.4" cy="396.1" r="1.25"/><circle cx="602.6" cy="402.3" r="1.25"/><circle cx="606.8" cy="405.9" r="1.25"/><circle cx="611" cy="410.5" r="1.25"/><circle cx="615.3" cy="411.2" r="1.25"/><circle cx="619.5" cy="411.9" r="1.25"/><circle cx="623.7" cy="412.4" r="1.25"/><circle cx="627.9" cy="412.8" r="1.25"/><circle cx="632.1" cy="413.1" r="1.25"/><circle cx="636.3" cy="413.3" r="1.25"/><circle cx="640.5" cy="413.5" r="1.25"/><circle cx="644.7" cy="413.7" r="1.25"/><circle cx="648.9" cy="413.8" r="1.25"/><circle cx="653.1" cy="413.9" r="1.25"/><circle cx="657.4" cy="414" r="1.25"/><circle cx="661.6" cy="414" r="1.25"/><circle cx="665.8" cy="414" r="1.25"/><circle cx="670" cy="414" r="1.25"/><circle cx="674.2" cy="414" r="1.25"/></g>
</g>
<line x1="585.8" y1="323.7" x2="674.8" y2="323.7" stroke="#d8d8d8" stroke-width="0.8"/>
<line x1="674.8" y1="323.7" x2="674.8" y2="415.7" stroke="#d8d8d8" stroke-width="0.8"/>
<line x1="585.8" y1="323.7" x2="585.8" y2="416.1" stroke="#262626" stroke-width="0.9"/>
<line x1="585.4" y1="415.7" x2="674.8" y2="415.7" stroke="#262626" stroke-width="0.9"/>
<line x1="583.8" y1="414.4" x2="585.8" y2="414.4" stroke="#262626" stroke-width="0.9"/>
<text x="583.2" y="416.4" font-size="5.8" text-anchor="end" fill="#000">0.0</text>
<line x1="583.8" y1="384" x2="585.8" y2="384" stroke="#262626" stroke-width="0.9"/>
<text x="583.2" y="386" font-size="5.8" text-anchor="end" fill="#000">0.3</text>
<line x1="583.8" y1="353.6" x2="585.8" y2="353.6" stroke="#262626" stroke-width="0.9"/>
<text x="583.2" y="355.6" font-size="5.8" text-anchor="end" fill="#000">0.6</text>
<line x1="583.8" y1="323.1" x2="585.8" y2="323.1" stroke="#262626" stroke-width="0.9"/>
<text x="583.2" y="325.1" font-size="5.8" text-anchor="end" fill="#000">0.9</text>
<line x1="584.6" y1="399.2" x2="585.8" y2="399.2" stroke="#262626" stroke-width="0.9"/>
<line x1="584.6" y1="368.8" x2="585.8" y2="368.8" stroke="#262626" stroke-width="0.9"/>
<line x1="584.6" y1="338.3" x2="585.8" y2="338.3" stroke="#262626" stroke-width="0.9"/>
<line x1="590" y1="415.7" x2="590" y2="417.8" stroke="#262626" stroke-width="0.9"/>
<text x="590" y="423.9" font-size="5.8" text-anchor="middle" fill="#000">0.1</text>
<line x1="602.7" y1="415.7" x2="602.7" y2="416.9" stroke="#262626" stroke-width="0.9"/>
<line x1="610.1" y1="415.7" x2="610.1" y2="416.9" stroke="#262626" stroke-width="0.9"/>
<line x1="615.3" y1="415.7" x2="615.3" y2="416.9" stroke="#262626" stroke-width="0.9"/>
<line x1="619.4" y1="415.7" x2="619.4" y2="416.9" stroke="#262626" stroke-width="0.9"/>
<line x1="622.8" y1="415.7" x2="622.8" y2="416.9" stroke="#262626" stroke-width="0.9"/>
<line x1="625.6" y1="415.7" x2="625.6" y2="416.9" stroke="#262626" stroke-width="0.9"/>
<line x1="628" y1="415.7" x2="628" y2="416.9" stroke="#262626" stroke-width="0.9"/>
<line x1="630.2" y1="415.7" x2="630.2" y2="416.9" stroke="#262626" stroke-width="0.9"/>
<line x1="632.1" y1="415.7" x2="632.1" y2="417.8" stroke="#262626" stroke-width="0.9"/>
<text x="632.1" y="423.9" font-size="5.8" text-anchor="middle" fill="#000">1</text>
<line x1="644.8" y1="415.7" x2="644.8" y2="416.9" stroke="#262626" stroke-width="0.9"/>
<line x1="652.2" y1="415.7" x2="652.2" y2="416.9" stroke="#262626" stroke-width="0.9"/>
<line x1="657.4" y1="415.7" x2="657.4" y2="416.9" stroke="#262626" stroke-width="0.9"/>
<line x1="661.5" y1="415.7" x2="661.5" y2="416.9" stroke="#262626" stroke-width="0.9"/>
<line x1="664.9" y1="415.7" x2="664.9" y2="416.9" stroke="#262626" stroke-width="0.9"/>
<line x1="667.7" y1="415.7" x2="667.7" y2="416.9" stroke="#262626" stroke-width="0.9"/>
<line x1="670.1" y1="415.7" x2="670.1" y2="416.9" stroke="#262626" stroke-width="0.9"/>
<line x1="672.3" y1="415.7" x2="672.3" y2="416.9" stroke="#262626" stroke-width="0.9"/>
<line x1="674.2" y1="415.7" x2="674.2" y2="417.8" stroke="#262626" stroke-width="0.9"/>
<text x="674.2" y="423.9" font-size="5.8" text-anchor="middle" fill="#000">10</text>
<text x="628" y="429.6" font-size="6.2" text-anchor="middle" fill="#000">Shear rate (1/s)</text>
<text x="573.2" y="369.2" font-size="6.2" text-anchor="middle" fill="#000" transform="rotate(-90 573.2 369.2)">Viscosity (Pa.s)</text>
<line x1="616.2" y1="328.5" x2="627.5" y2="328.5" stroke="#000" stroke-width="0.9"/>
<circle cx="621.9" cy="328.5" r="1.2" fill="#000"/>
<text x="628.8" y="330.3" font-size="4.9" text-anchor="start" fill="#000">MFGM 20 °C</text>
<line x1="616.2" y1="334.8" x2="627.5" y2="334.8" stroke="#ff9090" stroke-width="0.9"/>
<circle cx="621.9" cy="334.8" r="1.2" fill="#ff0000"/>
<text x="628.8" y="336.6" font-size="4.9" text-anchor="start" fill="#000">MFGM 40 °C</text>
<line x1="616.2" y1="341.1" x2="627.5" y2="341.1" stroke="#0000ff" stroke-width="0.9"/>
<circle cx="621.9" cy="341.1" r="1.2" fill="#0000ff"/>
<text x="628.8" y="342.9" font-size="4.9" text-anchor="start" fill="#000">MFGM 60 °C</text>
<line x1="616.2" y1="347.3" x2="627.5" y2="347.3" stroke="#808000" stroke-width="0.9"/>
<circle cx="621.9" cy="347.3" r="1.2" fill="#008000"/>
<text x="628.8" y="349.1" font-size="4.9" text-anchor="start" fill="#000">MFGM 80 °C</text>
<line x1="616.2" y1="353.6" x2="627.5" y2="353.6" stroke="#a000c0" stroke-width="0.9"/>
<circle cx="621.9" cy="353.6" r="1.2" fill="#ff00ff"/>
<text x="628.8" y="355.4" font-size="4.9" text-anchor="start" fill="#000">MFGM-1 mM SDS</text>
<line x1="616.2" y1="359.9" x2="627.5" y2="359.9" stroke="#00a000" stroke-width="0.9"/>
<circle cx="621.9" cy="359.9" r="1.2" fill="#8000ff"/>
<text x="628.8" y="361.7" font-size="4.9" text-anchor="start" fill="#000">MFGM-1 mM DTAB</text>
<line x1="616.2" y1="366.2" x2="627.5" y2="366.2" stroke="#ff8000" stroke-width="0.9"/>
<circle cx="621.9" cy="366.2" r="1.2" fill="#ff8000"/>
<text x="628.8" y="368" font-size="4.9" text-anchor="start" fill="#000">MFGM-1 mM PS20</text></svg></body></html>
